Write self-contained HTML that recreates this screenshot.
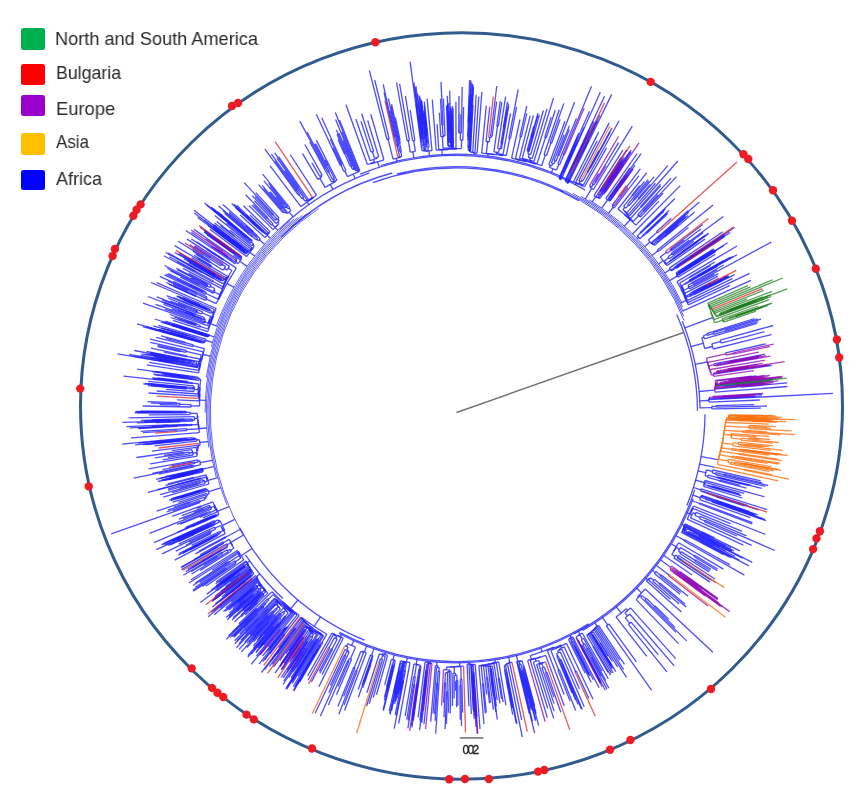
<!DOCTYPE html>
<html><head><meta charset="utf-8"><style>
html,body{margin:0;padding:0;background:#fff;width:862px;height:803px;overflow:hidden}
.lg{position:absolute;font-family:"Liberation Sans",sans-serif;font-size:19px;line-height:1;color:#2a2a2a;white-space:nowrap;transform-origin:0 0;-webkit-font-smoothing:antialiased;will-change:transform}
.sq{position:absolute;left:20.6px;width:24.6px;border-radius:2.5px}
svg{position:absolute;left:0;top:0}
</style></head><body>
<svg width="862" height="803" viewBox="0 0 862 803">
<ellipse cx="461.5" cy="406.0" rx="381" ry="373.3" fill="none" stroke="#315b8e" stroke-width="3"/>
<g stroke="#2222ff" stroke-opacity="0.8" stroke-width="1.3" fill="none"><path d="M372.9 182.7A244.5 244.5 0 0 1 578.8 200.8"/><path d="M397.0 174.0A245.8 245.8 0 0 1 564.3 191.6"/><path d="M360.2 174.2A257 257 0 0 1 585.0 189.9"/><path d="M381.0 165.5A258.3 258.3 0 0 1 573.8 182.4"/><path d="M281.1 237.1A248 248 0 0 1 392.3 173.0"/><path d="M279.4 229.1A255 255 0 0 1 369.3 172.9"/><path d="M364.5 640.1A245.5 245.5 0 0 1 239.7 527.8"/><path d="M282.9 598.6A254.5 254.5 0 0 1 245.5 554.8"/><path d="M588.4 623.7A249 249 0 0 1 339.6 632.4"/><path d="M589.1 624.8A250.3 250.3 0 0 1 339.0 633.5"/><path d="M694.7 489.9A250.5 250.5 0 0 1 574.1 633.7"/><path d="M693.1 498.6A251.8 251.8 0 0 1 582.4 630.6"/><path d="M705.0 414.2A248.5 248.5 0 0 1 686.9 505.6"/><path d="M676.7 314.5A241 241 0 0 1 697.5 410.8"/><path d="M682.3 321.3A243.5 243.5 0 0 1 700.0 408.3"/></g>
<g stroke="#2222ff" stroke-opacity="0.8" stroke-width="0.9" fill="none"><path d="M243.3 535.6A246.2 246.2 0 0 1 318.8 208.4"/><path d="M227.0 505.2A247.5 247.5 0 0 1 311.0 212.3"/><path d="M216.2 476.9A248.8 248.8 0 0 1 306.8 213.8"/><path d="M208.8 447.3A250.1 250.1 0 0 1 302.5 215.4"/><path d="M205.1 412.5A251.4 251.4 0 0 1 298.3 217.1"/><path d="M206.3 377.3A252.7 252.7 0 0 1 294.1 218.9"/><path d="M211.2 346.8A254 254 0 0 1 289.9 220.8"/><path d="M216.6 325.2A255.3 255.3 0 0 1 279.2 228.9"/></g>
<g stroke="#2222ff" stroke-opacity="0.8" stroke-width="1.0" fill="none"><path d="M560.3 190.0A245.5 245.5 0 0 1 684.1 320.5"/><path d="M564.7 190.7A246.8 246.8 0 0 1 683.7 316.1"/><path d="M573.0 193.4A248.1 248.1 0 0 1 683.2 311.6"/><path d="M581.2 196.5A249.4 249.4 0 0 1 682.5 307.1"/><path d="M589.4 199.9A250.7 250.7 0 0 1 681.8 302.6"/></g>
<g stroke="#2222ff" stroke-opacity="0.8" stroke-width="1.3" fill="none"><path d="M701.1 456.6L717.9 459.6"/><path d="M699.6 464.1L714.4 467.2"/><path d="M712.9 470.0L760.8 480.8"/><path d="M723.9 474.1L762.0 482.8"/><path d="M723.7 475.1L768.1 485.5"/><path d="M723.9 474.1A274.4 274.4 0 0 1 723.7 475.1"/><path d="M715.8 472.7L723.8 474.6"/><path d="M715.4 474.5L765.1 486.4"/><path d="M715.8 472.7A266.2 266.2 0 0 1 715.4 474.5"/><path d="M712.2 472.8L715.6 473.6"/><path d="M712.9 470.0A262.7 262.7 0 0 1 712.2 472.8"/><path d="M706.4 470.0L712.5 471.4"/><path d="M718.3 477.2L751.2 485.3"/><path d="M718.2 477.6L761.7 488.4"/><path d="M718.3 477.2A269.6 269.6 0 0 1 718.2 477.6"/><path d="M716.7 477.0L718.2 477.4"/><path d="M716.5 477.6L747.9 485.4"/><path d="M716.7 477.0A268.0 268.0 0 0 1 716.5 477.6"/><path d="M708.1 475.2L716.6 477.3"/><path d="M719.7 480.0L740.3 485.3"/><path d="M719.5 481.1L746.5 488.1"/><path d="M719.7 480.0A271.8 271.8 0 0 1 719.5 481.1"/><path d="M707.5 477.4L719.6 480.6"/><path d="M708.1 475.2A259.3 259.3 0 0 1 707.5 477.4"/><path d="M705.1 475.6L707.8 476.3"/><path d="M706.4 470.0A256.5 256.5 0 0 1 705.1 475.6"/><path d="M705.4 472.7L705.8 472.8"/><path d="M698.0 470.9L705.4 472.7"/><path d="M704.9 480.5L764.5 496.8"/><path d="M705.2 482.4L744.2 493.3"/><path d="M713.1 486.3L739.3 493.8"/><path d="M713.0 486.6L740.3 494.5"/><path d="M713.1 486.3A267.0 267.0 0 0 1 713.0 486.6"/><path d="M711.5 486.0L713.0 486.4"/><path d="M711.4 486.6L731.6 492.4"/><path d="M711.5 486.0A265.4 265.4 0 0 1 711.4 486.6"/><path d="M707.5 485.2L711.4 486.3"/><path d="M707.3 485.8L741.3 495.7"/><path d="M707.5 485.2A261.3 261.3 0 0 1 707.3 485.8"/><path d="M704.6 484.6L707.4 485.5"/><path d="M705.2 482.4A258.3 258.3 0 0 1 704.6 484.6"/><path d="M704.5 483.4L704.9 483.5"/><path d="M703.6 486.4L742.3 498.0"/><path d="M704.5 483.4A257.9 257.9 0 0 1 703.6 486.4"/><path d="M703.7 484.8L704.1 484.9"/><path d="M704.9 480.5A257.5 257.5 0 0 1 703.7 484.8"/><path d="M703.9 482.5L704.3 482.7"/><path d="M695.6 480.2L703.9 482.5"/><path d="M701.0 488.9L767.1 509.6"/><path d="M702.4 491.0L747.5 505.4"/><path d="M716.5 496.4L758.6 509.9"/><path d="M716.4 496.8L744.4 505.8"/><path d="M716.5 496.4A273.2 273.2 0 0 1 716.4 496.8"/><path d="M706.9 493.5L716.4 496.6"/><path d="M707.1 492.9A263.2 263.2 0 0 1 706.9 493.5"/><path d="M702.2 491.6L707.0 493.2"/><path d="M702.4 491.0A258.1 258.1 0 0 1 702.2 491.6"/><path d="M700.4 490.7L702.3 491.3"/><path d="M701.0 488.9A256.2 256.2 0 0 1 700.4 490.7"/><path d="M700.3 489.7L700.7 489.8"/><path d="M693.4 487.5L700.3 489.7"/><path d="M701.6 495.4L749.6 511.6"/><path d="M715.3 500.4L757.9 514.9"/><path d="M719.4 502.2L754.0 514.0"/><path d="M719.3 502.6L755.7 515.1"/><path d="M719.4 502.2A277.8 277.8 0 0 1 719.3 502.6"/><path d="M715.1 501.0L719.4 502.4"/><path d="M715.3 500.4A273.4 273.4 0 0 1 715.1 501.0"/><path d="M701.8 496.1L715.2 500.7"/><path d="M705.9 498.5L753.4 514.8"/><path d="M716.6 502.6L765.0 519.4"/><path d="M716.5 503.0L761.3 518.6"/><path d="M716.6 502.6A275.3 275.3 0 0 1 716.5 503.0"/><path d="M712.1 501.2L716.5 502.8"/><path d="M711.9 501.8L766.0 520.7"/><path d="M712.1 501.2A270.5 270.5 0 0 1 711.9 501.8"/><path d="M705.6 499.3L712.0 501.5"/><path d="M705.9 498.5A263.8 263.8 0 0 1 705.6 499.3"/><path d="M701.4 497.4L705.8 498.9"/><path d="M701.8 496.1A259.2 259.2 0 0 1 701.4 497.4"/><path d="M701.2 496.6L701.6 496.7"/><path d="M701.6 495.4A258.8 258.8 0 0 1 701.2 496.6"/><path d="M701.0 495.9L701.4 496.0"/><path d="M699.7 499.6L750.4 517.7"/><path d="M701.0 495.9A258.4 258.4 0 0 1 699.7 499.6"/><path d="M700.0 497.6L700.4 497.7"/><path d="M693.0 495.1L700.0 497.6"/><path d="M699.8 503.0L752.4 522.6"/><path d="M699.5 504.0L752.2 523.9"/><path d="M699.8 503.0A259.6 259.6 0 0 1 699.5 504.0"/><path d="M695.5 502.0L699.6 503.5"/><path d="M692.3 500.8L695.5 502.0"/><path d="M693.3 506.0L765.3 534.4"/><path d="M692.8 508.4L730.6 523.7"/><path d="M696.1 512.3L742.2 531.4"/><path d="M700.4 516.3L746.5 535.9"/><path d="M705.1 520.3L774.9 550.5"/><path d="M704.5 521.7L736.9 536.0"/><path d="M705.1 520.3A271.0 271.0 0 0 1 704.5 521.7"/><path d="M699.4 518.6L704.8 521.0"/><path d="M700.4 516.3A265.0 265.0 0 0 1 699.4 518.6"/><path d="M694.9 515.3L699.9 517.4"/><path d="M696.1 512.3A259.6 259.6 0 0 1 694.9 515.3"/><path d="M692.9 512.7L695.5 513.8"/><path d="M690.6 517.9L751.6 545.4"/><path d="M692.9 512.7A256.7 256.7 0 0 1 690.6 517.9"/><path d="M690.2 514.6L691.7 515.3"/><path d="M692.8 508.4A255.0 255.0 0 0 1 690.2 514.6"/><path d="M691.1 511.4L691.5 511.5"/><path d="M693.3 506.0A254.6 254.6 0 0 1 691.1 511.4"/><path d="M691.9 508.5L692.2 508.7"/><path d="M687.2 519.2L743.4 545.2"/><path d="M691.9 508.5A254.2 254.2 0 0 1 687.2 519.2"/><path d="M689.2 513.7L689.6 513.9"/><path d="M687.4 512.9L689.2 513.7"/><path d="M702.0 531.8L714.5 537.8"/><path d="M701.8 532.3L739.9 550.9"/><path d="M702.0 531.8A272.9 272.9 0 0 1 701.8 532.3"/><path d="M685.1 523.8L701.9 532.0"/><path d="M685.1 524.7L710.0 536.9"/><path d="M704.8 535.0L731.2 548.0"/><path d="M704.5 535.5L725.6 546.0"/><path d="M704.8 535.0A276.9 276.9 0 0 1 704.5 535.5"/><path d="M685.5 525.8L704.6 535.3"/><path d="M685.9 526.9L734.2 551.0"/><path d="M686.0 527.5L732.0 550.6"/><path d="M687.1 528.7L731.6 551.1"/><path d="M699.1 535.4L752.3 562.3"/><path d="M699.2 536.0L742.7 558.1"/><path d="M699.0 536.5L719.7 547.1"/><path d="M699.2 536.0A272.4 272.4 0 0 1 699.0 536.5"/><path d="M698.8 536.1L699.1 536.3"/><path d="M699.1 535.4A272.0 272.0 0 0 1 698.8 536.1"/><path d="M693.3 532.9L699.0 535.7"/><path d="M692.7 534.0L725.6 550.8"/><path d="M693.3 532.9A265.6 265.6 0 0 1 692.7 534.0"/><path d="M689.2 531.5L693.0 533.4"/><path d="M688.7 532.5L735.2 556.5"/><path d="M689.2 531.5A261.4 261.4 0 0 1 688.7 532.5"/><path d="M688.6 531.8L688.9 532.0"/><path d="M688.1 532.8L714.2 546.4"/><path d="M688.6 531.8A261.0 261.0 0 0 1 688.1 532.8"/><path d="M687.0 531.6L688.3 532.3"/><path d="M686.5 532.5L739.0 560.0"/><path d="M687.0 531.6A259.4 259.4 0 0 1 686.5 532.5"/><path d="M685.6 531.5L686.7 532.1"/><path d="M687.1 528.7A258.2 258.2 0 0 1 685.6 531.5"/><path d="M685.4 529.6L686.4 530.1"/><path d="M684.2 531.9L748.9 565.9"/><path d="M685.4 529.6A257.1 257.1 0 0 1 684.2 531.9"/><path d="M684.4 530.6L684.8 530.8"/><path d="M686.0 527.5A256.7 256.7 0 0 1 684.4 530.6"/><path d="M684.9 528.9L685.2 529.0"/><path d="M685.9 526.9A256.3 256.3 0 0 1 684.9 528.9"/><path d="M685.0 527.7L685.4 527.9"/><path d="M701.1 541.5L731.7 557.6"/><path d="M700.8 542.0L729.8 557.3"/><path d="M701.1 541.5A276.5 276.5 0 0 1 700.8 542.0"/><path d="M682.7 532.1L700.9 541.7"/><path d="M685.0 527.7A255.9 255.9 0 0 1 682.7 532.1"/><path d="M683.5 529.7L683.9 529.9"/><path d="M685.5 525.8A255.5 255.5 0 0 1 683.5 529.7"/><path d="M684.2 527.6L684.5 527.8"/><path d="M681.6 532.4L723.7 554.8"/><path d="M684.2 527.6A255.1 255.1 0 0 1 681.6 532.4"/><path d="M682.6 529.8L682.9 530.0"/><path d="M685.1 524.7A254.7 254.7 0 0 1 682.6 529.8"/><path d="M683.5 527.1L683.9 527.3"/><path d="M685.1 523.8A254.3 254.3 0 0 1 683.5 527.1"/><path d="M684.0 525.3L684.3 525.5"/><path d="M682.1 524.4L684.0 525.3"/><path d="M684.9 539.8L730.0 564.9"/><path d="M684.1 541.0L744.4 575.1"/><path d="M684.9 539.8A261.4 261.4 0 0 1 684.1 541.0"/><path d="M679.5 537.6L684.5 540.4"/><path d="M676.1 535.7L679.5 537.6"/><path d="M678.6 542.8L723.4 569.1"/><path d="M694.6 555.2L717.6 569.0"/><path d="M693.9 556.4L717.5 570.7"/><path d="M694.6 555.2A277.6 277.6 0 0 1 693.9 556.4"/><path d="M680.6 547.6L694.3 555.8"/><path d="M695.6 559.8L711.0 569.3"/><path d="M694.9 561.0L710.2 570.5"/><path d="M695.6 559.8A280.8 280.8 0 0 1 694.9 561.0"/><path d="M681.1 551.6L695.2 560.4"/><path d="M679.9 553.5L709.1 571.9"/><path d="M681.1 551.6A264.2 264.2 0 0 1 679.9 553.5"/><path d="M678.4 551.2L680.5 552.6"/><path d="M680.6 547.6A261.7 261.7 0 0 1 678.4 551.2"/><path d="M676.3 547.4L679.5 549.4"/><path d="M678.6 555.5L715.0 579.0"/><path d="M682.2 560.6L716.0 582.7"/><path d="M682.5 560.2A269.9 269.9 0 0 1 682.2 560.6"/><path d="M677.8 557.4L682.3 560.4"/><path d="M677.4 558.0L710.6 579.9"/><path d="M677.8 557.4A264.5 264.5 0 0 1 677.4 558.0"/><path d="M677.3 557.5L677.6 557.7"/><path d="M678.6 555.5A264.1 264.1 0 0 1 677.3 557.5"/><path d="M675.7 555.1L677.9 556.5"/><path d="M673.9 557.9L710.0 582.1"/><path d="M675.7 555.1A261.5 261.5 0 0 1 673.9 557.9"/><path d="M671.8 554.5L674.8 556.5"/><path d="M676.3 547.4A257.9 257.9 0 0 1 671.8 554.5"/><path d="M673.7 550.8L674.1 551.0"/><path d="M678.6 542.8A257.5 257.5 0 0 1 673.7 550.8"/><path d="M675.9 546.6L676.2 546.8"/><path d="M671.3 543.8L675.9 546.6"/><path d="M667.8 558.2L692.1 575.0"/><path d="M663.8 555.5L667.8 558.2"/><path d="M686.8 577.0L717.5 599.0"/><path d="M686.8 577.0A283.0 283.0 0 0 1 686.5 577.4"/><path d="M680.0 572.5L686.6 577.2"/><path d="M660.6 560.0L670.6 567.2"/><path d="M669.3 574.5A267.4 267.4 0 0 1 668.5 575.5"/><path d="M665.7 572.6L668.9 575.0"/><path d="M656.5 565.5L665.7 572.6"/><path d="M661.1 574.8L688.1 596.2"/><path d="M660.2 575.9L680.8 592.4"/><path d="M661.1 574.8A261.2 261.2 0 0 1 660.2 575.9"/><path d="M655.9 571.6L660.7 575.4"/><path d="M654.4 573.5L680.0 594.3"/><path d="M655.9 571.6A255.1 255.1 0 0 1 654.4 573.5"/><path d="M654.3 571.8L655.2 572.5"/><path d="M652.6 570.5L654.3 571.8"/><path d="M660.2 583.2L685.2 604.2"/><path d="M659.2 584.3L686.1 607.1"/><path d="M660.2 583.2A265.8 265.8 0 0 1 659.2 584.3"/><path d="M654.5 579.4L659.7 583.8"/><path d="M652.9 581.2L679.2 603.9"/><path d="M654.5 579.4A258.9 258.9 0 0 1 652.9 581.2"/><path d="M650.7 577.8L653.7 580.3"/><path d="M648.6 580.1L670.5 599.2"/><path d="M650.7 577.8A255.0 255.0 0 0 1 648.6 580.1"/><path d="M648.9 578.3L649.7 578.9"/><path d="M646.5 581.1L681.5 612.1"/><path d="M648.9 578.3A254.0 254.0 0 0 1 646.5 581.1"/><path d="M647.4 579.4L647.7 579.7"/><path d="M646.1 578.2L647.4 579.4"/><path d="M645.2 589.0L712.9 652.2"/><path d="M655.1 606.0L668.9 619.4"/><path d="M654.2 606.9L675.0 627.4"/><path d="M655.1 606.0A277.3 277.3 0 0 1 654.2 606.9"/><path d="M646.3 598.3L654.6 606.4"/><path d="M645.0 599.6L686.6 640.9"/><path d="M646.3 598.3A265.6 265.6 0 0 1 645.0 599.6"/><path d="M642.3 595.6L645.7 598.9"/><path d="M640.7 597.1L676.0 632.4"/><path d="M642.3 595.6A260.8 260.8 0 0 1 640.7 597.1"/><path d="M640.5 595.4L641.5 596.4"/><path d="M636.2 599.6L678.5 643.6"/><path d="M640.5 595.4A259.4 259.4 0 0 1 636.2 599.6"/><path d="M637.7 596.8L638.4 597.5"/><path d="M645.2 589.0A258.4 258.4 0 0 1 637.7 596.8"/><path d="M641.2 592.6L641.5 592.9"/><path d="M636.8 588.3L641.2 592.6"/><path d="M630.5 607.9L675.7 658.6"/><path d="M629.7 614.0L674.2 665.8"/><path d="M631.1 622.2L658.2 654.7"/><path d="M628.4 624.4L666.9 671.8"/><path d="M631.1 622.2A272.9 272.9 0 0 1 628.4 624.4"/><path d="M625.3 617.8L629.8 623.3"/><path d="M629.7 614.0A265.8 265.8 0 0 1 625.3 617.8"/><path d="M624.9 612.8L627.5 615.9"/><path d="M630.5 607.9A261.7 261.7 0 0 1 624.9 612.8"/><path d="M626.3 608.7L627.7 610.4"/><path d="M616.1 617.1L646.8 656.4"/><path d="M626.3 608.7A259.5 259.5 0 0 1 616.1 617.1"/><path d="M621.0 612.6L621.3 613.0"/><path d="M616.4 607.0L621.0 612.6"/><path d="M609.0 623.9L636.4 661.9"/><path d="M606.3 625.9L651.6 690.4"/><path d="M609.0 623.9A260.7 260.7 0 0 1 606.3 625.9"/><path d="M604.8 620.9L607.7 624.9"/><path d="M602.5 617.6L604.8 620.9"/><path d="M598.5 625.3L624.5 664.3"/><path d="M597.4 626.5L619.6 660.1"/><path d="M596.4 627.7L623.6 669.6"/><path d="M595.3 628.8L626.5 677.3"/><path d="M594.3 630.0L617.6 666.8"/><path d="M600.6 642.7L612.3 661.5"/><path d="M599.9 643.1L607.9 656.0"/><path d="M600.6 642.7A271.6 271.6 0 0 1 599.9 643.1"/><path d="M593.4 631.9L600.2 642.9"/><path d="M592.9 634.4L615.8 671.7"/><path d="M599.3 645.3L611.7 665.6"/><path d="M599.1 645.5L611.7 666.1"/><path d="M599.3 645.3A273.1 273.1 0 0 1 599.1 645.5"/><path d="M595.7 639.6L599.2 645.4"/><path d="M595.3 639.8L612.5 668.0"/><path d="M595.7 639.6A266.4 266.4 0 0 1 595.3 639.8"/><path d="M593.2 636.0L595.5 639.7"/><path d="M592.8 636.2L611.1 666.2"/><path d="M593.2 636.0A262.0 262.0 0 0 1 592.8 636.2"/><path d="M592.2 634.9L593.0 636.1"/><path d="M592.9 634.4A260.5 260.5 0 0 1 592.2 634.9"/><path d="M592.4 634.3L592.6 634.6"/><path d="M591.6 634.8L612.2 668.6"/><path d="M592.4 634.3A260.1 260.1 0 0 1 591.6 634.8"/><path d="M591.4 633.6L592.0 634.5"/><path d="M590.0 634.5L613.1 672.9"/><path d="M591.4 633.6A259.0 259.0 0 0 1 590.0 634.5"/><path d="M590.5 633.7L590.7 634.1"/><path d="M593.4 631.9A258.6 258.6 0 0 1 590.5 633.7"/><path d="M591.7 632.5L592.0 632.8"/><path d="M588.4 634.5L611.4 673.1"/><path d="M591.7 632.5A258.2 258.2 0 0 1 588.4 634.5"/><path d="M589.9 633.2L590.1 633.5"/><path d="M593.6 646.2L610.6 675.2"/><path d="M593.0 646.6L608.1 672.5"/><path d="M593.6 646.2A270.9 270.9 0 0 1 593.0 646.6"/><path d="M586.7 635.1L593.3 646.4"/><path d="M589.9 633.2A257.8 257.8 0 0 1 586.7 635.1"/><path d="M588.1 633.8L588.3 634.1"/><path d="M594.3 630.0A257.4 257.4 0 0 1 588.1 633.8"/><path d="M591.0 631.6L591.2 631.9"/><path d="M595.3 628.8A257.0 257.0 0 0 1 591.0 631.6"/><path d="M593.0 629.9L593.2 630.2"/><path d="M596.4 627.7A256.6 256.6 0 0 1 593.0 629.9"/><path d="M594.5 628.4L594.7 628.8"/><path d="M597.4 626.5A256.2 256.2 0 0 1 594.5 628.4"/><path d="M595.7 627.1L596.0 627.5"/><path d="M598.5 625.3A255.8 255.8 0 0 1 595.7 627.1"/><path d="M596.9 625.9L597.1 626.2"/><path d="M594.9 622.8L596.9 625.9"/><path d="M582.2 633.0L608.3 678.8"/><path d="M583.5 638.3L602.0 671.1"/><path d="M587.9 648.3L605.8 680.5"/><path d="M591.8 657.4L608.9 688.2"/><path d="M591.2 657.7L601.3 676.2"/><path d="M591.8 657.4A279.8 279.8 0 0 1 591.2 657.7"/><path d="M586.7 648.9L591.5 657.5"/><path d="M587.9 648.3A269.9 269.9 0 0 1 586.7 648.9"/><path d="M584.5 643.6L587.3 648.6"/><path d="M582.8 644.6L607.0 689.1"/><path d="M584.5 643.6A264.2 264.2 0 0 1 582.8 644.6"/><path d="M581.2 639.6L583.7 644.1"/><path d="M583.5 638.3A259.1 259.1 0 0 1 581.2 639.6"/><path d="M580.0 634.7L582.4 638.9"/><path d="M581.5 645.3L601.0 681.5"/><path d="M585.5 653.3L605.3 690.2"/><path d="M585.3 653.5L601.0 683.0"/><path d="M585.5 653.3A273.2 273.2 0 0 1 585.3 653.5"/><path d="M581.2 645.5L585.4 653.4"/><path d="M581.5 645.3A264.3 264.3 0 0 1 581.2 645.5"/><path d="M581.2 645.0L581.4 645.4"/><path d="M580.6 645.3L599.5 680.8"/><path d="M581.2 645.0A263.9 263.9 0 0 1 580.6 645.3"/><path d="M578.2 640.2L580.9 645.2"/><path d="M577.7 640.4L600.1 682.5"/><path d="M578.2 640.2A258.2 258.2 0 0 1 577.7 640.4"/><path d="M576.8 638.2L578.0 640.3"/><path d="M576.8 638.2A255.7 255.7 0 0 1 576.4 638.4"/><path d="M575.9 637.0L576.6 638.3"/><path d="M580.0 634.7A254.3 254.3 0 0 1 575.9 637.0"/><path d="M577.8 635.5L578.0 635.9"/><path d="M582.2 633.0A253.9 253.9 0 0 1 577.8 635.5"/><path d="M579.8 633.9L580.0 634.3"/><path d="M578.4 631.4L579.8 633.9"/><path d="M572.7 636.8L599.1 687.7"/><path d="M572.3 638.6L593.3 679.7"/><path d="M574.5 645.3L589.4 674.8"/><path d="M576.2 649.3L589.7 676.1"/><path d="M576.0 649.4L588.2 673.7"/><path d="M576.2 649.3A265.3 265.3 0 0 1 576.0 649.4"/><path d="M574.1 645.5L576.1 649.4"/><path d="M574.5 645.3A261.0 261.0 0 0 1 574.1 645.5"/><path d="M572.1 641.0L574.3 645.4"/><path d="M570.9 641.6L591.2 682.2"/><path d="M572.1 641.0A256.1 256.1 0 0 1 570.9 641.6"/><path d="M570.6 639.5L571.5 641.3"/><path d="M572.3 638.6A254.0 254.0 0 0 1 570.6 639.5"/><path d="M571.0 638.2L571.4 639.1"/><path d="M568.5 639.4L585.2 673.2"/><path d="M571.0 638.2A253.0 253.0 0 0 1 568.5 639.4"/><path d="M569.6 638.4L569.8 638.8"/><path d="M572.7 636.8A252.6 252.6 0 0 1 569.6 638.4"/><path d="M571.0 637.3L571.1 637.6"/><path d="M570.1 635.5L571.0 637.3"/><path d="M566.4 643.3L593.0 699.2"/><path d="M576.3 671.2L588.9 698.4"/><path d="M576.3 671.2A285.0 285.0 0 0 1 574.9 671.8"/><path d="M564.2 646.8L575.6 671.5"/><path d="M561.8 649.1L579.5 689.0"/><path d="M560.4 652.0L584.2 706.8"/><path d="M561.0 659.4L582.3 709.6"/><path d="M562.4 663.9L581.4 709.0"/><path d="M566.0 674.0L574.6 694.5"/><path d="M565.5 674.3L578.1 704.5"/><path d="M566.0 674.0A283.6 283.6 0 0 1 565.5 674.3"/><path d="M561.7 664.2L565.8 674.2"/><path d="M562.4 663.9A272.8 272.8 0 0 1 561.7 664.2"/><path d="M560.2 659.8L562.0 664.1"/><path d="M561.0 659.4A268.1 268.1 0 0 1 560.2 659.8"/><path d="M560.4 659.1L560.6 659.6"/><path d="M558.9 659.7L575.6 700.0"/><path d="M560.4 659.1A267.6 267.6 0 0 1 558.9 659.7"/><path d="M558.1 655.7L559.7 659.4"/><path d="M556.9 656.2L572.0 692.8"/><path d="M558.1 655.7A263.5 263.5 0 0 1 556.9 656.2"/><path d="M556.6 653.6L557.5 655.9"/><path d="M560.4 652.0A261.1 261.1 0 0 1 556.6 653.6"/><path d="M557.7 650.9L558.5 652.8"/><path d="M561.8 649.1A259.0 259.0 0 0 1 557.7 650.9"/><path d="M559.3 649.0L559.7 650.0"/><path d="M564.2 646.8A257.9 257.9 0 0 1 559.3 649.0"/><path d="M561.0 646.2L561.8 647.9"/><path d="M559.4 669.7L575.7 710.6"/><path d="M558.0 670.2L570.1 700.9"/><path d="M559.4 669.7A277.0 277.0 0 0 1 558.0 670.2"/><path d="M550.9 650.4L558.7 670.0"/><path d="M561.0 646.2A256.0 256.0 0 0 1 550.9 650.4"/><path d="M555.8 648.0L556.0 648.4"/><path d="M566.4 643.3A255.6 255.6 0 0 1 555.8 648.0"/><path d="M560.8 645.0L561.1 645.7"/><path d="M547.3 650.6L564.1 694.6"/><path d="M560.8 645.0A254.8 254.8 0 0 1 547.3 650.6"/><path d="M553.8 647.1L554.1 647.9"/><path d="M545.7 655.4L564.3 706.0"/><path d="M547.0 672.5L560.8 712.2"/><path d="M545.6 673.0L553.9 697.1"/><path d="M547.0 672.5A275.3 275.3 0 0 1 545.6 673.0"/><path d="M544.3 667.0L546.3 672.8"/><path d="M542.0 667.8L554.0 703.6"/><path d="M544.3 667.0A269.2 269.2 0 0 1 542.0 667.8"/><path d="M541.9 663.6L543.2 667.4"/><path d="M538.9 664.5L554.1 711.1"/><path d="M541.9 663.6A265.2 265.2 0 0 1 538.9 664.5"/><path d="M540.3 663.7L540.4 664.1"/><path d="M545.5 661.9A264.8 264.8 0 0 1 540.3 663.7"/><path d="M542.8 662.4L542.9 662.8"/><path d="M536.6 664.5L553.7 718.4"/><path d="M542.8 662.4A264.4 264.4 0 0 1 536.6 664.5"/><path d="M538.7 660.5L539.7 663.5"/><path d="M533.4 662.2L547.7 708.5"/><path d="M538.7 660.5A261.3 261.3 0 0 1 533.4 662.2"/><path d="M535.3 659.0L536.1 661.4"/><path d="M545.7 655.4A258.7 258.7 0 0 1 535.3 659.0"/><path d="M540.4 656.8L540.5 657.2"/><path d="M530.2 660.1L547.3 717.6"/><path d="M540.4 656.8A258.3 258.3 0 0 1 530.2 660.1"/><path d="M535.2 658.1L535.3 658.5"/><path d="M535.2 658.1A257.9 257.9 0 0 1 527.6 660.4"/><path d="M530.3 655.6L531.4 659.3"/><path d="M553.8 647.1A254.0 254.0 0 0 1 530.3 655.6"/><path d="M542.0 651.3L542.1 651.6"/><path d="M540.9 648.1L542.0 651.3"/><path d="M523.9 665.6L534.7 705.9"/><path d="M524.3 668.9L536.1 713.5"/><path d="M526.1 678.0L538.7 725.7"/><path d="M525.6 678.1L534.6 712.6"/><path d="M526.1 678.0A274.5 274.5 0 0 1 525.6 678.1"/><path d="M523.8 670.1L525.9 678.1"/><path d="M523.1 670.3L535.8 719.6"/><path d="M523.8 670.1A266.2 266.2 0 0 1 523.1 670.3"/><path d="M523.2 669.2L523.4 670.2"/><path d="M524.3 668.9A265.2 265.2 0 0 1 523.2 669.2"/><path d="M522.9 665.9L523.7 669.1"/><path d="M523.9 665.6A261.9 261.9 0 0 1 522.9 665.9"/><path d="M522.2 661.0L523.4 665.7"/><path d="M523.1 672.6L535.5 720.9"/><path d="M522.6 672.8L532.2 710.3"/><path d="M523.1 672.6A268.5 268.5 0 0 1 522.6 672.8"/><path d="M520.7 664.0L522.9 672.7"/><path d="M523.5 678.2L531.1 708.5"/><path d="M522.9 678.3L527.8 697.6"/><path d="M523.5 678.2A274.0 274.0 0 0 1 522.9 678.3"/><path d="M521.3 670.7L523.2 678.2"/><path d="M520.6 670.9L530.2 709.9"/><path d="M521.3 670.7A266.3 266.3 0 0 1 520.6 670.9"/><path d="M520.3 668.2L520.9 670.8"/><path d="M519.4 668.4L532.4 721.4"/><path d="M520.3 668.2A263.5 263.5 0 0 1 519.4 668.4"/><path d="M518.9 664.5L519.9 668.3"/><path d="M520.7 664.0A259.6 259.6 0 0 1 518.9 664.5"/><path d="M519.2 661.7L519.8 664.3"/><path d="M522.2 661.0A257.0 257.0 0 0 1 519.2 661.7"/><path d="M520.6 661.0L520.7 661.3"/><path d="M517.3 661.8L534.6 733.0"/><path d="M520.6 661.0A256.6 256.6 0 0 1 517.3 661.8"/><path d="M518.8 661.0L518.9 661.4"/><path d="M516.7 661.5L529.3 713.6"/><path d="M518.8 661.0A256.2 256.2 0 0 1 516.7 661.5"/><path d="M517.7 660.9L517.8 661.2"/><path d="M516.4 655.5L517.7 660.9"/><path d="M509.7 663.1L521.7 719.9"/><path d="M507.6 664.5L522.3 737.0"/><path d="M505.7 665.9L516.9 723.6"/><path d="M506.5 672.7L516.3 723.6"/><path d="M507.8 682.2L512.7 708.2"/><path d="M507.3 682.3L512.1 708.1"/><path d="M507.8 682.2A274.5 274.5 0 0 1 507.3 682.3"/><path d="M505.7 672.8L507.5 682.2"/><path d="M506.5 672.7A264.9 264.9 0 0 1 505.7 672.8"/><path d="M505.6 669.9L506.1 672.8"/><path d="M504.5 670.1L512.7 714.6"/><path d="M505.6 669.9A262.0 262.0 0 0 1 504.5 670.1"/><path d="M504.3 666.1L505.0 670.0"/><path d="M505.7 665.9A258.1 258.1 0 0 1 504.3 666.1"/><path d="M504.8 665.1L505.0 666.0"/><path d="M507.6 664.5A257.2 257.2 0 0 1 504.8 665.1"/><path d="M506.0 663.8L506.2 664.8"/><path d="M509.7 663.1A256.2 256.2 0 0 1 506.0 663.8"/><path d="M507.8 663.1L507.8 663.5"/><path d="M511.9 662.2A255.8 255.8 0 0 1 507.8 663.1"/><path d="M509.7 662.3L509.8 662.7"/><path d="M508.7 657.3L509.7 662.3"/><path d="M498.7 662.0L506.0 705.3"/><path d="M499.3 678.3L503.1 702.2"/><path d="M498.3 678.5L501.6 699.0"/><path d="M499.3 678.3A269.2 269.2 0 0 1 498.3 678.5"/><path d="M496.3 662.8L498.8 678.4"/><path d="M494.0 663.5L499.9 703.3"/><path d="M492.4 666.2L497.2 700.0"/><path d="M491.2 668.4L496.4 706.5"/><path d="M491.1 670.2L495.2 700.3"/><path d="M491.8 678.3L497.3 719.7"/><path d="M491.5 678.3L495.9 711.8"/><path d="M491.8 678.3A268.1 268.1 0 0 1 491.5 678.3"/><path d="M490.6 670.3L491.7 678.3"/><path d="M491.1 670.2A260.0 260.0 0 0 1 490.6 670.3"/><path d="M490.6 668.4L490.9 670.3"/><path d="M491.2 668.4A258.2 258.2 0 0 1 490.6 668.4"/><path d="M490.9 668.0L490.9 668.4"/><path d="M489.8 668.1L493.4 695.7"/><path d="M490.9 668.0A257.8 257.8 0 0 1 489.8 668.1"/><path d="M490.1 666.5L490.3 668.1"/><path d="M492.4 666.2A256.2 256.2 0 0 1 490.1 666.5"/><path d="M491.2 665.9L491.3 666.3"/><path d="M488.0 666.4L493.4 709.7"/><path d="M491.2 665.9A255.8 255.8 0 0 1 488.0 666.4"/><path d="M489.5 665.8L489.6 666.2"/><path d="M487.6 677.5L490.5 702.7"/><path d="M486.6 677.6L489.5 703.3"/><path d="M487.6 677.5A266.8 266.8 0 0 1 486.6 677.6"/><path d="M485.8 666.2L487.1 677.5"/><path d="M489.5 665.8A255.4 255.4 0 0 1 485.8 666.2"/><path d="M487.6 665.6L487.7 666.0"/><path d="M483.6 666.1L486.6 694.4"/><path d="M487.6 665.6A255.0 255.0 0 0 1 483.6 666.1"/><path d="M485.5 665.4L485.6 665.8"/><path d="M483.5 683.7L486.3 712.6"/><path d="M482.5 683.8L485.3 713.5"/><path d="M483.5 683.7A272.6 272.6 0 0 1 482.5 683.8"/><path d="M481.2 665.9L483.0 683.8"/><path d="M485.5 665.4A254.6 254.6 0 0 1 481.2 665.9"/><path d="M483.3 665.3L483.4 665.7"/><path d="M478.9 665.7L484.0 724.0"/><path d="M483.3 665.3A254.2 254.2 0 0 1 478.9 665.7"/><path d="M481.1 665.1L481.1 665.5"/><path d="M494.0 663.5A253.8 253.8 0 0 1 481.1 665.1"/><path d="M487.5 664.0L487.5 664.4"/><path d="M496.3 662.8A253.4 253.4 0 0 1 487.5 664.0"/><path d="M491.8 663.0L491.9 663.4"/><path d="M498.7 662.0A253.0 253.0 0 0 1 491.8 663.0"/><path d="M495.2 662.1L495.3 662.5"/><path d="M494.9 659.8L495.2 662.1"/><path d="M475.2 664.5L480.0 729.0"/><path d="M473.9 671.7L477.0 716.8"/><path d="M473.7 673.5L477.7 733.5"/><path d="M473.7 684.8L475.9 718.6"/><path d="M474.1 684.8A272.9 272.9 0 0 1 473.7 684.8"/><path d="M473.2 673.5L473.9 684.8"/><path d="M473.7 673.5A261.5 261.5 0 0 1 473.2 673.5"/><path d="M473.3 671.7L473.4 673.5"/><path d="M473.9 671.7A259.7 259.7 0 0 1 473.3 671.7"/><path d="M473.2 665.8L473.6 671.7"/><path d="M472.7 675.0L476.0 727.0"/><path d="M472.5 676.1L474.9 716.4"/><path d="M472.1 676.1L474.2 712.0"/><path d="M472.5 676.1A264.1 264.1 0 0 1 472.1 676.1"/><path d="M472.2 675.0L472.3 676.1"/><path d="M472.7 675.0A263.0 263.0 0 0 1 472.2 675.0"/><path d="M471.9 665.9L472.5 675.0"/><path d="M473.2 665.8A253.9 253.9 0 0 1 471.9 665.9"/><path d="M472.6 665.5L472.6 665.9"/><path d="M471.2 665.6L474.2 718.7"/><path d="M472.6 665.5A253.5 253.5 0 0 1 471.2 665.6"/><path d="M471.8 665.1L471.9 665.5"/><path d="M470.8 665.2L473.3 710.2"/><path d="M471.8 665.1A253.1 253.1 0 0 1 470.8 665.2"/><path d="M471.3 664.8L471.3 665.2"/><path d="M475.2 664.5A252.7 252.7 0 0 1 471.3 664.8"/><path d="M473.2 664.2L473.2 664.6"/><path d="M469.0 664.5L471.4 714.0"/><path d="M473.2 664.2A252.3 252.3 0 0 1 469.0 664.5"/><path d="M471.1 664.0L471.1 664.4"/><path d="M467.1 664.2L468.9 706.4"/><path d="M471.1 664.0A251.9 251.9 0 0 1 467.1 664.2"/><path d="M469.1 663.7L469.1 664.1"/><path d="M469.0 662.5L469.1 663.7"/><path d="M461.9 679.2L462.6 712.6"/><path d="M460.9 685.5L461.5 726.0"/><path d="M459.9 685.5L460.3 719.8"/><path d="M460.9 685.5A273.0 273.0 0 0 1 459.9 685.5"/><path d="M460.3 679.2L460.4 685.5"/><path d="M461.9 679.2A266.7 266.7 0 0 1 460.3 679.2"/><path d="M460.9 666.7L461.1 679.2"/><path d="M457.8 680.4L457.9 705.7"/><path d="M456.6 681.7L456.6 707.1"/><path d="M455.6 681.7L455.6 690.8"/><path d="M456.6 681.7A269.2 269.2 0 0 1 455.6 681.7"/><path d="M456.1 680.4L456.1 681.7"/><path d="M457.8 680.4A267.9 267.9 0 0 1 456.1 680.4"/><path d="M456.9 675.3L456.9 680.4"/><path d="M454.3 675.3L454.1 698.6"/><path d="M456.9 675.3A262.8 262.8 0 0 1 454.3 675.3"/><path d="M455.6 673.3L455.6 675.3"/><path d="M452.9 673.3L452.4 705.9"/><path d="M455.6 673.3A260.8 260.8 0 0 1 452.9 673.3"/><path d="M454.3 667.1L454.3 673.3"/><path d="M451.1 671.4L450.2 713.6"/><path d="M449.5 672.3L448.4 712.8"/><path d="M447.5 691.6L446.4 724.0"/><path d="M446.5 691.6L445.1 729.0"/><path d="M447.5 691.6A279.2 279.2 0 0 1 446.5 691.6"/><path d="M447.6 673.0L447.0 691.6"/><path d="M445.4 682.7L444.0 717.2"/><path d="M444.5 682.7L443.6 702.6"/><path d="M445.4 682.7A270.5 270.5 0 0 1 444.5 682.7"/><path d="M445.4 672.9L444.9 682.7"/><path d="M447.6 673.0A260.6 260.6 0 0 1 445.4 672.9"/><path d="M446.5 672.2L446.5 672.9"/><path d="M449.5 672.3A259.9 259.9 0 0 1 446.5 672.2"/><path d="M448.1 671.4L448.0 672.3"/><path d="M451.1 671.4A259.0 259.0 0 0 1 448.1 671.4"/><path d="M449.6 669.9L449.6 671.4"/><path d="M449.6 669.9A257.5 257.5 0 0 1 443.5 669.6"/><path d="M446.6 667.0L446.5 669.8"/><path d="M454.3 667.1A254.7 254.7 0 0 1 446.6 667.0"/><path d="M450.5 666.7L450.5 667.1"/><path d="M460.9 666.7A254.3 254.3 0 0 1 450.5 666.7"/><path d="M455.7 666.3L455.7 666.7"/><path d="M463.6 666.2A253.9 253.9 0 0 1 455.7 666.3"/><path d="M459.7 665.9L459.7 666.3"/><path d="M459.6 662.8L459.7 665.9"/><path d="M439.7 671.4L435.7 733.8"/><path d="M437.7 683.1L435.1 720.8"/><path d="M436.8 683.1L434.5 714.0"/><path d="M437.7 683.1A271.3 271.3 0 0 1 436.8 683.1"/><path d="M438.1 671.3L437.3 683.1"/><path d="M439.7 671.4A259.5 259.5 0 0 1 438.1 671.3"/><path d="M439.2 667.6L438.9 671.4"/><path d="M436.6 667.4L433.0 713.4"/><path d="M439.2 667.6A255.6 255.6 0 0 1 436.6 667.4"/><path d="M438.0 665.8L437.9 667.5"/><path d="M435.4 665.6L430.7 721.6"/><path d="M438.0 665.8A254.0 254.0 0 0 1 435.4 665.6"/><path d="M436.7 665.3L436.7 665.7"/><path d="M437.0 662.0L436.7 665.3"/><path d="M430.3 663.7L424.0 723.9"/><path d="M426.6 679.1L421.7 723.0"/><path d="M426.2 679.1L423.5 703.3"/><path d="M426.6 679.1A268.3 268.3 0 0 1 426.2 679.1"/><path d="M428.1 664.3L426.4 679.1"/><path d="M425.6 681.3L421.0 721.6"/><path d="M425.3 681.2L419.6 730.1"/><path d="M425.6 681.3A270.5 270.5 0 0 1 425.3 681.2"/><path d="M426.6 671.4L425.4 681.2"/><path d="M426.1 671.4L422.7 700.4"/><path d="M426.6 671.4A260.7 260.7 0 0 1 426.1 671.4"/><path d="M426.5 669.8L426.3 671.4"/><path d="M425.9 669.7L419.9 720.6"/><path d="M426.5 669.8A259.0 259.0 0 0 1 425.9 669.7"/><path d="M426.9 664.1L426.2 669.7"/><path d="M428.1 664.3A253.4 253.4 0 0 1 426.9 664.1"/><path d="M427.5 663.8L427.5 664.2"/><path d="M428.6 663.9A253.0 253.0 0 0 1 427.5 663.8"/><path d="M428.1 663.4L428.1 663.9"/><path d="M430.3 663.7A252.5 252.5 0 0 1 428.1 663.4"/><path d="M429.3 663.1L429.2 663.5"/><path d="M432.0 663.4A252.1 252.1 0 0 1 429.3 663.1"/><path d="M430.7 662.9L430.6 663.3"/><path d="M425.1 662.2L418.1 717.4"/><path d="M430.7 662.9A251.7 251.7 0 0 1 425.1 662.2"/><path d="M427.9 662.2L427.9 662.6"/><path d="M428.0 661.2L427.9 662.2"/><path d="M420.9 666.4L413.3 720.6"/><path d="M418.6 680.2L411.9 727.5"/><path d="M417.9 682.8L412.5 720.5"/><path d="M417.5 682.8L411.3 726.0"/><path d="M417.9 682.8A273.1 273.1 0 0 1 417.5 682.8"/><path d="M418.1 680.2L417.7 682.8"/><path d="M418.6 680.2A270.4 270.4 0 0 1 418.1 680.2"/><path d="M419.9 669.3L418.3 680.2"/><path d="M416.9 684.5L412.4 715.5"/><path d="M416.9 684.5A274.8 274.8 0 0 1 416.5 684.4"/><path d="M418.9 669.2L416.7 684.4"/><path d="M419.9 669.3A259.4 259.4 0 0 1 418.9 669.2"/><path d="M419.8 666.2L419.4 669.2"/><path d="M420.9 666.4A256.4 256.4 0 0 1 419.8 666.2"/><path d="M420.5 665.3L420.4 666.3"/><path d="M414.7 684.4L407.9 728.4"/><path d="M413.7 684.3L408.0 720.6"/><path d="M414.7 684.4A275.1 275.1 0 0 1 413.7 684.3"/><path d="M415.3 676.9L414.2 684.4"/><path d="M413.7 676.7L406.8 719.5"/><path d="M415.3 676.9A267.6 267.6 0 0 1 413.7 676.7"/><path d="M416.4 664.6L414.5 676.8"/><path d="M420.5 665.3A255.3 255.3 0 0 1 416.4 664.6"/><path d="M418.5 664.6L418.5 665.0"/><path d="M414.0 663.8L405.2 715.8"/><path d="M418.5 664.6A254.9 254.9 0 0 1 414.0 663.8"/><path d="M416.3 663.8L416.3 664.2"/><path d="M417.0 659.7L416.3 663.8"/><path d="M410.0 662.6L398.7 723.3"/><path d="M403.6 680.9L394.2 728.7"/><path d="M403.1 680.8L396.2 715.8"/><path d="M403.6 680.9A273.6 273.6 0 0 1 403.1 680.8"/><path d="M405.4 670.5L403.4 680.9"/><path d="M402.7 680.3L400.4 692.1"/><path d="M402.2 680.2L395.2 714.7"/><path d="M402.7 680.3A273.2 273.2 0 0 1 402.2 680.2"/><path d="M404.5 670.3L402.5 680.3"/><path d="M405.4 670.5A263.0 263.0 0 0 1 404.5 670.3"/><path d="M406.5 662.7L404.9 670.4"/><path d="M402.8 674.9L399.6 690.4"/><path d="M402.3 674.8L397.5 698.2"/><path d="M402.8 674.9A267.9 267.9 0 0 1 402.3 674.8"/><path d="M405.0 662.8L402.6 674.9"/><path d="M404.3 663.1L397.8 694.2"/><path d="M403.7 663.4L395.8 701.1"/><path d="M402.9 665.2L394.6 704.1"/><path d="M402.1 666.7L394.6 701.8"/><path d="M400.7 671.1L395.4 695.3"/><path d="M398.1 680.7L391.6 710.3"/><path d="M397.6 680.6L390.1 714.6"/><path d="M398.1 680.7A274.5 274.5 0 0 1 397.6 680.6"/><path d="M399.9 671.3L397.8 680.6"/><path d="M399.2 671.1L389.8 713.6"/><path d="M399.9 671.3A264.9 264.9 0 0 1 399.2 671.1"/><path d="M399.6 670.8L399.5 671.2"/><path d="M400.7 671.1A264.5 264.5 0 0 1 399.6 670.8"/><path d="M401.1 666.4L400.1 670.9"/><path d="M402.1 666.7A259.9 259.9 0 0 1 401.1 666.4"/><path d="M401.9 665.0L401.6 666.5"/><path d="M402.9 665.2A258.3 258.3 0 0 1 401.9 665.0"/><path d="M402.6 664.0L402.4 665.1"/><path d="M400.4 663.5L393.8 692.7"/><path d="M402.6 664.0A257.2 257.2 0 0 1 400.4 663.5"/><path d="M401.7 662.9L401.5 663.8"/><path d="M403.7 663.4A256.4 256.4 0 0 1 401.7 662.9"/><path d="M402.8 662.8L402.7 663.1"/><path d="M404.3 663.1A256.0 256.0 0 0 1 402.8 662.8"/><path d="M403.6 662.5L403.5 662.9"/><path d="M405.0 662.8A255.6 255.6 0 0 1 403.6 662.5"/><path d="M404.4 662.3L404.3 662.7"/><path d="M406.5 662.7A255.2 255.2 0 0 1 404.4 662.3"/><path d="M405.5 662.1L405.5 662.5"/><path d="M400.5 661.0L389.2 711.1"/><path d="M405.5 662.1A254.8 254.8 0 0 1 400.5 661.0"/><path d="M403.1 661.2L403.0 661.6"/><path d="M410.0 662.6A254.4 254.4 0 0 1 403.1 661.2"/><path d="M406.6 661.5L406.5 661.9"/><path d="M407.3 657.9L406.6 661.5"/><path d="M394.6 665.1L383.4 710.9"/><path d="M393.0 669.7L383.2 709.3"/><path d="M392.5 669.6L387.2 691.0"/><path d="M393.0 669.7A264.9 264.9 0 0 1 392.5 669.6"/><path d="M393.9 664.9L392.7 669.6"/><path d="M394.6 665.1A260.0 260.0 0 0 1 393.9 664.9"/><path d="M395.3 660.7L394.3 665.0"/><path d="M392.8 666.4L384.3 700.3"/><path d="M392.3 666.3L384.5 697.2"/><path d="M392.8 666.4A261.8 261.8 0 0 1 392.3 666.3"/><path d="M393.2 663.7L392.6 666.4"/><path d="M392.5 663.6L386.6 687.0"/><path d="M393.2 663.7A259.1 259.1 0 0 1 392.5 663.6"/><path d="M393.7 660.3L392.9 663.7"/><path d="M395.3 660.7A255.7 255.7 0 0 1 393.7 660.3"/><path d="M394.6 660.2L394.5 660.5"/><path d="M391.4 659.3L384.7 684.9"/><path d="M394.6 660.2A255.3 255.3 0 0 1 391.4 659.3"/><path d="M393.1 659.4L393.0 659.7"/><path d="M394.2 654.9L393.1 659.4"/><path d="M387.6 655.4L376.5 694.7"/><path d="M385.3 656.4L373.2 697.5"/><path d="M382.5 659.5L369.2 703.9"/><path d="M380.1 662.0L366.6 706.0"/><path d="M380.1 662.0A260.9 260.9 0 0 1 378.9 661.6"/><path d="M380.4 658.8L379.5 661.8"/><path d="M382.5 659.5A257.8 257.8 0 0 1 380.4 658.8"/><path d="M382.6 655.6L381.5 659.2"/><path d="M385.3 656.4A254.0 254.0 0 0 1 382.6 655.6"/><path d="M384.1 655.3L383.9 656.0"/><path d="M379.4 653.8L366.9 692.8"/><path d="M384.1 655.3A253.4 253.4 0 0 1 379.4 653.8"/><path d="M382.0 653.7L381.7 654.6"/><path d="M387.6 655.4A252.5 252.5 0 0 1 382.0 653.7"/><path d="M384.9 654.2L384.8 654.6"/><path d="M385.4 652.5L384.9 654.2"/><path d="M370.7 664.8L362.8 687.9"/><path d="M370.2 664.6L364.2 682.2"/><path d="M370.7 664.8A266.5 266.5 0 0 1 370.2 664.6"/><path d="M372.1 659.9L370.4 664.7"/><path d="M371.4 659.6L358.4 697.3"/><path d="M372.1 659.9A261.4 261.4 0 0 1 371.4 659.6"/><path d="M372.9 656.4L371.8 659.7"/><path d="M372.1 656.1L362.0 685.3"/><path d="M372.9 656.4A257.8 257.8 0 0 1 372.1 656.1"/><path d="M372.8 655.5L372.5 656.3"/><path d="M370.6 654.8L358.2 689.6"/><path d="M372.8 655.5A257.1 257.1 0 0 1 370.6 654.8"/><path d="M371.8 654.8L371.7 655.2"/><path d="M373.9 648.8L371.8 654.8"/><path d="M366.3 652.7L344.6 710.4"/><path d="M357.2 671.0L344.1 705.1"/><path d="M355.9 670.5L338.8 714.3"/><path d="M357.2 671.0A276.9 276.9 0 0 1 355.9 670.5"/><path d="M363.6 652.6L356.6 670.7"/><path d="M355.0 667.8L343.6 696.4"/><path d="M353.7 667.3L337.9 706.6"/><path d="M355.0 667.8A274.8 274.8 0 0 1 353.7 667.3"/><path d="M360.8 651.5L354.3 667.6"/><path d="M363.6 652.6A257.5 257.5 0 0 1 360.8 651.5"/><path d="M362.5 651.2L362.2 652.1"/><path d="M366.3 652.7A256.6 256.6 0 0 1 362.5 651.2"/><path d="M364.6 651.4L364.4 651.9"/><path d="M366.6 646.1L364.6 651.4"/><path d="M351.6 659.3L336.5 694.7"/><path d="M348.9 661.3L338.0 686.6"/><path d="M347.7 660.8L328.4 705.0"/><path d="M348.9 661.3A271.1 271.1 0 0 1 347.7 660.8"/><path d="M349.5 658.4L348.3 661.1"/><path d="M351.6 659.3A268.2 268.2 0 0 1 349.5 658.4"/><path d="M355.5 647.2L350.5 658.8"/><path d="M349.1 652.1L320.3 716.2"/><path d="M345.7 655.5L328.8 692.7"/><path d="M344.5 655.0L330.4 685.5"/><path d="M345.7 655.5A267.1 267.1 0 0 1 344.5 655.0"/><path d="M347.0 651.1L345.1 655.3"/><path d="M349.1 652.1A262.6 262.6 0 0 1 347.0 651.1"/><path d="M348.4 650.8L348.0 651.6"/><path d="M345.2 649.3L315.2 713.2"/><path d="M348.4 650.8A261.7 261.7 0 0 1 345.2 649.3"/><path d="M348.1 647.3L346.8 650.1"/><path d="M348.1 647.3A258.6 258.6 0 0 1 344.8 645.7"/><path d="M347.7 643.7L346.4 646.5"/><path d="M355.5 647.2A255.5 255.5 0 0 1 347.7 643.7"/><path d="M351.8 645.1L351.6 645.5"/><path d="M353.8 640.7L351.8 645.1"/><path d="M343.2 638.2L318.8 686.8"/><path d="M341.0 637.6L322.1 674.6"/><path d="M332.5 649.4L319.9 673.3"/><path d="M331.3 648.7L319.3 671.4"/><path d="M332.5 649.4A267.4 267.4 0 0 1 331.3 648.7"/><path d="M337.2 639.1L331.9 649.1"/><path d="M329.6 648.2L311.4 681.9"/><path d="M329.6 648.2A267.7 267.7 0 0 1 328.4 647.5"/><path d="M334.5 637.6L329.0 647.9"/><path d="M337.2 639.1A256.1 256.1 0 0 1 334.5 637.6"/><path d="M336.8 636.6L335.8 638.4"/><path d="M333.3 634.7L308.1 680.0"/><path d="M336.8 636.6A254.1 254.1 0 0 1 333.3 634.7"/><path d="M335.3 635.0L335.0 635.6"/><path d="M331.9 633.1L307.7 675.8"/><path d="M335.3 635.0A253.4 253.4 0 0 1 331.9 633.1"/><path d="M333.8 633.7L333.6 634.1"/><path d="M341.0 637.6A253.0 253.0 0 0 1 333.8 633.7"/><path d="M337.6 635.3L337.4 635.7"/><path d="M343.2 638.2A252.6 252.6 0 0 1 337.6 635.3"/><path d="M340.5 636.4L340.4 636.8"/><path d="M341.4 634.8L340.5 636.4"/><path d="M322.7 642.6L299.7 682.1"/><path d="M320.4 645.1L293.7 690.8"/><path d="M317.9 649.0L293.6 690.6"/><path d="M317.6 649.3L297.4 683.8"/><path d="M314.6 654.1L297.6 683.2"/><path d="M308.3 664.6L301.8 675.7"/><path d="M308.1 664.5L295.9 685.3"/><path d="M308.3 664.6A292.5 292.5 0 0 1 308.1 664.5"/><path d="M314.2 654.3L308.2 664.6"/><path d="M314.0 654.2L294.5 687.3"/><path d="M314.2 654.3A280.6 280.6 0 0 1 314.0 654.2"/><path d="M314.3 653.9L314.1 654.3"/><path d="M314.6 654.1A280.2 280.2 0 0 1 314.3 653.9"/><path d="M317.3 649.1L314.5 654.0"/><path d="M317.6 649.3A274.5 274.5 0 0 1 317.3 649.1"/><path d="M317.7 648.9L317.5 649.2"/><path d="M317.9 649.0A274.1 274.1 0 0 1 317.7 648.9"/><path d="M320.1 645.0L317.8 648.9"/><path d="M320.4 645.1A269.5 269.5 0 0 1 320.1 645.0"/><path d="M320.5 644.7L320.3 645.0"/><path d="M319.7 644.3L301.4 675.4"/><path d="M320.5 644.7A269.1 269.1 0 0 1 319.7 644.3"/><path d="M321.6 642.0L320.1 644.5"/><path d="M322.7 642.6A266.2 266.2 0 0 1 321.6 642.0"/><path d="M326.8 634.2L322.1 642.3"/><path d="M323.6 635.6L293.2 686.5"/><path d="M322.5 635.4L298.1 676.1"/><path d="M318.7 639.8L292.2 683.5"/><path d="M317.9 639.8L292.1 682.0"/><path d="M316.0 641.6L286.6 689.5"/><path d="M310.2 650.7L293.2 678.4"/><path d="M309.8 651.0L292.3 679.6"/><path d="M309.7 650.9L287.8 686.6"/><path d="M309.8 651.0A280.0 280.0 0 0 1 309.7 650.9"/><path d="M310.0 650.6L309.8 651.0"/><path d="M310.2 650.7A279.6 279.6 0 0 1 310.0 650.6"/><path d="M315.5 641.8L310.1 650.7"/><path d="M302.2 662.8L292.2 679.0"/><path d="M302.1 662.8L286.5 688.0"/><path d="M302.2 662.8A294.1 294.1 0 0 1 302.1 662.8"/><path d="M315.2 641.6L302.1 662.8"/><path d="M315.5 641.8A269.2 269.2 0 0 1 315.2 641.6"/><path d="M315.6 641.4L315.4 641.7"/><path d="M316.0 641.6A268.8 268.8 0 0 1 315.6 641.4"/><path d="M316.9 639.6L315.8 641.5"/><path d="M316.4 639.3L285.7 689.0"/><path d="M316.9 639.6A266.6 266.6 0 0 1 316.4 639.3"/><path d="M316.9 639.1L316.6 639.5"/><path d="M317.9 639.8A266.2 266.2 0 0 1 316.9 639.1"/><path d="M317.6 639.1L317.4 639.4"/><path d="M318.7 639.8A265.8 265.8 0 0 1 317.6 639.1"/><path d="M320.9 634.9L318.1 639.4"/><path d="M318.3 634.2L291.2 677.8"/><path d="M312.8 641.1L296.4 667.3"/><path d="M307.6 648.6L293.0 671.7"/><path d="M307.3 648.4L288.7 677.7"/><path d="M307.6 648.6A279.1 279.1 0 0 1 307.3 648.4"/><path d="M312.3 640.8L307.4 648.5"/><path d="M312.8 641.1A270.0 270.0 0 0 1 312.3 640.8"/><path d="M316.6 634.6L312.6 641.0"/><path d="M311.5 639.9L283.1 684.5"/><path d="M305.4 648.5L290.5 671.8"/><path d="M302.3 652.4L283.8 681.2"/><path d="M302.3 652.4A285.1 285.1 0 0 1 302.0 652.2"/><path d="M304.8 648.1L302.2 652.3"/><path d="M305.4 648.5A280.2 280.2 0 0 1 304.8 648.1"/><path d="M310.8 639.5L305.1 648.3"/><path d="M311.5 639.9A269.7 269.7 0 0 1 310.8 639.5"/><path d="M312.7 637.2L311.2 639.7"/><path d="M307.8 641.9L295.3 661.2"/><path d="M307.1 641.9L287.1 672.5"/><path d="M300.5 651.7L289.2 669.0"/><path d="M300.3 651.7L283.2 677.9"/><path d="M300.5 651.7A285.6 285.6 0 0 1 300.3 651.7"/><path d="M306.4 642.5L300.4 651.7"/><path d="M306.2 642.4L293.8 661.5"/><path d="M306.4 642.5A274.7 274.7 0 0 1 306.2 642.4"/><path d="M306.8 641.7L306.3 642.5"/><path d="M307.1 641.9A273.8 273.8 0 0 1 306.8 641.7"/><path d="M307.1 641.5L306.9 641.8"/><path d="M307.8 641.9A273.4 273.4 0 0 1 307.1 641.5"/><path d="M311.1 636.1L307.5 641.7"/><path d="M312.7 637.2A266.8 266.8 0 0 1 311.1 636.1"/><path d="M313.4 634.4L311.9 636.7"/><path d="M311.4 633.2L287.1 670.2"/><path d="M313.4 634.4A264.1 264.1 0 0 1 311.4 633.2"/><path d="M312.6 633.5L312.4 633.8"/><path d="M311.0 632.4L281.2 677.5"/><path d="M312.6 633.5A263.7 263.7 0 0 1 311.0 632.4"/><path d="M312.0 632.6L311.8 632.9"/><path d="M299.6 647.3L289.5 662.4"/><path d="M299.3 647.1L291.0 659.3"/><path d="M299.6 647.3A282.4 282.4 0 0 1 299.3 647.1"/><path d="M303.1 641.7L299.4 647.2"/><path d="M303.6 642.1A275.9 275.9 0 0 1 303.1 641.7"/><path d="M306.4 637.3L303.3 641.9"/><path d="M306.4 637.3A270.3 270.3 0 0 1 305.6 636.7"/><path d="M309.9 631.2L306.0 637.0"/><path d="M312.0 632.6A263.3 263.3 0 0 1 309.9 631.2"/><path d="M311.2 631.6L311.0 631.9"/><path d="M304.0 637.4L282.2 669.5"/><path d="M303.3 637.4L281.2 669.9"/><path d="M300.9 640.7L281.5 669.0"/><path d="M300.7 640.6L288.2 658.9"/><path d="M300.9 640.7A276.2 276.2 0 0 1 300.7 640.6"/><path d="M302.9 637.6L300.8 640.6"/><path d="M297.9 644.6L284.2 664.5"/><path d="M297.7 644.5L290.4 655.2"/><path d="M297.9 644.6A281.1 281.1 0 0 1 297.7 644.5"/><path d="M302.6 637.5L297.8 644.5"/><path d="M302.9 637.6A272.5 272.5 0 0 1 302.6 637.5"/><path d="M303.0 637.2L302.7 637.5"/><path d="M303.3 637.4A272.1 272.1 0 0 1 303.0 637.2"/><path d="M303.3 637.0L303.1 637.3"/><path d="M304.0 637.4A271.7 271.7 0 0 1 303.3 637.0"/><path d="M308.7 629.9L303.7 637.2"/><path d="M311.2 631.6A262.9 262.9 0 0 1 308.7 629.9"/><path d="M310.1 630.4L309.9 630.7"/><path d="M316.6 634.6A262.5 262.5 0 0 1 310.1 630.4"/><path d="M313.6 632.2L313.3 632.5"/><path d="M306.3 630.3L283.8 662.8"/><path d="M301.3 636.0L284.6 660.1"/><path d="M294.8 645.1L280.8 665.2"/><path d="M294.4 645.3L275.0 673.2"/><path d="M294.3 645.2L279.8 666.1"/><path d="M294.4 645.3A283.7 283.7 0 0 1 294.3 645.2"/><path d="M294.6 645.0L294.4 645.3"/><path d="M294.8 645.1A283.3 283.3 0 0 1 294.6 645.0"/><path d="M300.8 636.2L294.7 645.0"/><path d="M300.6 636.0L283.4 660.6"/><path d="M300.8 636.2A272.5 272.5 0 0 1 300.6 636.0"/><path d="M300.9 635.8L300.7 636.1"/><path d="M301.3 636.0A272.1 272.1 0 0 1 300.9 635.8"/><path d="M303.2 632.9L301.1 635.9"/><path d="M302.8 632.6L281.1 663.6"/><path d="M303.2 632.9A268.5 268.5 0 0 1 302.8 632.6"/><path d="M304.0 631.3L303.0 632.7"/><path d="M303.7 631.0L290.6 649.8"/><path d="M304.0 631.3A266.7 266.7 0 0 1 303.7 631.0"/><path d="M304.1 630.8L303.9 631.2"/><path d="M304.7 631.3A266.3 266.3 0 0 1 304.1 630.8"/><path d="M305.1 630.0L304.4 631.1"/><path d="M304.1 629.3L289.0 650.8"/><path d="M305.1 630.0A265.0 265.0 0 0 1 304.1 629.3"/><path d="M304.8 629.3L304.6 629.6"/><path d="M306.3 630.3A264.6 264.6 0 0 1 304.8 629.3"/><path d="M306.8 628.1L305.6 629.8"/><path d="M304.9 626.8L285.9 653.7"/><path d="M306.8 628.1A262.5 262.5 0 0 1 304.9 626.8"/><path d="M306.1 627.1L305.8 627.4"/><path d="M313.6 632.2A262.1 262.1 0 0 1 306.1 627.1"/><path d="M310.0 629.3L309.8 629.7"/><path d="M304.6 625.6L279.7 660.5"/><path d="M310.0 629.3A261.7 261.7 0 0 1 304.6 625.6"/><path d="M307.5 627.2L307.3 627.5"/><path d="M318.3 634.2A261.3 261.3 0 0 1 307.5 627.2"/><path d="M313.1 630.4L312.9 630.8"/><path d="M304.3 624.4L273.6 667.1"/><path d="M313.1 630.4A260.9 260.9 0 0 1 304.3 624.4"/><path d="M308.9 627.1L308.7 627.4"/><path d="M320.9 634.9A260.5 260.5 0 0 1 308.9 627.1"/><path d="M315.1 630.8L314.8 631.1"/><path d="M322.5 635.4A260.1 260.1 0 0 1 315.1 630.8"/><path d="M319.0 632.8L318.8 633.1"/><path d="M323.6 635.6A259.7 259.7 0 0 1 319.0 632.8"/><path d="M321.5 633.9L321.3 634.2"/><path d="M321.5 633.9A259.3 259.3 0 0 1 304.4 622.5"/><path d="M313.0 628.0L312.8 628.3"/><path d="M303.8 621.5L272.4 664.5"/><path d="M313.0 628.0A258.9 258.9 0 0 1 303.8 621.5"/><path d="M308.6 624.5L308.4 624.8"/><path d="M303.2 620.6L269.5 666.3"/><path d="M308.6 624.5A258.5 258.5 0 0 1 303.2 620.6"/><path d="M306.1 622.2L305.9 622.6"/><path d="M295.9 628.7L277.1 654.0"/><path d="M289.4 636.3L264.5 669.7"/><path d="M285.8 640.9L270.8 661.0"/><path d="M285.7 640.8L274.1 656.3"/><path d="M285.8 640.9A285.2 285.2 0 0 1 285.7 640.8"/><path d="M286.0 640.6L285.7 640.9"/><path d="M285.8 640.4L272.3 658.4"/><path d="M286.0 640.6A284.8 284.8 0 0 1 285.8 640.4"/><path d="M289.2 636.1L285.9 640.5"/><path d="M289.4 636.3A279.3 279.3 0 0 1 289.2 636.1"/><path d="M295.0 628.6L289.3 636.2"/><path d="M294.7 628.3L261.5 672.5"/><path d="M295.0 628.6A269.7 269.7 0 0 1 294.7 628.3"/><path d="M295.1 628.1L294.9 628.4"/><path d="M295.9 628.7A269.3 269.3 0 0 1 295.1 628.1"/><path d="M302.2 619.4L295.5 628.4"/><path d="M306.1 622.2A258.1 258.1 0 0 1 302.2 619.4"/><path d="M304.4 620.5L304.2 620.8"/><path d="M301.1 618.0L278.7 647.7"/><path d="M304.4 620.5A257.7 257.7 0 0 1 301.1 618.0"/><path d="M303.0 619.0L302.7 619.3"/><path d="M303.0 619.0A257.3 257.3 0 0 1 300.5 617.1"/><path d="M302.0 617.7L301.7 618.0"/><path d="M326.8 634.2A256.9 256.9 0 0 1 302.0 617.7"/><path d="M314.4 626.0L314.2 626.3"/><path d="M320.5 616.9L314.4 626.0"/><path d="M285.1 634.3L269.9 653.9"/><path d="M284.4 634.3L264.6 659.9"/><path d="M284.1 634.1L262.8 661.6"/><path d="M284.4 634.3A280.7 280.7 0 0 1 284.1 634.1"/><path d="M284.5 633.9L284.3 634.2"/><path d="M285.1 634.3A280.3 280.3 0 0 1 284.5 633.9"/><path d="M299.2 615.5L284.8 634.1"/><path d="M288.3 626.9L259.0 664.2"/><path d="M286.6 628.1L268.9 650.6"/><path d="M286.0 628.0L269.8 648.5"/><path d="M285.3 628.1L266.7 651.5"/><path d="M285.0 627.8L262.6 656.0"/><path d="M285.3 628.1A275.2 275.2 0 0 1 285.0 627.8"/><path d="M285.4 627.6L285.2 627.9"/><path d="M286.0 628.0A274.8 274.8 0 0 1 285.4 627.6"/><path d="M286.0 627.5L285.7 627.8"/><path d="M286.6 628.1A274.4 274.4 0 0 1 286.0 627.5"/><path d="M287.5 626.3L286.3 627.8"/><path d="M288.3 626.9A272.6 272.6 0 0 1 287.5 626.3"/><path d="M297.1 614.9L287.9 626.6"/><path d="M294.9 613.7L268.4 646.8"/><path d="M280.9 629.4L260.4 654.7"/><path d="M279.2 630.1L251.2 664.4"/><path d="M279.5 630.3A280.7 280.7 0 0 1 279.2 630.1"/><path d="M280.4 629.0L279.3 630.2"/><path d="M280.9 629.4A279.1 279.1 0 0 1 280.4 629.0"/><path d="M293.4 613.5L280.6 629.2"/><path d="M292.0 612.8L256.5 656.0"/><path d="M291.0 612.5L264.0 645.1"/><path d="M279.2 625.0L261.9 645.8"/><path d="M279.1 624.9L255.8 652.9"/><path d="M279.2 625.0A276.7 276.7 0 0 1 279.1 624.9"/><path d="M280.7 623.1L279.2 625.0"/><path d="M280.6 623.0L260.1 647.5"/><path d="M280.7 623.1A274.3 274.3 0 0 1 280.6 623.0"/><path d="M285.2 617.6L280.6 623.1"/><path d="M280.3 623.1L256.4 651.7"/><path d="M280.2 623.0L259.7 647.4"/><path d="M280.3 623.1A274.6 274.6 0 0 1 280.2 623.0"/><path d="M285.0 617.4L280.2 623.1"/><path d="M285.2 617.6A267.2 267.2 0 0 1 285.0 617.4"/><path d="M285.8 616.7L285.1 617.5"/><path d="M277.9 624.7L260.8 644.9"/><path d="M277.6 624.4L257.6 648.2"/><path d="M277.9 624.7A277.3 277.3 0 0 1 277.6 624.4"/><path d="M285.0 616.0L277.8 624.5"/><path d="M285.8 616.7A266.1 266.1 0 0 1 285.0 616.0"/><path d="M288.3 612.9L285.4 616.3"/><path d="M278.1 622.5L251.3 654.1"/><path d="M273.3 627.4L247.8 657.2"/><path d="M273.0 627.1L254.0 649.2"/><path d="M273.3 627.4A282.4 282.4 0 0 1 273.0 627.1"/><path d="M273.4 626.9L273.1 627.2"/><path d="M272.8 626.5L247.9 655.5"/><path d="M273.4 626.9A282.0 282.0 0 0 1 272.8 626.5"/><path d="M277.3 621.8L273.1 626.7"/><path d="M278.1 622.5A275.5 275.5 0 0 1 277.3 621.8"/><path d="M280.7 618.6L277.7 622.1"/><path d="M279.6 617.7L253.6 647.8"/><path d="M280.7 618.6A270.9 270.9 0 0 1 279.6 617.7"/><path d="M284.7 612.8L280.1 618.2"/><path d="M281.4 614.5L264.3 634.2"/><path d="M272.5 623.9L253.5 645.7"/><path d="M272.2 623.6L257.2 640.8"/><path d="M272.5 623.9A280.2 280.2 0 0 1 272.2 623.6"/><path d="M277.2 618.2L272.4 623.7"/><path d="M276.7 617.8L258.2 638.9"/><path d="M277.2 618.2A272.9 272.9 0 0 1 276.7 617.8"/><path d="M280.3 614.1L276.9 618.0"/><path d="M279.7 613.5L259.8 636.1"/><path d="M280.3 614.1A267.7 267.7 0 0 1 279.7 613.5"/><path d="M280.3 613.5L280.0 613.8"/><path d="M281.4 614.5A267.3 267.3 0 0 1 280.3 613.5"/><path d="M283.1 611.4L280.9 614.0"/><path d="M284.7 612.8A263.9 263.9 0 0 1 283.1 611.4"/><path d="M285.4 610.4L283.9 612.1"/><path d="M288.3 612.9A261.6 261.6 0 0 1 285.4 610.4"/><path d="M287.1 611.3L286.8 611.7"/><path d="M283.4 608.1L253.5 641.9"/><path d="M287.1 611.3A261.2 261.2 0 0 1 283.4 608.1"/><path d="M285.5 609.4L285.2 609.7"/><path d="M275.3 615.7L247.0 647.5"/><path d="M268.8 622.0L252.8 639.8"/><path d="M268.5 621.8L241.4 651.9"/><path d="M268.8 622.0A281.3 281.3 0 0 1 268.5 621.8"/><path d="M274.4 615.5L268.6 621.9"/><path d="M261.5 628.6L254.7 636.1"/><path d="M261.2 628.4L249.0 641.8"/><path d="M261.5 628.6A291.1 291.1 0 0 1 261.2 628.4"/><path d="M272.5 616.1L261.3 628.5"/><path d="M272.0 615.7L247.1 643.1"/><path d="M272.5 616.1A274.4 274.4 0 0 1 272.0 615.7"/><path d="M273.4 614.6L272.3 615.9"/><path d="M274.4 615.5A272.7 272.7 0 0 1 273.4 614.6"/><path d="M274.2 614.7L273.9 615.0"/><path d="M275.3 615.7A272.3 272.3 0 0 1 274.2 614.7"/><path d="M280.4 608.9L274.7 615.2"/><path d="M277.3 608.7L252.3 636.1"/><path d="M273.5 611.9L239.1 649.4"/><path d="M271.1 613.6L244.8 642.2"/><path d="M267.9 616.1L250.2 635.3"/><path d="M262.5 621.3L256.3 628.0"/><path d="M262.2 621.0L249.9 634.2"/><path d="M262.5 621.3A285.0 285.0 0 0 1 262.2 621.0"/><path d="M267.4 615.7L262.3 621.2"/><path d="M267.9 616.1A277.5 277.5 0 0 1 267.4 615.7"/><path d="M268.3 615.2L267.7 615.9"/><path d="M267.6 614.5L236.4 647.8"/><path d="M268.3 615.2A276.6 276.6 0 0 1 267.6 614.5"/><path d="M270.0 612.6L267.9 614.8"/><path d="M271.1 613.6A273.5 273.5 0 0 1 270.0 612.6"/><path d="M272.5 611.0L270.6 613.1"/><path d="M273.5 611.9A270.6 270.6 0 0 1 272.5 611.0"/><path d="M276.3 607.9L273.0 611.4"/><path d="M277.3 608.7A265.8 265.8 0 0 1 276.3 607.9"/><path d="M278.2 606.8L276.8 608.3"/><path d="M280.4 608.9A263.7 263.7 0 0 1 278.2 606.8"/><path d="M279.6 607.6L279.3 607.8"/><path d="M276.0 604.3L239.1 643.5"/><path d="M279.6 607.6A263.3 263.3 0 0 1 276.0 604.3"/><path d="M278.1 605.6L277.8 605.9"/><path d="M275.7 603.5L241.0 640.2"/><path d="M278.1 605.6A262.9 262.9 0 0 1 275.7 603.5"/><path d="M277.8 603.6L276.9 604.5"/><path d="M276.1 601.9L245.4 634.1"/><path d="M277.8 603.6A261.6 261.6 0 0 1 276.1 601.9"/><path d="M277.2 602.5L276.9 602.8"/><path d="M268.1 609.0L234.8 643.8"/><path d="M258.9 617.9L236.9 640.8"/><path d="M258.6 617.7L245.9 630.8"/><path d="M258.9 617.9A285.1 285.1 0 0 1 258.6 617.7"/><path d="M267.7 608.5L258.7 617.8"/><path d="M268.1 609.0A272.2 272.2 0 0 1 267.7 608.5"/><path d="M275.5 600.9L267.9 608.8"/><path d="M277.2 602.5A261.2 261.2 0 0 1 275.5 600.9"/><path d="M276.6 601.4L276.3 601.7"/><path d="M285.5 609.4A260.8 260.8 0 0 1 276.6 601.4"/><path d="M281.3 605.2L281.0 605.5"/><path d="M275.0 599.3L234.6 640.8"/><path d="M281.3 605.2A260.4 260.4 0 0 1 275.0 599.3"/><path d="M278.4 601.9L278.1 602.2"/><path d="M274.6 598.3L239.8 633.8"/><path d="M278.4 601.9A260.0 260.0 0 0 1 274.6 598.3"/><path d="M276.7 599.8L276.5 600.1"/><path d="M291.0 612.5A259.6 259.6 0 0 1 276.7 599.8"/><path d="M284.0 606.0L283.7 606.3"/><path d="M292.0 612.8A259.2 259.2 0 0 1 284.0 606.0"/><path d="M288.2 609.2L287.9 609.5"/><path d="M293.4 613.5A258.8 258.8 0 0 1 288.2 609.2"/><path d="M291.0 611.0L290.8 611.3"/><path d="M257.8 613.7L244.1 627.6"/><path d="M257.6 613.5L233.9 637.4"/><path d="M257.8 613.7A282.8 282.8 0 0 1 257.6 613.5"/><path d="M263.8 607.5L257.7 613.6"/><path d="M251.6 618.7L233.8 636.6"/><path d="M251.3 618.4L234.1 635.7"/><path d="M251.6 618.7A290.7 290.7 0 0 1 251.3 618.4"/><path d="M263.1 606.8L251.4 618.5"/><path d="M263.8 607.5A274.1 274.1 0 0 1 263.1 606.8"/><path d="M263.7 606.9L263.4 607.1"/><path d="M262.8 606.0L232.2 636.6"/><path d="M263.7 606.9A273.7 273.7 0 0 1 262.8 606.0"/><path d="M265.7 604.0L263.3 606.4"/><path d="M264.9 603.1L230.3 637.4"/><path d="M265.7 604.0A270.3 270.3 0 0 1 264.9 603.1"/><path d="M268.9 599.9L265.3 603.5"/><path d="M257.5 609.3L240.2 626.5"/><path d="M256.9 609.2L226.4 639.2"/><path d="M256.2 609.2L232.9 632.0"/><path d="M255.9 608.9L228.6 635.7"/><path d="M256.2 609.2A280.7 280.7 0 0 1 255.9 608.9"/><path d="M256.4 608.7L256.1 609.0"/><path d="M256.9 609.2A280.3 280.3 0 0 1 256.4 608.7"/><path d="M256.9 608.7L256.6 609.0"/><path d="M257.5 609.3A279.9 279.9 0 0 1 256.9 608.7"/><path d="M267.7 598.7L257.2 609.0"/><path d="M268.9 599.9A265.2 265.2 0 0 1 267.7 598.7"/><path d="M273.1 594.6L268.3 599.3"/><path d="M291.0 611.0A258.4 258.4 0 0 1 273.1 594.6"/><path d="M282.1 602.7L281.9 603.0"/><path d="M294.9 613.7A258.0 258.0 0 0 1 282.1 602.7"/><path d="M288.7 608.0L288.4 608.3"/><path d="M297.1 614.9A257.6 257.6 0 0 1 288.7 608.0"/><path d="M293.1 611.2L292.9 611.5"/><path d="M272.0 591.7L238.9 623.8"/><path d="M293.1 611.2A257.2 257.2 0 0 1 272.0 591.7"/><path d="M282.5 601.4L282.3 601.7"/><path d="M299.2 615.5A256.8 256.8 0 0 1 282.5 601.4"/><path d="M291.0 608.4L290.7 608.7"/><path d="M298.0 600.0L291.0 608.4"/><path d="M257.7 603.1L245.2 615.0"/><path d="M257.5 602.8L249.1 610.7"/><path d="M257.7 603.1A275.4 275.4 0 0 1 257.5 602.8"/><path d="M267.9 593.1L257.6 602.9"/><path d="M258.4 600.5L241.1 616.9"/><path d="M257.8 600.4L246.3 611.3"/><path d="M257.6 600.1L234.4 622.0"/><path d="M257.8 600.4A273.5 273.5 0 0 1 257.6 600.1"/><path d="M258.0 600.0L257.7 600.3"/><path d="M258.4 600.5A273.1 273.1 0 0 1 258.0 600.0"/><path d="M263.8 595.0L258.2 600.2"/><path d="M263.1 594.2L241.4 614.6"/><path d="M263.8 595.0A265.4 265.4 0 0 1 263.1 594.2"/><path d="M263.7 594.3L263.4 594.6"/><path d="M263.0 593.5L244.1 611.2"/><path d="M263.7 594.3A265.0 265.0 0 0 1 263.0 593.5"/><path d="M265.6 591.8L263.4 593.9"/><path d="M262.4 593.1L249.4 605.2"/><path d="M259.6 594.8L242.2 610.9"/><path d="M256.8 597.1L232.0 620.1"/><path d="M256.7 597.0L244.0 608.8"/><path d="M256.8 597.1A272.0 272.0 0 0 1 256.7 597.0"/><path d="M259.2 594.9L256.8 597.1"/><path d="M259.0 594.7L243.5 609.0"/><path d="M259.2 594.9A268.7 268.7 0 0 1 259.0 594.7"/><path d="M259.4 594.5L259.1 594.8"/><path d="M259.6 594.8A268.3 268.3 0 0 1 259.4 594.5"/><path d="M261.3 593.0L259.5 594.6"/><path d="M260.7 592.4L233.1 617.8"/><path d="M261.3 593.0A265.9 265.9 0 0 1 260.7 592.4"/><path d="M261.3 592.4L261.0 592.7"/><path d="M260.6 591.7L242.5 608.2"/><path d="M261.3 592.4A265.5 265.5 0 0 1 260.6 591.7"/><path d="M261.2 591.8L260.9 592.1"/><path d="M262.4 593.1A265.1 265.1 0 0 1 261.2 591.8"/><path d="M264.1 590.3L261.8 592.4"/><path d="M265.6 591.8A261.9 261.9 0 0 1 264.1 590.3"/><path d="M265.1 590.8L264.9 591.1"/><path d="M260.8 590.2L237.3 611.6"/><path d="M258.4 591.5L227.2 619.7"/><path d="M253.0 595.6L228.7 617.4"/><path d="M252.4 595.5L236.7 609.6"/><path d="M252.1 595.2L228.9 616.0"/><path d="M252.4 595.5A274.1 274.1 0 0 1 252.1 595.2"/><path d="M252.6 595.1L252.3 595.3"/><path d="M253.0 595.6A273.7 273.7 0 0 1 252.6 595.1"/><path d="M253.6 594.6L252.8 595.3"/><path d="M252.9 593.8L226.1 617.6"/><path d="M253.6 594.6A272.7 272.7 0 0 1 252.9 593.8"/><path d="M257.5 590.4L253.2 594.2"/><path d="M258.4 591.5A267.0 267.0 0 0 1 257.5 590.4"/><path d="M259.3 589.7L258.0 591.0"/><path d="M245.3 599.7L238.7 605.5"/><path d="M245.1 599.4L229.5 613.1"/><path d="M245.3 599.7A282.2 282.2 0 0 1 245.1 599.4"/><path d="M257.9 588.2L245.2 599.5"/><path d="M259.3 589.7A265.1 265.1 0 0 1 257.9 588.2"/><path d="M259.2 588.4L258.6 589.0"/><path d="M260.8 590.2A264.3 264.3 0 0 1 259.2 588.4"/><path d="M261.5 588.0L260.0 589.3"/><path d="M258.1 586.8L233.0 608.8"/><path d="M256.1 587.6L238.5 603.0"/><path d="M253.6 589.1L233.5 606.6"/><path d="M252.0 589.9L228.6 610.2"/><path d="M251.7 589.6L237.9 601.5"/><path d="M252.0 589.9A270.7 270.7 0 0 1 251.7 589.6"/><path d="M253.1 588.6L251.9 589.7"/><path d="M253.6 589.1A269.0 269.0 0 0 1 253.1 588.6"/><path d="M255.5 587.0L253.4 588.9"/><path d="M256.1 587.6A266.2 266.2 0 0 1 255.5 587.0"/><path d="M257.1 586.2L255.8 587.3"/><path d="M254.6 586.3L230.7 606.8"/><path d="M250.0 590.0L225.3 611.3"/><path d="M249.9 589.9L227.7 609.0"/><path d="M250.0 590.0A272.3 272.3 0 0 1 249.9 589.9"/><path d="M254.5 586.1L250.0 590.0"/><path d="M254.6 586.3A266.4 266.4 0 0 1 254.5 586.1"/><path d="M256.0 585.0L254.5 586.2"/><path d="M257.1 586.2A264.5 264.5 0 0 1 256.0 585.0"/><path d="M256.8 585.3L256.5 585.6"/><path d="M258.1 586.8A264.1 264.1 0 0 1 256.8 585.3"/><path d="M258.8 584.9L257.4 586.1"/><path d="M261.5 588.0A262.3 262.3 0 0 1 258.8 584.9"/><path d="M260.4 586.2L260.1 586.4"/><path d="M257.3 582.5L223.4 611.4"/><path d="M260.4 586.2A261.9 261.9 0 0 1 257.3 582.5"/><path d="M259.1 584.1L258.8 584.4"/><path d="M265.1 590.8A261.5 261.5 0 0 1 259.1 584.1"/><path d="M262.4 587.2L262.1 587.5"/><path d="M267.9 593.1A261.1 261.1 0 0 1 262.4 587.2"/><path d="M265.4 589.9L265.1 590.2"/><path d="M257.6 581.0L225.7 608.1"/><path d="M265.4 589.9A260.7 260.7 0 0 1 257.6 581.0"/><path d="M261.7 585.2L261.4 585.5"/><path d="M257.3 580.1L231.4 601.8"/><path d="M261.7 585.2A260.3 260.3 0 0 1 257.3 580.1"/><path d="M259.8 582.4L259.5 582.7"/><path d="M257.0 579.1L214.2 614.8"/><path d="M259.8 582.4A259.9 259.9 0 0 1 257.0 579.1"/><path d="M258.7 580.5L258.4 580.8"/><path d="M256.7 578.1L220.2 608.3"/><path d="M258.7 580.5A259.5 259.5 0 0 1 256.7 578.1"/><path d="M258.0 579.0L257.7 579.3"/><path d="M256.4 577.1L208.1 616.8"/><path d="M258.0 579.0A259.1 259.1 0 0 1 256.4 577.1"/><path d="M257.5 577.8L257.2 578.1"/><path d="M248.0 582.6L213.5 610.8"/><path d="M235.5 592.7L219.9 605.3"/><path d="M235.4 592.6L211.2 612.3"/><path d="M235.5 592.7A285.2 285.2 0 0 1 235.4 592.6"/><path d="M247.9 582.4L235.4 592.6"/><path d="M248.0 582.6A269.0 269.0 0 0 1 247.9 582.4"/><path d="M251.8 579.4L248.0 582.5"/><path d="M234.8 592.9L223.0 602.4"/><path d="M234.7 592.7L216.5 607.5"/><path d="M234.8 592.9A285.8 285.8 0 0 1 234.7 592.7"/><path d="M247.6 582.3L234.7 592.8"/><path d="M247.5 582.2L222.4 602.5"/><path d="M247.6 582.3A269.2 269.2 0 0 1 247.5 582.2"/><path d="M247.9 582.0L247.5 582.2"/><path d="M247.7 581.8L228.2 597.6"/><path d="M247.9 582.0A268.8 268.8 0 0 1 247.7 581.8"/><path d="M251.4 578.9L247.8 581.9"/><path d="M251.8 579.4A264.1 264.1 0 0 1 251.4 578.9"/><path d="M252.3 578.6L251.6 579.2"/><path d="M252.3 578.6A263.2 263.2 0 0 1 252.0 578.1"/><path d="M255.6 575.6L252.2 578.4"/><path d="M257.5 577.8A258.7 258.7 0 0 1 255.6 575.6"/><path d="M256.8 576.4L256.5 576.7"/><path d="M259.8 574.0L256.8 576.4"/><path d="M245.7 581.0L232.0 591.9"/><path d="M245.6 580.9L219.8 601.5"/><path d="M245.7 581.0A269.9 269.9 0 0 1 245.6 580.9"/><path d="M252.1 575.8L245.6 581.0"/><path d="M243.1 582.7L231.0 592.3"/><path d="M243.0 582.6L212.4 607.0"/><path d="M243.1 582.7A273.0 273.0 0 0 1 243.0 582.6"/><path d="M247.3 579.3L243.0 582.7"/><path d="M239.7 585.0L231.1 591.9"/><path d="M239.7 584.9L225.2 596.4"/><path d="M239.7 585.0A277.0 277.0 0 0 1 239.7 584.9"/><path d="M247.1 579.1L239.7 585.0"/><path d="M247.3 579.3A267.6 267.6 0 0 1 247.1 579.1"/><path d="M251.2 576.0L247.2 579.2"/><path d="M239.2 585.1L232.7 590.2"/><path d="M239.1 585.0L215.4 603.8"/><path d="M239.2 585.1A277.5 277.5 0 0 1 239.1 585.0"/><path d="M244.9 580.4L239.2 585.0"/><path d="M244.8 580.3L225.5 595.6"/><path d="M244.9 580.4A270.1 270.1 0 0 1 244.8 580.3"/><path d="M250.9 575.6L244.8 580.4"/><path d="M251.2 576.0A262.4 262.4 0 0 1 250.9 575.6"/><path d="M251.3 575.5L251.0 575.8"/><path d="M251.0 575.1L237.3 586.0"/><path d="M251.3 575.5A262.0 262.0 0 0 1 251.0 575.1"/><path d="M251.5 575.1L251.2 575.3"/><path d="M252.1 575.8A261.6 261.6 0 0 1 251.5 575.1"/><path d="M253.9 573.7L251.8 575.4"/><path d="M252.3 573.0L222.0 596.8"/><path d="M251.2 572.8L224.8 593.3"/><path d="M249.7 572.9L230.8 587.6"/><path d="M249.3 573.0L227.3 590.1"/><path d="M240.6 579.6L215.3 599.1"/><path d="M237.7 581.6L214.4 599.6"/><path d="M237.6 581.5L212.4 601.0"/><path d="M237.7 581.6A276.5 276.5 0 0 1 237.6 581.5"/><path d="M238.0 581.3L237.7 581.6"/><path d="M237.8 581.2L211.9 601.2"/><path d="M238.0 581.3A276.1 276.1 0 0 1 237.8 581.2"/><path d="M240.4 579.3L237.9 581.2"/><path d="M240.6 579.6A273.0 273.0 0 0 1 240.4 579.3"/><path d="M242.7 577.7L240.5 579.5"/><path d="M242.5 577.4L217.4 596.7"/><path d="M242.7 577.7A270.2 270.2 0 0 1 242.5 577.4"/><path d="M246.5 574.6L242.6 577.6"/><path d="M246.3 574.3L212.6 600.2"/><path d="M246.5 574.6A265.3 265.3 0 0 1 246.3 574.3"/><path d="M246.7 574.2L246.4 574.4"/><path d="M246.5 573.9L217.5 596.2"/><path d="M246.7 574.2A264.9 264.9 0 0 1 246.5 573.9"/><path d="M246.9 573.8L246.6 574.1"/><path d="M246.8 573.6L225.7 589.8"/><path d="M246.9 573.8A264.5 264.5 0 0 1 246.8 573.6"/><path d="M247.6 573.1L246.8 573.7"/><path d="M247.6 573.1A263.5 263.5 0 0 1 247.4 572.9"/><path d="M248.0 572.6L247.5 573.0"/><path d="M247.8 572.4L226.1 589.0"/><path d="M248.0 572.6A262.9 262.9 0 0 1 247.8 572.4"/><path d="M248.2 572.3L247.9 572.5"/><path d="M248.1 572.1L213.9 598.2"/><path d="M248.2 572.3A262.5 262.5 0 0 1 248.1 572.1"/><path d="M248.5 571.9L248.1 572.2"/><path d="M249.3 573.0A262.1 262.1 0 0 1 248.5 571.9"/><path d="M249.2 572.2L248.9 572.5"/><path d="M249.7 572.9A261.7 261.7 0 0 1 249.2 572.2"/><path d="M249.8 572.3L249.4 572.5"/><path d="M238.5 578.4L215.1 596.1"/><path d="M238.0 578.5L223.7 589.4"/><path d="M238.0 578.4L220.5 591.6"/><path d="M238.0 578.5A274.4 274.4 0 0 1 238.0 578.4"/><path d="M238.3 578.2L238.0 578.4"/><path d="M238.5 578.4A274.0 274.0 0 0 1 238.3 578.2"/><path d="M248.5 570.6L238.4 578.3"/><path d="M249.8 572.3A261.3 261.3 0 0 1 248.5 570.6"/><path d="M249.4 571.2L249.1 571.5"/><path d="M248.2 569.6L225.6 586.6"/><path d="M249.4 571.2A260.9 260.9 0 0 1 248.2 569.6"/><path d="M249.1 570.2L248.8 570.4"/><path d="M251.2 572.8A260.5 260.5 0 0 1 249.1 570.2"/><path d="M250.5 571.2L250.1 571.5"/><path d="M248.3 568.4L230.6 581.8"/><path d="M250.5 571.2A260.1 260.1 0 0 1 248.3 568.4"/><path d="M249.7 569.6L249.4 569.8"/><path d="M252.3 573.0A259.7 259.7 0 0 1 249.7 569.6"/><path d="M251.3 571.0L251.0 571.3"/><path d="M240.2 573.4L216.9 590.8"/><path d="M240.0 573.1L200.3 602.5"/><path d="M240.2 573.4A269.6 269.6 0 0 1 240.0 573.1"/><path d="M248.4 567.1L240.1 573.3"/><path d="M251.3 571.0A259.3 259.3 0 0 1 248.4 567.1"/><path d="M250.1 568.8L249.8 569.1"/><path d="M253.9 573.7A258.9 258.9 0 0 1 250.1 568.8"/><path d="M252.3 571.1L252.0 571.3"/><path d="M233.9 576.3L215.2 590.0"/><path d="M233.7 576.0L223.5 583.4"/><path d="M233.9 576.3A276.3 276.3 0 0 1 233.7 576.0"/><path d="M247.7 565.9L233.8 576.1"/><path d="M245.2 566.5L216.2 587.7"/><path d="M244.5 566.9L220.9 584.1"/><path d="M232.8 575.3L206.8 594.1"/><path d="M232.7 575.2L217.5 586.2"/><path d="M232.8 575.3A276.7 276.7 0 0 1 232.7 575.2"/><path d="M242.6 568.0L232.7 575.2"/><path d="M238.9 570.4L222.3 582.5"/><path d="M234.3 573.6L221.4 582.9"/><path d="M234.2 573.5L211.5 589.9"/><path d="M234.3 573.6A274.5 274.5 0 0 1 234.2 573.5"/><path d="M238.8 570.2L234.2 573.6"/><path d="M238.9 570.4A268.8 268.8 0 0 1 238.8 570.2"/><path d="M242.4 567.8L238.9 570.3"/><path d="M242.6 568.0A264.4 264.4 0 0 1 242.4 567.8"/><path d="M242.8 567.6L242.5 567.9"/><path d="M242.6 567.3L223.4 581.1"/><path d="M242.8 567.6A264.0 264.0 0 0 1 242.6 567.3"/><path d="M244.1 566.4L242.7 567.5"/><path d="M244.5 566.9A262.3 262.3 0 0 1 244.1 566.4"/><path d="M244.6 566.4L244.3 566.7"/><path d="M237.0 571.1L220.8 582.8"/><path d="M232.6 574.2L222.9 581.1"/><path d="M232.5 574.0L216.1 585.9"/><path d="M232.6 574.2A276.2 276.2 0 0 1 232.5 574.0"/><path d="M236.9 571.0L232.5 574.1"/><path d="M237.0 571.1A270.8 270.8 0 0 1 236.9 571.0"/><path d="M244.2 565.8L236.9 571.0"/><path d="M244.6 566.4A261.9 261.9 0 0 1 244.2 565.8"/><path d="M244.7 565.9L244.4 566.1"/><path d="M245.2 566.5A261.5 261.5 0 0 1 244.7 565.9"/><path d="M245.3 566.0L245.0 566.2"/><path d="M244.3 564.6L219.0 582.7"/><path d="M245.3 566.0A261.0 261.0 0 0 1 244.3 564.6"/><path d="M246.4 564.2L244.8 565.3"/><path d="M247.7 565.9A259.1 259.1 0 0 1 246.4 564.2"/><path d="M247.5 564.7L247.0 565.0"/><path d="M252.3 571.1A258.5 258.5 0 0 1 247.5 564.7"/><path d="M250.2 567.6L249.9 567.9"/><path d="M246.1 562.0L215.7 583.7"/><path d="M250.2 567.6A258.1 258.1 0 0 1 246.1 562.0"/><path d="M248.5 564.6L248.2 564.9"/><path d="M245.9 561.0L216.3 581.9"/><path d="M248.5 564.6A257.7 257.7 0 0 1 245.9 561.0"/><path d="M247.5 562.6L247.2 562.8"/><path d="M249.8 560.9L247.5 562.6"/><path d="M243.9 559.8L205.8 586.2"/><path d="M235.7 563.6L202.3 586.4"/><path d="M226.0 569.1L193.4 591.2"/><path d="M225.5 568.4L192.9 590.4"/><path d="M226.0 569.1A278.7 278.7 0 0 1 225.5 568.4"/><path d="M235.0 562.5L225.7 568.7"/><path d="M235.7 563.6A267.5 267.5 0 0 1 235.0 562.5"/><path d="M236.0 562.6L235.4 563.0"/><path d="M234.8 560.8L195.3 587.2"/><path d="M236.0 562.6A266.8 266.8 0 0 1 234.8 560.8"/><path d="M240.8 558.1L235.4 561.7"/><path d="M229.7 562.6L199.8 582.4"/><path d="M227.3 563.0L193.1 585.5"/><path d="M226.9 562.3L195.2 583.0"/><path d="M227.3 563.0A274.2 274.2 0 0 1 226.9 562.3"/><path d="M229.0 561.4L227.1 562.6"/><path d="M229.7 562.6A272.0 272.0 0 0 1 229.0 561.4"/><path d="M239.1 555.6L229.3 562.0"/><path d="M240.8 558.1A260.3 260.3 0 0 1 239.1 555.6"/><path d="M240.3 556.6L239.9 556.8"/><path d="M238.1 553.4L212.1 570.2"/><path d="M240.3 556.6A259.9 259.9 0 0 1 238.1 553.4"/><path d="M239.5 554.8L239.2 555.0"/><path d="M237.7 552.0L189.0 583.0"/><path d="M239.5 554.8A259.5 259.5 0 0 1 237.7 552.0"/><path d="M239.0 553.2L238.6 553.4"/><path d="M237.3 550.5L191.0 579.7"/><path d="M239.0 553.2A259.1 259.1 0 0 1 237.3 550.5"/><path d="M238.5 551.6L238.1 551.9"/><path d="M243.9 559.8A258.7 258.7 0 0 1 238.5 551.6"/><path d="M241.5 555.5L241.1 555.7"/><path d="M252.1 548.5L241.5 555.5"/><path d="M231.2 551.3L200.2 570.4"/><path d="M228.2 551.7L191.6 574.0"/><path d="M217.2 557.1L203.6 565.3"/><path d="M216.7 556.4L191.1 571.8"/><path d="M217.2 557.1A279.7 279.7 0 0 1 216.7 556.4"/><path d="M222.6 553.4L216.9 556.8"/><path d="M221.9 552.2L183.3 575.2"/><path d="M222.6 553.4A273.1 273.1 0 0 1 221.9 552.2"/><path d="M227.1 549.9L222.2 552.8"/><path d="M228.2 551.7A267.4 267.4 0 0 1 227.1 549.9"/><path d="M230.0 549.4L227.7 550.8"/><path d="M231.2 551.3A264.6 264.6 0 0 1 230.0 549.4"/><path d="M233.9 548.3L230.6 550.3"/><path d="M227.2 547.3L185.9 571.6"/><path d="M212.9 555.3L191.9 567.6"/><path d="M212.7 555.1L202.2 561.2"/><path d="M212.9 555.3A282.4 282.4 0 0 1 212.7 555.1"/><path d="M221.1 550.3L212.8 555.2"/><path d="M220.9 549.9L187.8 569.3"/><path d="M221.1 550.3A272.8 272.8 0 0 1 220.9 549.9"/><path d="M226.8 546.7L221.0 550.1"/><path d="M227.2 547.3A266.0 266.0 0 0 1 226.8 546.7"/><path d="M227.3 546.8L227.0 547.0"/><path d="M227.3 546.8A265.6 265.6 0 0 1 226.5 545.3"/><path d="M227.8 545.6L226.9 546.1"/><path d="M226.7 543.8L181.4 569.6"/><path d="M227.8 545.6A264.6 264.6 0 0 1 226.7 543.8"/><path d="M230.6 542.7L227.2 544.7"/><path d="M233.9 548.3A260.7 260.7 0 0 1 230.6 542.7"/><path d="M232.6 545.3L232.2 545.5"/><path d="M217.7 546.9L181.4 567.4"/><path d="M217.6 546.7L180.9 567.2"/><path d="M217.7 546.9A274.0 274.0 0 0 1 217.6 546.7"/><path d="M223.1 543.7L217.6 546.8"/><path d="M222.9 543.3L194.8 559.1"/><path d="M223.1 543.7A267.7 267.7 0 0 1 222.9 543.3"/><path d="M223.8 543.1L223.0 543.5"/><path d="M223.2 541.9L200.1 554.8"/><path d="M223.8 543.1A266.8 266.8 0 0 1 223.2 541.9"/><path d="M229.2 539.4L223.5 542.5"/><path d="M232.6 545.3A260.3 260.3 0 0 1 229.2 539.4"/><path d="M231.2 542.1L230.9 542.3"/><path d="M243.1 535.3L231.2 542.1"/><path d="M225.7 537.6L195.5 553.9"/><path d="M225.3 536.9L198.7 551.2"/><path d="M225.7 537.6A262.5 262.5 0 0 1 225.3 536.9"/><path d="M227.5 536.2L225.5 537.2"/><path d="M239.9 529.5L227.5 536.2"/><path d="M225.2 533.6L174.7 560.1"/><path d="M217.6 535.7L190.1 549.9"/><path d="M205.5 541.5L182.7 553.3"/><path d="M205.4 541.2L178.3 555.1"/><path d="M205.5 541.5A282.2 282.2 0 0 1 205.4 541.2"/><path d="M213.4 537.3L205.4 541.4"/><path d="M213.2 536.9L182.7 552.5"/><path d="M213.4 537.3A273.3 273.3 0 0 1 213.2 536.9"/><path d="M214.8 536.3L213.3 537.1"/><path d="M214.5 535.9L192.9 546.9"/><path d="M214.8 536.3A271.6 271.6 0 0 1 214.5 535.9"/><path d="M217.1 534.8L214.6 536.1"/><path d="M217.6 535.7A268.8 268.8 0 0 1 217.1 534.8"/><path d="M219.4 534.2L217.4 535.3"/><path d="M219.0 533.2L179.0 553.5"/><path d="M219.4 534.2A266.5 266.5 0 0 1 219.0 533.2"/><path d="M220.2 533.2L219.2 533.7"/><path d="M219.4 531.5L191.6 545.4"/><path d="M220.2 533.2A265.3 265.3 0 0 1 219.4 531.5"/><path d="M223.1 530.6L219.8 532.3"/><path d="M210.4 534.0L175.8 551.1"/><path d="M210.1 533.3L186.1 545.0"/><path d="M210.4 534.0A274.5 274.5 0 0 1 210.1 533.3"/><path d="M210.6 533.5L210.2 533.7"/><path d="M210.0 532.2L189.2 542.2"/><path d="M210.6 533.5A274.1 274.1 0 0 1 210.0 532.2"/><path d="M211.4 532.3L210.3 532.8"/><path d="M210.6 530.6L162.1 553.8"/><path d="M211.4 532.3A272.8 272.8 0 0 1 210.6 530.6"/><path d="M215.5 529.2L211.0 531.4"/><path d="M214.5 527.2L178.8 544.2"/><path d="M215.5 529.2A267.8 267.8 0 0 1 214.5 527.2"/><path d="M220.6 525.5L215.0 528.2"/><path d="M223.1 530.6A261.5 261.5 0 0 1 220.6 525.5"/><path d="M222.3 527.9L221.9 528.1"/><path d="M225.2 533.6A261.0 261.0 0 0 1 222.3 527.9"/><path d="M224.7 530.3L223.8 530.7"/><path d="M194.3 534.4L178.7 541.7"/><path d="M194.2 534.1L189.6 536.2"/><path d="M194.3 534.4A289.1 289.1 0 0 1 194.2 534.1"/><path d="M214.7 524.7L194.3 534.2"/><path d="M212.4 525.3L170.2 544.8"/><path d="M207.8 527.1L168.1 545.4"/><path d="M204.7 528.2L189.8 535.0"/><path d="M204.5 527.9L176.5 540.7"/><path d="M204.7 528.2A277.1 277.1 0 0 1 204.5 527.9"/><path d="M207.6 526.6L204.6 528.0"/><path d="M207.8 527.1A273.8 273.8 0 0 1 207.6 526.6"/><path d="M212.1 524.8L207.7 526.9"/><path d="M212.4 525.3A269.0 269.0 0 0 1 212.1 524.8"/><path d="M214.4 524.1L212.2 525.1"/><path d="M214.7 524.7A266.6 266.6 0 0 1 214.4 524.1"/><path d="M219.3 522.2L214.6 524.4"/><path d="M214.9 522.8L156.3 549.6"/><path d="M202.4 528.1L177.4 539.5"/><path d="M202.3 527.8L165.0 544.8"/><path d="M202.4 528.1A279.1 279.1 0 0 1 202.3 527.8"/><path d="M211.9 523.7L202.4 528.0"/><path d="M198.8 529.1L174.4 540.1"/><path d="M198.7 528.8L172.0 540.8"/><path d="M198.8 529.1A282.8 282.8 0 0 1 198.7 528.8"/><path d="M207.3 525.1L198.8 528.9"/><path d="M193.1 530.9L162.9 544.5"/><path d="M193.0 530.6L161.6 544.7"/><path d="M193.1 530.9A288.8 288.8 0 0 1 193.0 530.6"/><path d="M207.1 524.5L193.0 530.8"/><path d="M207.3 525.1A273.4 273.4 0 0 1 207.1 524.5"/><path d="M211.5 522.8L207.2 524.8"/><path d="M211.9 523.7A268.7 268.7 0 0 1 211.5 522.8"/><path d="M214.6 521.9L211.7 523.2"/><path d="M214.9 522.8A265.6 265.6 0 0 1 214.6 521.9"/><path d="M215.1 522.2L214.7 522.4"/><path d="M214.4 520.7L164.3 543.1"/><path d="M215.1 522.2A265.2 265.2 0 0 1 214.4 520.7"/><path d="M218.2 519.9L214.8 521.4"/><path d="M219.3 522.2A261.4 261.4 0 0 1 218.2 519.9"/><path d="M219.9 520.5L218.7 521.1"/><path d="M224.7 530.3A260.0 260.0 0 0 1 219.9 520.5"/><path d="M222.6 525.3L222.3 525.4"/><path d="M234.7 519.4L222.6 525.3"/><path d="M217.7 515.6L192.3 526.6"/><path d="M215.8 516.1L153.9 542.7"/><path d="M214.8 516.2L177.1 532.4"/><path d="M208.3 518.7L201.5 521.6"/><path d="M208.2 518.4L184.8 528.4"/><path d="M208.3 518.7A270.0 270.0 0 0 1 208.2 518.4"/><path d="M213.9 516.1L208.2 518.5"/><path d="M213.7 515.7L197.3 522.6"/><path d="M213.9 516.1A263.8 263.8 0 0 1 213.7 515.7"/><path d="M214.6 515.6L213.8 515.9"/><path d="M214.8 516.2A263.0 263.0 0 0 1 214.6 515.6"/><path d="M215.5 515.5L214.7 515.9"/><path d="M215.8 516.1A262.1 262.1 0 0 1 215.5 515.5"/><path d="M216.1 515.6L215.6 515.8"/><path d="M215.6 514.5L186.1 527.1"/><path d="M216.1 515.6A261.6 261.6 0 0 1 215.6 514.5"/><path d="M217.3 514.5L215.9 515.1"/><path d="M217.7 515.6A260.1 260.1 0 0 1 217.3 514.5"/><path d="M218.9 514.5L217.5 515.0"/><path d="M217.3 511.9L203.1 517.8"/><path d="M210.5 513.0L199.7 517.4"/><path d="M206.9 513.3L180.2 524.1"/><path d="M206.6 512.5L177.2 524.3"/><path d="M206.9 513.3A269.1 269.1 0 0 1 206.6 512.5"/><path d="M210.0 511.6L206.8 512.9"/><path d="M210.5 513.0A265.7 265.7 0 0 1 210.0 511.6"/><path d="M215.7 510.1L210.3 512.3"/><path d="M211.4 509.1L149.5 533.4"/><path d="M209.0 508.7L183.1 518.7"/><path d="M203.5 509.7L178.9 519.1"/><path d="M203.2 508.9L193.9 512.4"/><path d="M203.5 509.7A271.1 271.1 0 0 1 203.2 508.9"/><path d="M208.5 507.3L203.3 509.3"/><path d="M209.0 508.7A265.5 265.5 0 0 1 208.5 507.3"/><path d="M210.2 507.4L208.7 508.0"/><path d="M209.4 505.3L181.8 515.7"/><path d="M210.2 507.4A264.0 264.0 0 0 1 209.4 505.3"/><path d="M210.3 506.2L209.8 506.4"/><path d="M211.4 509.1A263.5 263.5 0 0 1 210.3 506.2"/><path d="M214.2 506.3L210.8 507.6"/><path d="M215.7 510.1A259.8 259.8 0 0 1 214.2 506.3"/><path d="M215.3 508.0L215.0 508.2"/><path d="M201.5 506.6L196.7 508.3"/><path d="M201.2 505.8L172.3 516.3"/><path d="M201.5 506.6A271.8 271.8 0 0 1 201.2 505.8"/><path d="M213.0 501.9L201.3 506.2"/><path d="M215.3 508.0A259.4 259.4 0 0 1 213.0 501.9"/><path d="M214.5 504.8L214.2 505.0"/><path d="M217.3 511.9A259.0 259.0 0 0 1 214.5 504.8"/><path d="M216.3 508.2L215.9 508.4"/><path d="M218.9 514.5A258.6 258.6 0 0 1 216.3 508.2"/><path d="M217.9 511.2L217.5 511.3"/><path d="M229.0 506.6L217.9 511.2"/><path d="M199.8 502.6L111.2 533.8"/><path d="M199.5 501.8L173.1 511.0"/><path d="M199.8 502.6A272.1 272.1 0 0 1 199.5 501.8"/><path d="M200.0 502.1L199.7 502.2"/><path d="M199.6 500.7L166.6 512.0"/><path d="M200.0 502.1A271.7 271.7 0 0 1 199.6 500.7"/><path d="M205.1 499.6L199.8 501.4"/><path d="M190.0 502.6L167.8 510.1"/><path d="M189.7 501.8L174.2 507.0"/><path d="M190.0 502.6A281.3 281.3 0 0 1 189.7 501.8"/><path d="M204.3 497.3L189.8 502.2"/><path d="M205.1 499.6A266.1 266.1 0 0 1 204.3 497.3"/><path d="M206.3 497.9L204.7 498.5"/><path d="M205.3 495.2L156.6 511.2"/><path d="M206.3 497.9A264.4 264.4 0 0 1 205.3 495.2"/><path d="M207.3 496.0L205.8 496.5"/><path d="M206.4 493.3L178.3 502.4"/><path d="M207.3 496.0A262.8 262.8 0 0 1 206.4 493.3"/><path d="M209.2 493.9L206.9 494.7"/><path d="M207.3 491.2L172.7 502.2"/><path d="M205.2 490.4L180.8 497.9"/><path d="M204.7 490.2L170.7 500.7"/><path d="M200.7 491.1L176.4 498.6"/><path d="M198.1 491.6L174.2 498.9"/><path d="M198.0 491.3L169.1 500.1"/><path d="M198.1 491.6A270.2 270.2 0 0 1 198.0 491.3"/><path d="M199.8 490.9L198.0 491.5"/><path d="M199.7 490.5L172.1 498.8"/><path d="M199.8 490.9A268.4 268.4 0 0 1 199.7 490.5"/><path d="M200.5 490.5L199.8 490.7"/><path d="M200.7 491.1A267.6 267.6 0 0 1 200.5 490.5"/><path d="M204.6 489.6L200.6 490.8"/><path d="M204.7 490.2A263.5 263.5 0 0 1 204.6 489.6"/><path d="M205.0 489.8L204.7 489.9"/><path d="M205.2 490.4A263.1 263.1 0 0 1 205.0 489.8"/><path d="M205.9 489.8L205.1 490.1"/><path d="M205.5 488.4L171.1 498.8"/><path d="M205.9 489.8A262.2 262.2 0 0 1 205.5 488.4"/><path d="M206.6 488.9L205.7 489.1"/><path d="M207.3 491.2A261.3 261.3 0 0 1 206.6 488.9"/><path d="M207.9 489.7L206.9 490.0"/><path d="M209.2 493.9A260.3 260.3 0 0 1 207.9 489.7"/><path d="M208.9 491.7L208.5 491.8"/><path d="M220.8 487.9L208.9 491.7"/><path d="M208.9 484.0L163.2 497.2"/><path d="M205.2 483.4L172.2 492.7"/><path d="M197.9 484.1L160.1 494.6"/><path d="M197.7 483.3L179.5 488.3"/><path d="M197.9 484.1A268.3 268.3 0 0 1 197.7 483.3"/><path d="M200.4 483.0L197.8 483.7"/><path d="M200.0 481.6L167.9 490.3"/><path d="M200.4 483.0A265.7 265.7 0 0 1 200.0 481.6"/><path d="M203.4 481.5L200.2 482.3"/><path d="M202.9 479.7L168.1 488.9"/><path d="M203.4 481.5A262.4 262.4 0 0 1 202.9 479.7"/><path d="M204.3 480.3L203.1 480.6"/><path d="M205.2 483.4A261.2 261.2 0 0 1 204.3 480.3"/><path d="M207.3 481.1L204.7 481.8"/><path d="M193.5 480.6L147.9 492.4"/><path d="M193.4 480.3L157.3 489.6"/><path d="M193.5 480.6A271.7 271.7 0 0 1 193.4 480.3"/><path d="M201.2 478.5L193.4 480.5"/><path d="M201.1 478.0L176.9 484.3"/><path d="M201.2 478.5A263.7 263.7 0 0 1 201.1 478.0"/><path d="M206.2 477.0L201.2 478.3"/><path d="M207.3 481.1A258.5 258.5 0 0 1 206.2 477.0"/><path d="M207.1 478.9L206.7 479.0"/><path d="M193.9 478.2L165.4 485.4"/><path d="M193.7 477.4L167.9 483.8"/><path d="M193.9 478.2A270.7 270.7 0 0 1 193.7 477.4"/><path d="M206.1 474.8L193.8 477.8"/><path d="M207.1 478.9A258.1 258.1 0 0 1 206.1 474.8"/><path d="M207.0 476.8L206.6 476.9"/><path d="M208.9 484.0A257.7 257.7 0 0 1 207.0 476.8"/><path d="M208.3 480.3L207.9 480.4"/><path d="M217.7 477.7L208.3 480.3"/><path d="M202.9 471.8L169.1 479.7"/><path d="M192.8 473.8L164.7 480.3"/><path d="M192.8 473.5L157.9 481.5"/><path d="M192.8 473.8A270.7 270.7 0 0 1 192.8 473.5"/><path d="M199.4 472.1L192.8 473.6"/><path d="M199.2 471.7L163.1 480.0"/><path d="M199.4 472.1A264.0 264.0 0 0 1 199.2 471.7"/><path d="M202.0 471.3L199.3 471.9"/><path d="M198.8 471.5L161.2 480.1"/><path d="M197.1 471.6L176.5 476.2"/><path d="M186.2 473.7L169.2 477.5"/><path d="M186.2 473.4L177.0 475.4"/><path d="M186.2 473.7A277.1 277.1 0 0 1 186.2 473.4"/><path d="M197.0 471.1L186.2 473.5"/><path d="M197.1 471.6A266.1 266.1 0 0 1 197.0 471.1"/><path d="M198.7 470.9L197.0 471.3"/><path d="M198.8 471.5A264.3 264.3 0 0 1 198.7 470.9"/><path d="M200.5 470.8L198.8 471.2"/><path d="M200.2 469.9L169.8 476.7"/><path d="M200.5 470.8A262.6 262.6 0 0 1 200.2 469.9"/><path d="M201.7 470.0L200.3 470.4"/><path d="M202.0 471.3A261.2 261.2 0 0 1 201.7 470.0"/><path d="M202.3 470.6L201.9 470.7"/><path d="M202.0 469.2L156.1 479.4"/><path d="M202.3 470.6A260.8 260.8 0 0 1 202.0 469.2"/><path d="M202.5 469.8L202.1 469.9"/><path d="M202.9 471.8A260.4 260.4 0 0 1 202.5 469.8"/><path d="M203.1 470.7L202.7 470.8"/><path d="M202.7 468.7L159.3 478.4"/><path d="M203.1 470.7A260.0 260.0 0 0 1 202.7 468.7"/><path d="M203.3 469.6L202.9 469.7"/><path d="M203.0 468.4L165.1 476.7"/><path d="M203.3 469.6A259.6 259.6 0 0 1 203.0 468.4"/><path d="M203.5 468.9L203.1 469.0"/><path d="M213.7 466.6L203.5 468.9"/><path d="M193.9 466.9L158.7 474.2"/><path d="M192.2 466.2L133.6 478.1"/><path d="M192.1 465.4L152.3 473.3"/><path d="M192.2 466.2A269.7 269.7 0 0 1 192.1 465.4"/><path d="M193.6 465.5L192.1 465.8"/><path d="M193.9 466.9A268.2 268.2 0 0 1 193.6 465.5"/><path d="M200.5 464.8L193.7 466.2"/><path d="M195.0 463.4L162.5 469.7"/><path d="M191.7 462.1L171.7 465.8"/><path d="M191.9 462.9A269.4 269.4 0 0 1 191.7 462.1"/><path d="M194.7 462.0L191.8 462.5"/><path d="M195.0 463.4A266.4 266.4 0 0 1 194.7 462.0"/><path d="M198.3 462.0L194.8 462.7"/><path d="M197.9 459.8L148.5 468.8"/><path d="M198.3 462.0A262.9 262.9 0 0 1 197.9 459.8"/><path d="M199.7 460.6L198.1 460.9"/><path d="M200.5 464.8A261.3 261.3 0 0 1 199.7 460.6"/><path d="M200.5 462.6L200.1 462.7"/><path d="M212.3 460.3L200.5 462.6"/><path d="M197.2 456.1L150.3 463.9"/><path d="M193.1 455.0L162.7 459.9"/><path d="M189.7 453.9L167.9 457.3"/><path d="M183.1 453.6L154.8 457.8"/><path d="M182.9 452.5L164.1 455.3"/><path d="M183.1 453.6A276.5 276.5 0 0 1 182.9 452.5"/><path d="M189.4 452.1L183.0 453.0"/><path d="M189.7 453.9A270.0 270.0 0 0 1 189.4 452.1"/><path d="M192.3 452.6L189.5 453.0"/><path d="M191.9 449.7L136.5 457.5"/><path d="M192.3 452.6A267.2 267.2 0 0 1 191.9 449.7"/><path d="M192.5 451.1L192.1 451.2"/><path d="M193.1 455.0A266.8 266.8 0 0 1 192.5 451.1"/><path d="M196.6 452.5L192.8 453.1"/><path d="M197.2 456.1A262.9 262.9 0 0 1 196.6 452.5"/><path d="M197.3 454.2L196.9 454.3"/><path d="M196.3 447.3L171.8 450.6"/><path d="M197.3 454.2A262.5 262.5 0 0 1 196.3 447.3"/><path d="M197.9 450.6L196.8 450.8"/><path d="M197.1 445.3L152.0 451.1"/><path d="M197.9 450.6A261.4 261.4 0 0 1 197.1 445.3"/><path d="M198.5 447.8L197.5 448.0"/><path d="M198.5 447.8A260.4 260.4 0 0 1 198.0 443.3"/><path d="M200.1 445.3L198.2 445.6"/><path d="M196.9 441.2L154.6 445.8"/><path d="M195.5 439.5L147.0 444.5"/><path d="M195.1 439.1L142.8 444.5"/><path d="M179.8 440.3L135.2 444.8"/><path d="M179.7 439.9L153.5 442.5"/><path d="M179.8 440.3A278.1 278.1 0 0 1 179.7 439.9"/><path d="M192.7 438.8L179.8 440.1"/><path d="M182.8 439.2L151.0 442.3"/><path d="M182.8 438.8L138.2 443.0"/><path d="M182.8 439.2A275.0 275.0 0 0 1 182.8 438.8"/><path d="M187.2 438.5L182.8 439.0"/><path d="M187.2 437.9L122.0 444.1"/><path d="M187.2 438.5A270.5 270.5 0 0 1 187.2 437.9"/><path d="M192.6 437.7L187.2 438.2"/><path d="M192.7 438.8A265.1 265.1 0 0 1 192.6 437.7"/><path d="M195.0 438.0L192.6 438.3"/><path d="M195.1 439.1A262.8 262.8 0 0 1 195.0 438.0"/><path d="M195.4 438.5L195.0 438.6"/><path d="M195.5 439.5A262.4 262.4 0 0 1 195.4 438.5"/><path d="M196.6 438.9L195.5 439.0"/><path d="M196.9 441.2A261.2 261.2 0 0 1 196.6 438.9"/><path d="M199.4 439.7L196.8 440.0"/><path d="M200.1 445.3A258.5 258.5 0 0 1 199.4 439.7"/><path d="M200.2 442.5L199.8 442.5"/><path d="M208.1 441.6L200.2 442.5"/><path d="M199.3 432.6L131.0 437.9"/><path d="M176.6 430.6L142.9 432.7"/><path d="M176.6 431.7A280.5 280.5 0 0 1 176.6 430.6"/><path d="M186.7 430.5L176.6 431.1"/><path d="M186.6 428.6L140.7 431.3"/><path d="M186.7 430.5A270.4 270.4 0 0 1 186.6 428.6"/><path d="M198.6 428.8L186.6 429.5"/><path d="M163.5 427.2L138.4 428.5"/><path d="M163.5 426.8L138.4 428.0"/><path d="M163.5 427.2A293.4 293.4 0 0 1 163.5 426.8"/><path d="M177.1 426.3L163.5 427.0"/><path d="M177.1 425.7L129.8 427.9"/><path d="M177.1 426.3A279.7 279.7 0 0 1 177.1 425.7"/><path d="M192.1 425.3L177.1 426.0"/><path d="M186.8 424.9L151.8 426.5"/><path d="M168.5 425.3L162.9 425.5"/><path d="M168.5 424.8L126.5 426.6"/><path d="M168.5 425.3A288.2 288.2 0 0 1 168.5 424.8"/><path d="M186.8 424.3L168.5 425.1"/><path d="M186.8 424.9A270.0 270.0 0 0 1 186.8 424.3"/><path d="M192.1 424.3L186.8 424.6"/><path d="M192.1 425.3A264.7 264.7 0 0 1 192.1 424.3"/><path d="M198.0 424.5L192.1 424.8"/><path d="M180.1 421.8L155.6 422.6"/><path d="M179.7 421.4L136.9 422.8"/><path d="M179.7 421.0L144.0 422.1"/><path d="M179.7 421.4A276.9 276.9 0 0 1 179.7 421.0"/><path d="M180.1 421.2L179.7 421.2"/><path d="M180.1 421.8A276.5 276.5 0 0 1 180.1 421.2"/><path d="M192.7 421.1L180.1 421.5"/><path d="M171.1 420.9L122.3 422.3"/><path d="M171.1 420.4L150.8 421.0"/><path d="M171.1 420.9A285.6 285.6 0 0 1 171.1 420.4"/><path d="M191.8 420.1L171.1 420.7"/><path d="M169.8 420.1L144.5 420.7"/><path d="M169.8 419.6L140.9 420.4"/><path d="M169.8 420.1A286.8 286.8 0 0 1 169.8 419.6"/><path d="M184.6 419.5L169.8 419.8"/><path d="M184.6 418.9L152.3 419.6"/><path d="M184.6 419.5A272.0 272.0 0 0 1 184.6 418.9"/><path d="M191.8 419.0L184.6 419.2"/><path d="M191.8 420.1A264.8 264.8 0 0 1 191.8 419.0"/><path d="M192.6 419.5L191.8 419.5"/><path d="M192.7 421.1A264.0 264.0 0 0 1 192.6 419.5"/><path d="M194.4 420.3L192.7 420.3"/><path d="M194.4 416.7L128.6 417.8"/><path d="M194.4 420.3A262.2 262.2 0 0 1 194.4 416.7"/><path d="M197.3 418.4L194.4 418.5"/><path d="M190.2 414.6L148.8 414.9"/><path d="M186.3 412.9L134.7 412.9"/><path d="M182.6 412.5L137.0 412.5"/><path d="M171.5 412.1L135.1 412.0"/><path d="M171.5 411.6L136.3 411.5"/><path d="M171.5 412.1A285.0 285.0 0 0 1 171.5 411.6"/><path d="M182.6 411.9L171.5 411.8"/><path d="M182.6 412.5A273.9 273.9 0 0 1 182.6 411.9"/><path d="M185.9 412.2L182.6 412.2"/><path d="M185.9 411.3L140.6 411.1"/><path d="M185.9 412.2A270.6 270.6 0 0 1 185.9 411.3"/><path d="M186.3 411.7L185.9 411.7"/><path d="M186.3 412.9A270.2 270.2 0 0 1 186.3 411.7"/><path d="M190.2 412.3L186.3 412.3"/><path d="M190.2 414.6A266.3 266.3 0 0 1 190.2 412.3"/><path d="M197.3 413.4L190.2 413.4"/><path d="M197.3 418.4A259.2 259.2 0 0 1 197.3 413.4"/><path d="M197.7 415.9L197.3 415.9"/><path d="M198.0 424.5A258.8 258.8 0 0 1 197.7 415.9"/><path d="M198.2 420.2L197.8 420.2"/><path d="M198.6 428.8A258.4 258.4 0 0 1 198.2 420.2"/><path d="M198.8 424.5L198.4 424.5"/><path d="M199.3 432.6A258.0 258.0 0 0 1 198.8 424.5"/><path d="M199.4 428.5L199.0 428.5"/><path d="M206.9 428.0L199.4 428.5"/><path d="M191.1 407.0L142.7 406.0"/><path d="M180.0 405.2L159.7 404.7"/><path d="M176.6 403.8L151.0 403.0"/><path d="M176.7 402.7L147.5 401.7"/><path d="M176.6 403.8A280.0 280.0 0 0 1 176.7 402.7"/><path d="M180.0 403.3L176.6 403.2"/><path d="M180.0 405.2A276.6 276.6 0 0 1 180.0 403.3"/><path d="M191.1 404.6L180.0 404.3"/><path d="M191.1 407.0A265.5 265.5 0 0 1 191.1 404.6"/><path d="M199.5 406.0L191.1 405.8"/><path d="M199.2 400.9L177.0 399.9"/><path d="M198.3 396.2L148.5 393.0"/><path d="M198.0 394.0L156.7 391.0"/><path d="M193.9 391.5L166.0 389.3"/><path d="M186.7 389.0L147.8 385.6"/><path d="M174.5 387.5L150.8 385.4"/><path d="M174.5 387.1L151.1 385.0"/><path d="M174.5 387.5A283.1 283.1 0 0 1 174.5 387.1"/><path d="M185.8 388.3L174.5 387.3"/><path d="M185.9 387.7L143.2 383.8"/><path d="M185.8 388.3A271.8 271.8 0 0 1 185.9 387.7"/><path d="M186.4 388.1L185.8 388.0"/><path d="M186.4 387.4L144.8 383.5"/><path d="M186.4 388.1A271.2 271.2 0 0 1 186.4 387.4"/><path d="M186.8 387.8L186.4 387.7"/><path d="M186.7 389.0A270.8 270.8 0 0 1 186.8 387.8"/><path d="M193.1 389.0L186.7 388.4"/><path d="M193.3 387.6L148.4 383.4"/><path d="M193.1 389.0A264.4 264.4 0 0 1 193.3 387.6"/><path d="M193.8 388.4L193.2 388.3"/><path d="M194.0 385.9L148.3 381.3"/><path d="M193.8 388.4A263.9 263.9 0 0 1 194.0 385.9"/><path d="M194.3 387.2L193.9 387.1"/><path d="M193.9 391.5A263.5 263.5 0 0 1 194.3 387.2"/><path d="M198.0 389.7L194.1 389.3"/><path d="M192.6 383.6L123.5 376.1"/><path d="M187.7 382.7L153.2 378.9"/><path d="M177.1 381.1L152.7 378.4"/><path d="M177.1 380.7L152.2 377.9"/><path d="M177.1 381.1A281.2 281.2 0 0 1 177.1 380.7"/><path d="M187.3 382.1L177.1 380.9"/><path d="M187.4 381.5L157.3 378.0"/><path d="M187.3 382.1A270.9 270.9 0 0 1 187.4 381.5"/><path d="M187.8 381.8L187.4 381.8"/><path d="M187.7 382.7A270.5 270.5 0 0 1 187.8 381.8"/><path d="M192.7 382.8L187.7 382.2"/><path d="M192.6 383.6A265.5 265.5 0 0 1 192.7 382.8"/><path d="M198.6 383.9L192.7 383.2"/><path d="M198.0 389.7A259.5 259.5 0 0 1 198.6 383.9"/><path d="M198.7 386.8L198.3 386.8"/><path d="M198.0 394.0A259.1 259.1 0 0 1 198.7 386.8"/><path d="M198.7 390.4L198.3 390.4"/><path d="M198.3 396.2A258.7 258.7 0 0 1 198.7 390.4"/><path d="M198.9 393.3L198.5 393.3"/><path d="M198.6 398.4A258.3 258.3 0 0 1 198.9 393.3"/><path d="M199.1 395.9L198.7 395.9"/><path d="M199.0 380.3L154.6 374.8"/><path d="M189.7 378.7L153.3 374.2"/><path d="M184.0 377.6L169.3 375.7"/><path d="M184.1 377.2L164.2 374.7"/><path d="M184.0 377.6A274.7 274.7 0 0 1 184.1 377.2"/><path d="M189.7 378.2L184.1 377.4"/><path d="M189.7 378.7A269.0 269.0 0 0 1 189.7 378.2"/><path d="M196.1 379.3L189.7 378.5"/><path d="M192.9 378.0L161.5 373.9"/><path d="M179.7 375.8L165.6 374.0"/><path d="M179.7 375.4L152.6 371.8"/><path d="M179.7 375.8A279.2 279.2 0 0 1 179.7 375.4"/><path d="M188.0 376.7L179.7 375.6"/><path d="M188.1 376.1L137.1 369.2"/><path d="M188.0 376.7A270.9 270.9 0 0 1 188.1 376.1"/><path d="M193.0 377.1L188.1 376.4"/><path d="M192.9 378.0A265.8 265.8 0 0 1 193.0 377.1"/><path d="M196.3 378.0L193.0 377.5"/><path d="M196.1 379.3A262.5 262.5 0 0 1 196.3 378.0"/><path d="M197.7 378.8L196.2 378.6"/><path d="M198.0 377.1L155.6 371.3"/><path d="M197.7 378.8A261.0 261.0 0 0 1 198.0 377.1"/><path d="M199.3 378.1L197.8 378.0"/><path d="M199.0 380.3A259.5 259.5 0 0 1 199.3 378.1"/><path d="M200.7 379.4L199.1 379.2"/><path d="M199.1 395.9A257.9 257.9 0 0 1 200.7 379.4"/><path d="M200.2 387.7L199.8 387.6"/><path d="M199.2 400.9A257.5 257.5 0 0 1 200.2 387.7"/><path d="M200.0 394.3L199.6 394.3"/><path d="M199.5 406.0A257.1 257.1 0 0 1 200.0 394.3"/><path d="M200.1 400.2L199.7 400.2"/><path d="M205.4 400.4L200.1 400.2"/><path d="M198.7 372.9L146.7 364.9"/><path d="M198.6 370.4L149.2 362.4"/><path d="M197.5 367.7L117.5 353.9"/><path d="M169.7 362.5L134.4 356.3"/><path d="M169.8 362.1L157.6 359.9"/><path d="M169.7 362.5A291.1 291.1 0 0 1 169.8 362.1"/><path d="M197.2 367.1L169.7 362.3"/><path d="M174.2 362.4L129.2 354.5"/><path d="M174.3 362.0L150.1 357.7"/><path d="M174.2 362.4A286.7 286.7 0 0 1 174.3 362.0"/><path d="M196.9 366.3L174.2 362.2"/><path d="M173.2 361.4L140.7 355.5"/><path d="M173.3 361.0L155.1 357.7"/><path d="M173.2 361.4A287.9 287.9 0 0 1 173.3 361.0"/><path d="M185.4 363.4L173.2 361.2"/><path d="M185.5 362.8L165.2 359.1"/><path d="M185.4 363.4A275.5 275.5 0 0 1 185.5 362.8"/><path d="M196.7 365.2L185.4 363.1"/><path d="M196.4 364.4L154.1 356.6"/><path d="M190.2 362.9L141.4 353.8"/><path d="M178.5 360.2L145.7 354.1"/><path d="M178.2 359.8L149.9 354.4"/><path d="M178.2 359.4L151.7 354.3"/><path d="M178.2 359.8A283.3 283.3 0 0 1 178.2 359.4"/><path d="M178.6 359.6L178.2 359.6"/><path d="M178.5 360.2A282.9 282.9 0 0 1 178.6 359.6"/><path d="M184.3 361.0L178.5 359.9"/><path d="M184.5 360.1L134.3 350.5"/><path d="M184.3 361.0A277.0 277.0 0 0 1 184.5 360.1"/><path d="M190.4 361.7L184.4 360.6"/><path d="M190.2 362.9A270.9 270.9 0 0 1 190.4 361.7"/><path d="M191.1 362.4L190.3 362.3"/><path d="M191.4 361.1L150.5 353.1"/><path d="M191.1 362.4A270.1 270.1 0 0 1 191.4 361.1"/><path d="M194.0 362.3L191.2 361.8"/><path d="M194.2 361.2L149.8 352.5"/><path d="M194.0 362.3A267.3 267.3 0 0 1 194.2 361.2"/><path d="M196.8 362.3L194.1 361.7"/><path d="M196.4 364.4A264.5 264.5 0 0 1 196.8 362.3"/><path d="M197.0 363.4L196.6 363.3"/><path d="M196.7 365.2A264.1 264.1 0 0 1 197.0 363.4"/><path d="M197.3 364.4L196.9 364.3"/><path d="M196.9 366.3A263.7 263.7 0 0 1 197.3 364.4"/><path d="M197.5 365.4L197.1 365.3"/><path d="M197.2 367.1A263.3 263.3 0 0 1 197.5 365.4"/><path d="M197.7 366.3L197.3 366.2"/><path d="M197.5 367.7A262.9 262.9 0 0 1 197.7 366.3"/><path d="M198.0 367.1L197.6 367.0"/><path d="M199.0 361.7L146.4 351.4"/><path d="M198.0 367.1A262.5 262.5 0 0 1 199.0 361.7"/><path d="M198.9 364.5L198.5 364.4"/><path d="M186.7 356.8L164.0 352.1"/><path d="M186.9 355.8L150.9 348.2"/><path d="M186.7 356.8A275.5 275.5 0 0 1 186.9 355.8"/><path d="M199.9 359.0L186.8 356.3"/><path d="M198.9 364.5A262.1 262.1 0 0 1 199.9 359.0"/><path d="M199.8 361.8L199.4 361.8"/><path d="M179.8 351.6L157.5 346.7"/><path d="M180.0 350.5L157.8 345.5"/><path d="M179.8 351.6A283.3 283.3 0 0 1 180.0 350.5"/><path d="M185.9 352.4L179.9 351.0"/><path d="M186.3 350.5L150.3 342.3"/><path d="M185.9 352.4A277.2 277.2 0 0 1 186.3 350.5"/><path d="M201.3 354.9L186.1 351.4"/><path d="M199.8 361.8A261.7 261.7 0 0 1 201.3 354.9"/><path d="M200.9 358.4L200.5 358.3"/><path d="M198.6 370.4A261.3 261.3 0 0 1 200.9 358.4"/><path d="M200.1 364.5L199.7 364.4"/><path d="M198.7 372.9A260.9 260.9 0 0 1 200.1 364.5"/><path d="M199.7 368.8L199.3 368.7"/><path d="M203.2 351.8L150.0 339.1"/><path d="M199.7 368.8A260.5 260.5 0 0 1 203.2 351.8"/><path d="M201.7 360.3L201.3 360.3"/><path d="M192.8 346.6L156.1 337.4"/><path d="M184.7 343.2L165.9 338.4"/><path d="M185.0 342.1L161.0 335.9"/><path d="M184.7 343.2A280.5 280.5 0 0 1 185.0 342.1"/><path d="M193.3 344.8L184.9 342.6"/><path d="M192.8 346.6A271.8 271.8 0 0 1 193.3 344.8"/><path d="M204.4 348.6L193.0 345.7"/><path d="M201.7 360.3A260.1 260.1 0 0 1 204.4 348.6"/><path d="M203.4 354.5L203.0 354.5"/><path d="M210.2 356.1L203.4 354.5"/><path d="M201.7 342.8L142.7 326.6"/><path d="M200.5 342.2L162.4 331.7"/><path d="M199.2 341.6L149.1 327.8"/><path d="M197.6 340.9L145.8 326.6"/><path d="M188.3 338.1L136.9 323.8"/><path d="M188.4 337.9L159.1 329.7"/><path d="M188.3 338.1A278.3 278.3 0 0 1 188.4 337.9"/><path d="M197.7 340.6L188.4 338.0"/><path d="M197.6 340.9A268.7 268.7 0 0 1 197.7 340.6"/><path d="M199.3 341.2L197.6 340.7"/><path d="M199.2 341.6A266.9 266.9 0 0 1 199.3 341.2"/><path d="M200.6 341.8L199.3 341.4"/><path d="M200.5 342.2A265.5 265.5 0 0 1 200.6 341.8"/><path d="M201.8 342.3L200.6 342.0"/><path d="M201.7 342.8A264.2 264.2 0 0 1 201.8 342.3"/><path d="M203.6 343.1L201.8 342.6"/><path d="M203.9 341.9L159.0 329.4"/><path d="M203.6 343.1A262.2 262.2 0 0 1 203.9 341.9"/><path d="M204.2 342.6L203.8 342.5"/><path d="M204.4 341.8L170.0 332.2"/><path d="M204.2 342.6A261.8 261.8 0 0 1 204.4 341.8"/><path d="M204.7 342.3L204.3 342.2"/><path d="M187.4 335.7L153.1 325.9"/><path d="M187.5 335.5L161.2 328.0"/><path d="M187.4 335.7A279.8 279.8 0 0 1 187.5 335.5"/><path d="M195.7 338.0L187.4 335.6"/><path d="M195.8 337.6L166.8 329.3"/><path d="M195.7 338.0A271.2 271.2 0 0 1 195.8 337.6"/><path d="M205.2 340.5L195.8 337.8"/><path d="M204.7 342.3A261.4 261.4 0 0 1 205.2 340.5"/><path d="M205.3 341.5L204.9 341.4"/><path d="M206.0 339.2L158.3 325.3"/><path d="M205.3 341.5A261.0 261.0 0 0 1 206.0 339.2"/><path d="M206.0 340.5L205.6 340.4"/><path d="M212.4 342.3L206.0 340.5"/><path d="M207.8 336.9L180.9 328.7"/><path d="M207.5 336.6L171.0 325.4"/><path d="M207.2 336.2L160.9 322.1"/><path d="M199.2 333.5L173.0 325.5"/><path d="M199.2 333.3L164.1 322.5"/><path d="M199.2 333.5A269.2 269.2 0 0 1 199.2 333.3"/><path d="M206.0 335.5L199.2 333.4"/><path d="M199.1 333.0L163.3 321.9"/><path d="M199.2 332.8L154.6 319.0"/><path d="M199.1 333.0A269.4 269.4 0 0 1 199.2 332.8"/><path d="M206.2 335.1L199.1 332.9"/><path d="M206.0 335.5A262.0 262.0 0 0 1 206.2 335.1"/><path d="M206.5 335.4L206.1 335.3"/><path d="M206.7 334.9L180.0 326.6"/><path d="M206.5 335.4A261.6 261.6 0 0 1 206.7 334.9"/><path d="M207.4 335.4L206.6 335.1"/><path d="M207.2 336.2A260.8 260.8 0 0 1 207.4 335.4"/><path d="M207.7 335.9L207.3 335.8"/><path d="M207.5 336.6A260.4 260.4 0 0 1 207.7 335.9"/><path d="M207.9 336.4L207.6 336.2"/><path d="M207.8 336.9A260.0 260.0 0 0 1 207.9 336.4"/><path d="M208.2 336.7L207.9 336.6"/><path d="M208.7 335.2L179.9 326.3"/><path d="M208.2 336.7A259.6 259.6 0 0 1 208.7 335.2"/><path d="M208.9 336.1L208.5 336.0"/><path d="M209.2 335.1L173.8 324.1"/><path d="M208.9 336.1A259.2 259.2 0 0 1 209.2 335.1"/><path d="M209.4 335.7L209.0 335.6"/><path d="M209.6 335.0L165.4 321.2"/><path d="M209.4 335.7A258.8 258.8 0 0 1 209.6 335.0"/><path d="M209.9 335.5L209.5 335.4"/><path d="M214.0 336.8L209.9 335.5"/><path d="M207.8 331.6L173.0 320.3"/><path d="M199.7 327.2L170.6 317.5"/><path d="M193.8 324.2L178.0 318.9"/><path d="M193.8 323.9L186.0 321.3"/><path d="M193.8 324.2A277.2 277.2 0 0 1 193.8 323.9"/><path d="M195.3 324.6L193.8 324.0"/><path d="M195.5 324.2L174.2 317.0"/><path d="M195.3 324.6A275.6 275.6 0 0 1 195.5 324.2"/><path d="M196.3 324.7L195.4 324.4"/><path d="M196.6 323.6L169.9 314.5"/><path d="M196.3 324.7A274.6 274.6 0 0 1 196.6 323.6"/><path d="M200.3 325.5L196.5 324.2"/><path d="M199.7 327.2A270.6 270.6 0 0 1 200.3 325.5"/><path d="M207.9 329.0L200.0 326.3"/><path d="M207.6 325.7L143.0 303.2"/><path d="M204.4 323.1L164.9 309.1"/><path d="M204.4 321.9L155.6 304.4"/><path d="M203.0 320.2L171.7 308.8"/><path d="M201.6 318.7L177.9 310.0"/><path d="M194.9 316.0L163.6 304.4"/><path d="M195.0 315.7L185.3 312.2"/><path d="M194.9 316.0A278.8 278.8 0 0 1 195.0 315.7"/><path d="M201.7 318.3L195.0 315.9"/><path d="M201.6 318.7A271.7 271.7 0 0 1 201.7 318.3"/><path d="M203.4 319.2L201.6 318.5"/><path d="M203.0 320.2A269.7 269.7 0 0 1 203.4 319.2"/><path d="M203.6 319.8L203.2 319.7"/><path d="M193.6 314.0L161.6 302.0"/><path d="M193.7 313.8L147.8 296.5"/><path d="M193.6 314.0A280.7 280.7 0 0 1 193.7 313.8"/><path d="M196.1 314.8L193.7 313.9"/><path d="M196.2 314.5L163.7 302.2"/><path d="M196.1 314.8A278.1 278.1 0 0 1 196.2 314.5"/><path d="M204.4 317.7L196.2 314.6"/><path d="M203.6 319.8A269.3 269.3 0 0 1 204.4 317.7"/><path d="M205.3 319.3L204.0 318.8"/><path d="M204.4 321.9A267.9 267.9 0 0 1 205.3 319.3"/><path d="M205.2 320.7L204.9 320.6"/><path d="M204.4 323.1A267.5 267.5 0 0 1 205.2 320.7"/><path d="M208.1 323.1L204.8 321.9"/><path d="M196.8 313.2L162.0 299.9"/><path d="M185.5 307.8L156.8 296.8"/><path d="M185.8 307.2L170.4 301.2"/><path d="M185.5 307.8A290.5 290.5 0 0 1 185.8 307.2"/><path d="M196.9 311.9L185.6 307.5"/><path d="M197.3 310.8L178.0 303.2"/><path d="M196.9 311.9A278.5 278.5 0 0 1 197.3 310.8"/><path d="M197.4 311.5L197.1 311.3"/><path d="M196.8 313.2A278.1 278.1 0 0 1 197.4 311.5"/><path d="M201.8 314.1L197.1 312.3"/><path d="M202.7 311.9L167.8 298.0"/><path d="M201.8 314.1A273.0 273.0 0 0 1 202.7 311.9"/><path d="M210.7 316.3L202.2 313.0"/><path d="M208.1 323.1A264.0 264.0 0 0 1 210.7 316.3"/><path d="M209.7 319.8L209.4 319.7"/><path d="M207.6 325.7A263.6 263.6 0 0 1 209.7 319.8"/><path d="M209.5 323.1L208.7 322.8"/><path d="M192.4 306.0L166.6 295.6"/><path d="M192.7 305.4L173.4 297.5"/><path d="M192.4 306.0A284.7 284.7 0 0 1 192.7 305.4"/><path d="M211.4 313.3L192.6 305.7"/><path d="M210.3 311.2L183.8 300.3"/><path d="M207.3 309.7L188.4 301.9"/><path d="M202.1 307.3L179.9 298.1"/><path d="M202.2 307.0L176.6 296.4"/><path d="M202.1 307.3A275.3 275.3 0 0 1 202.2 307.0"/><path d="M205.6 308.6L202.2 307.2"/><path d="M205.8 308.3L201.5 306.5"/><path d="M205.6 308.6A271.5 271.5 0 0 1 205.8 308.3"/><path d="M207.5 309.2L205.7 308.4"/><path d="M207.3 309.7A269.6 269.6 0 0 1 207.5 309.2"/><path d="M209.3 310.2L207.4 309.4"/><path d="M196.0 303.9L179.6 297.1"/><path d="M196.1 303.7L177.3 295.8"/><path d="M196.0 303.9A282.2 282.2 0 0 1 196.1 303.7"/><path d="M206.7 308.3L196.0 303.8"/><path d="M200.1 305.1L194.4 302.7"/><path d="M200.2 304.9L183.1 297.7"/><path d="M200.1 305.1A278.0 278.0 0 0 1 200.2 304.9"/><path d="M206.9 307.8L200.1 305.0"/><path d="M206.7 308.3A270.7 270.7 0 0 1 206.9 307.8"/><path d="M209.7 309.2L206.8 308.0"/><path d="M209.3 310.2A267.5 267.5 0 0 1 209.7 309.2"/><path d="M210.7 310.2L209.5 309.7"/><path d="M210.3 311.2A266.2 266.2 0 0 1 210.7 310.2"/><path d="M212.2 311.4L210.5 310.7"/><path d="M211.4 313.3A264.4 264.4 0 0 1 212.2 311.4"/><path d="M213.0 312.8L211.8 312.4"/><path d="M214.4 309.5L151.0 282.5"/><path d="M213.0 312.8A263.1 263.1 0 0 1 214.4 309.5"/><path d="M214.1 311.3L213.7 311.2"/><path d="M209.5 323.1A262.7 262.7 0 0 1 214.1 311.3"/><path d="M212.1 317.3L211.7 317.2"/><path d="M207.9 329.0A262.3 262.3 0 0 1 212.1 317.3"/><path d="M210.3 323.3L209.9 323.1"/><path d="M216.2 308.5L156.6 282.7"/><path d="M210.3 323.3A261.9 261.9 0 0 1 216.2 308.5"/><path d="M213.5 316.0L213.1 315.8"/><path d="M207.8 331.6A261.5 261.5 0 0 1 213.5 316.0"/><path d="M210.9 323.9L210.5 323.7"/><path d="M217.6 326.3L210.9 323.9"/><path d="M195.7 296.3L173.7 286.5"/><path d="M195.8 296.1L168.9 284.1"/><path d="M195.7 296.3A285.5 285.5 0 0 1 195.8 296.1"/><path d="M196.1 296.4L195.7 296.2"/><path d="M196.3 296.0L166.1 282.5"/><path d="M196.1 296.4A285.1 285.1 0 0 1 196.3 296.0"/><path d="M205.7 300.4L196.2 296.2"/><path d="M187.6 290.8L173.1 284.3"/><path d="M187.9 290.2L168.2 281.2"/><path d="M187.6 290.8A295.1 295.1 0 0 1 187.9 290.2"/><path d="M196.4 294.5L187.7 290.5"/><path d="M196.9 293.4L159.8 276.4"/><path d="M196.4 294.5A285.6 285.6 0 0 1 196.9 293.4"/><path d="M206.2 298.3L196.7 293.9"/><path d="M206.8 296.9L173.3 281.4"/><path d="M206.2 298.3A275.1 275.1 0 0 1 206.8 296.9"/><path d="M206.9 297.8L206.5 297.6"/><path d="M205.7 300.4A274.7 274.7 0 0 1 206.9 297.8"/><path d="M216.3 303.6L206.3 299.1"/><path d="M205.6 294.3L164.4 274.8"/><path d="M202.3 291.6L177.0 279.5"/><path d="M198.1 289.3L166.3 274.2"/><path d="M198.2 289.0L189.5 284.9"/><path d="M198.1 289.3A286.3 286.3 0 0 1 198.2 289.0"/><path d="M202.4 291.2L198.1 289.2"/><path d="M202.3 291.6A281.5 281.5 0 0 1 202.4 291.2"/><path d="M204.0 292.2L202.3 291.4"/><path d="M204.5 291.1L168.3 273.6"/><path d="M204.0 292.2A279.7 279.7 0 0 1 204.5 291.1"/><path d="M206.4 292.6L204.3 291.6"/><path d="M205.6 294.3A277.3 277.3 0 0 1 206.4 292.6"/><path d="M217.9 299.1L206.0 293.5"/><path d="M213.5 293.4L180.5 277.2"/><path d="M199.1 285.0L170.5 270.8"/><path d="M199.4 284.4L167.4 268.4"/><path d="M199.1 285.0A287.2 287.2 0 0 1 199.4 284.4"/><path d="M213.2 291.6L199.3 284.7"/><path d="M206.8 286.8L164.5 265.5"/><path d="M206.9 285.8L191.2 277.8"/><path d="M206.7 284.7L177.2 269.6"/><path d="M207.0 284.1L176.4 268.4"/><path d="M206.7 284.7A280.6 280.6 0 0 1 207.0 284.1"/><path d="M207.4 284.7L206.8 284.4"/><path d="M206.9 285.8A279.9 279.9 0 0 1 207.4 284.7"/><path d="M207.5 285.4L207.2 285.3"/><path d="M206.8 286.8A279.5 279.5 0 0 1 207.5 285.4"/><path d="M209.8 287.5L207.2 286.1"/><path d="M211.1 285.1L188.6 273.4"/><path d="M209.8 287.5A276.5 276.5 0 0 1 211.1 285.1"/><path d="M214.8 288.5L210.4 286.3"/><path d="M213.2 291.6A271.7 271.7 0 0 1 214.8 288.5"/><path d="M214.9 290.5L214.0 290.1"/><path d="M213.5 293.4A270.6 270.6 0 0 1 214.9 290.5"/><path d="M219.7 294.7L214.2 292.0"/><path d="M222.2 288.9L183.0 268.3"/><path d="M212.8 282.0L163.8 255.8"/><path d="M194.8 271.4L177.0 261.8"/><path d="M195.2 270.8L169.2 256.7"/><path d="M194.8 271.4A297.3 297.3 0 0 1 195.2 270.8"/><path d="M213.3 281.0L195.0 271.1"/><path d="M212.8 282.0A276.5 276.5 0 0 1 213.3 281.0"/><path d="M222.8 286.8L213.0 281.5"/><path d="M202.3 272.6L165.7 252.5"/><path d="M202.4 272.4L187.3 264.1"/><path d="M202.3 272.6A290.1 290.1 0 0 1 202.4 272.4"/><path d="M213.7 278.8L202.4 272.5"/><path d="M213.9 278.4L168.2 253.1"/><path d="M213.7 278.8A277.2 277.2 0 0 1 213.9 278.4"/><path d="M223.5 283.9L213.8 278.6"/><path d="M221.5 280.9L188.7 262.5"/><path d="M220.3 279.9L189.5 262.6"/><path d="M214.8 276.6L206.0 271.6"/><path d="M213.1 275.3L183.7 258.7"/><path d="M213.2 275.1L187.0 260.3"/><path d="M213.1 275.3A279.4 279.4 0 0 1 213.2 275.1"/><path d="M214.3 275.9L213.1 275.2"/><path d="M214.5 275.5L200.6 267.7"/><path d="M214.3 275.9A278.1 278.1 0 0 1 214.5 275.5"/><path d="M214.7 275.9L214.4 275.7"/><path d="M215.0 275.5L207.6 271.4"/><path d="M214.7 275.9A277.7 277.7 0 0 1 215.0 275.5"/><path d="M215.2 275.9L214.9 275.7"/><path d="M214.8 276.6A277.3 277.3 0 0 1 215.2 275.9"/><path d="M218.9 278.5L215.0 276.2"/><path d="M219.3 277.7L174.9 252.5"/><path d="M218.9 278.5A272.8 272.8 0 0 1 219.3 277.7"/><path d="M220.8 279.0L219.1 278.1"/><path d="M220.3 279.9A270.8 270.8 0 0 1 220.8 279.0"/><path d="M220.9 279.7L220.6 279.5"/><path d="M221.5 278.7L194.8 263.5"/><path d="M220.9 279.7A270.4 270.4 0 0 1 221.5 278.7"/><path d="M222.2 279.7L221.2 279.2"/><path d="M221.5 280.9A269.3 269.3 0 0 1 222.2 279.7"/><path d="M222.9 280.9L221.9 280.3"/><path d="M205.3 269.1L188.9 259.8"/><path d="M205.4 268.9L178.6 253.6"/><path d="M205.3 269.1A289.3 289.3 0 0 1 205.4 268.9"/><path d="M214.7 274.4L205.3 269.0"/><path d="M214.9 274.1L184.0 256.4"/><path d="M214.7 274.4A278.5 278.5 0 0 1 214.9 274.1"/><path d="M215.1 274.4L214.8 274.2"/><path d="M215.3 274.0L188.1 258.4"/><path d="M215.1 274.4A278.1 278.1 0 0 1 215.3 274.0"/><path d="M215.6 274.4L215.2 274.2"/><path d="M215.8 274.0L180.0 253.4"/><path d="M215.6 274.4A277.7 277.7 0 0 1 215.8 274.0"/><path d="M224.0 279.0L215.7 274.2"/><path d="M222.9 280.9A268.1 268.1 0 0 1 224.0 279.0"/><path d="M223.8 280.1L223.4 279.9"/><path d="M224.6 278.8L187.8 257.6"/><path d="M223.8 280.1A267.7 267.7 0 0 1 224.6 278.8"/><path d="M224.5 279.7L224.2 279.5"/><path d="M224.5 279.7A267.3 267.3 0 0 1 225.0 278.8"/><path d="M225.1 279.4L224.8 279.2"/><path d="M226.1 277.8L191.5 257.6"/><path d="M225.1 279.4A266.9 266.9 0 0 1 226.1 277.8"/><path d="M225.9 278.8L225.6 278.6"/><path d="M210.9 267.1L174.6 245.6"/><path d="M211.0 266.2L197.6 258.2"/><path d="M211.3 265.6L194.0 255.2"/><path d="M211.0 266.2A285.8 285.8 0 0 1 211.3 265.6"/><path d="M211.5 266.1L211.2 265.9"/><path d="M210.9 267.1A285.4 285.4 0 0 1 211.5 266.1"/><path d="M227.4 276.2L211.2 266.6"/><path d="M225.9 278.8A266.5 266.5 0 0 1 227.4 276.2"/><path d="M227.0 277.7L226.7 277.5"/><path d="M223.5 283.9A266.1 266.1 0 0 1 227.0 277.7"/><path d="M225.6 281.0L225.2 280.8"/><path d="M209.8 262.6L195.8 254.1"/><path d="M208.2 260.6L193.0 251.3"/><path d="M208.6 260.0L178.1 241.3"/><path d="M208.2 260.6A291.1 291.1 0 0 1 208.6 260.0"/><path d="M210.4 261.6L208.4 260.3"/><path d="M209.8 262.6A288.7 288.7 0 0 1 210.4 261.6"/><path d="M223.3 270.2L210.1 262.1"/><path d="M203.0 255.1L192.6 248.6"/><path d="M203.0 255.1A298.3 298.3 0 0 1 203.4 254.5"/><path d="M220.8 265.8L203.2 254.8"/><path d="M210.8 258.0L189.7 244.8"/><path d="M211.2 257.4L194.0 246.5"/><path d="M210.8 258.0A290.2 290.2 0 0 1 211.2 257.4"/><path d="M221.6 264.4L211.0 257.7"/><path d="M220.8 265.8A277.7 277.7 0 0 1 221.6 264.4"/><path d="M221.5 265.3L221.2 265.1"/><path d="M221.5 265.3A277.3 277.3 0 0 1 222.7 263.5"/><path d="M225.6 266.6L222.1 264.4"/><path d="M223.3 270.2A273.2 273.2 0 0 1 225.6 266.6"/><path d="M227.2 270.1L224.4 268.4"/><path d="M229.5 266.4L187.0 239.1"/><path d="M227.2 270.1A270.0 270.0 0 0 1 229.5 266.4"/><path d="M231.9 270.5L228.3 268.2"/><path d="M225.6 281.0A265.7 265.7 0 0 1 231.9 270.5"/><path d="M229.0 275.9L228.7 275.7"/><path d="M222.8 286.8A265.3 265.3 0 0 1 229.0 275.9"/><path d="M226.2 281.5L225.9 281.3"/><path d="M222.2 288.9A264.9 264.9 0 0 1 226.2 281.5"/><path d="M224.5 285.4L224.2 285.2"/><path d="M219.7 294.7A264.5 264.5 0 0 1 224.5 285.4"/><path d="M222.4 290.2L222.0 290.0"/><path d="M217.9 299.1A264.1 264.1 0 0 1 222.4 290.2"/><path d="M220.5 294.8L220.1 294.6"/><path d="M216.3 303.6A263.7 263.7 0 0 1 220.5 294.8"/><path d="M218.7 299.4L218.3 299.2"/><path d="M215.6 255.1L206.7 249.3"/><path d="M215.7 254.9L191.4 239.0"/><path d="M215.6 255.1A287.8 287.8 0 0 1 215.7 254.9"/><path d="M223.1 259.9L215.6 255.0"/><path d="M223.3 259.5L214.8 254.0"/><path d="M223.1 259.9A278.9 278.9 0 0 1 223.3 259.5"/><path d="M224.1 260.3L223.2 259.7"/><path d="M224.4 260.0L196.6 241.8"/><path d="M224.1 260.3A277.8 277.8 0 0 1 224.4 260.0"/><path d="M236.3 268.1L224.2 260.1"/><path d="M218.7 299.4A263.3 263.3 0 0 1 236.3 268.1"/><path d="M227.3 283.6L227.0 283.4"/><path d="M234.0 287.4L227.3 283.6"/><path d="M235.0 263.6L185.8 230.5"/><path d="M232.0 260.1L211.2 246.1"/><path d="M227.6 256.9L191.4 232.3"/><path d="M226.3 255.4L217.9 249.7"/><path d="M226.2 255.6A278.7 278.7 0 0 1 226.3 255.4"/><path d="M227.8 256.6L226.2 255.5"/><path d="M227.6 256.9A276.8 276.8 0 0 1 227.8 256.6"/><path d="M232.2 259.8L227.7 256.7"/><path d="M232.0 260.1A271.4 271.4 0 0 1 232.2 259.8"/><path d="M234.6 261.7L232.1 260.0"/><path d="M234.6 261.7A268.3 268.3 0 0 1 235.7 260.2"/><path d="M235.7 261.3L235.2 260.9"/><path d="M237.0 259.4L194.0 229.4"/><path d="M235.7 261.3A267.6 267.6 0 0 1 237.0 259.4"/><path d="M236.9 260.7L236.4 260.3"/><path d="M235.0 263.6A266.9 266.9 0 0 1 236.9 260.7"/><path d="M238.1 263.6L236.0 262.2"/><path d="M240.3 259.9L233.6 255.2"/><path d="M240.1 258.2L207.0 234.6"/><path d="M233.2 253.0L204.2 232.3"/><path d="M232.8 252.1L204.4 231.7"/><path d="M232.7 252.3A275.2 275.2 0 0 1 232.8 252.1"/><path d="M233.1 252.4L232.7 252.2"/><path d="M233.3 252.1L216.9 240.4"/><path d="M233.1 252.4A274.8 274.8 0 0 1 233.3 252.1"/><path d="M233.5 252.5L233.2 252.3"/><path d="M233.2 253.0A274.4 274.4 0 0 1 233.5 252.5"/><path d="M239.0 256.8L233.3 252.8"/><path d="M227.9 248.0L209.7 234.8"/><path d="M228.1 247.8L204.3 230.6"/><path d="M227.9 248.0A281.6 281.6 0 0 1 228.1 247.8"/><path d="M236.0 253.7L228.0 247.9"/><path d="M236.3 253.4L200.1 227.3"/><path d="M236.0 253.7A271.7 271.7 0 0 1 236.3 253.4"/><path d="M239.6 256.0L236.1 253.5"/><path d="M239.0 256.8A267.5 267.5 0 0 1 239.6 256.0"/><path d="M239.6 256.6L239.3 256.4"/><path d="M240.1 255.9L204.7 230.2"/><path d="M239.6 256.6A267.1 267.1 0 0 1 240.1 255.9"/><path d="M240.3 256.6L239.9 256.3"/><path d="M240.7 256.0L217.4 239.1"/><path d="M240.3 256.6A266.6 266.6 0 0 1 240.7 256.0"/><path d="M241.1 256.7L240.5 256.3"/><path d="M240.1 258.2A265.8 265.8 0 0 1 241.1 256.7"/><path d="M240.9 257.7L240.6 257.5"/><path d="M240.9 257.7A265.4 265.4 0 0 1 241.8 256.5"/><path d="M241.9 257.5L241.3 257.1"/><path d="M240.3 259.9A264.7 264.7 0 0 1 241.9 257.5"/><path d="M241.4 258.9L241.1 258.7"/><path d="M238.1 263.6A264.3 264.3 0 0 1 241.4 258.9"/><path d="M240.1 261.5L239.8 261.3"/><path d="M247.1 266.4L240.1 261.5"/><path d="M246.6 256.6L209.8 229.3"/><path d="M245.9 254.1L208.0 225.5"/><path d="M244.8 253.0L197.5 217.3"/><path d="M244.6 252.5L222.1 235.5"/><path d="M244.5 252.1L212.8 228.2"/><path d="M244.3 251.7L214.7 229.3"/><path d="M243.8 251.0L219.3 232.4"/><path d="M241.0 248.6L194.3 213.1"/><path d="M240.2 247.7L204.1 220.2"/><path d="M239.9 247.1L215.3 228.4"/><path d="M239.0 246.2L226.7 236.7"/><path d="M239.2 246.0L213.0 225.9"/><path d="M239.0 246.2A273.8 273.8 0 0 1 239.2 246.0"/><path d="M240.1 246.8L239.1 246.1"/><path d="M239.9 247.1A272.5 272.5 0 0 1 240.1 246.8"/><path d="M240.5 247.4L240.0 247.0"/><path d="M240.2 247.7A271.9 271.9 0 0 1 240.5 247.4"/><path d="M241.2 248.2L240.4 247.5"/><path d="M241.0 248.6A270.8 270.8 0 0 1 241.2 248.2"/><path d="M243.7 250.4L241.1 248.4"/><path d="M244.3 249.6L240.8 246.9"/><path d="M243.7 250.4A267.5 267.5 0 0 1 244.3 249.6"/><path d="M244.4 250.2L244.0 250.0"/><path d="M243.8 251.0A267.1 267.1 0 0 1 244.4 250.2"/><path d="M244.4 250.9L244.1 250.6"/><path d="M245.1 249.9L222.4 232.5"/><path d="M244.4 250.9A266.7 266.7 0 0 1 245.1 249.9"/><path d="M245.1 250.6L244.7 250.4"/><path d="M244.3 251.7A266.3 266.3 0 0 1 245.1 250.6"/><path d="M245.0 251.4L244.7 251.2"/><path d="M244.5 252.1A265.9 265.9 0 0 1 245.0 251.4"/><path d="M245.0 252.0L244.7 251.7"/><path d="M244.6 252.5A265.5 265.5 0 0 1 245.0 252.0"/><path d="M245.2 252.5L244.8 252.3"/><path d="M244.8 253.0A265.1 265.1 0 0 1 245.2 252.5"/><path d="M245.3 253.0L245.0 252.7"/><path d="M246.8 251.0L194.0 210.3"/><path d="M245.3 253.0A264.7 264.7 0 0 1 246.8 251.0"/><path d="M246.4 252.2L246.1 252.0"/><path d="M241.4 246.5L212.6 224.3"/><path d="M241.6 246.3L214.2 225.1"/><path d="M241.4 246.5A271.7 271.7 0 0 1 241.6 246.3"/><path d="M247.4 250.9L241.5 246.4"/><path d="M246.4 252.2A264.3 264.3 0 0 1 247.4 250.9"/><path d="M247.2 251.8L246.9 251.6"/><path d="M247.9 250.9L233.3 239.6"/><path d="M247.2 251.8A263.9 263.9 0 0 1 247.9 250.9"/><path d="M247.9 251.6L247.5 251.3"/><path d="M245.9 254.1A263.5 263.5 0 0 1 247.9 251.6"/><path d="M247.2 253.1L246.9 252.8"/><path d="M249.4 250.3L214.5 222.9"/><path d="M247.2 253.1A263.1 263.1 0 0 1 249.4 250.3"/><path d="M248.6 251.9L248.3 251.7"/><path d="M234.0 236.2L220.4 225.5"/><path d="M234.4 235.7L216.7 221.6"/><path d="M234.0 236.2A283.9 283.9 0 0 1 234.4 235.7"/><path d="M250.8 249.1L234.2 236.0"/><path d="M248.6 251.9A262.7 262.7 0 0 1 250.8 249.1"/><path d="M250.0 250.8L249.7 250.5"/><path d="M252.2 248.0L229.7 229.9"/><path d="M250.0 250.8A262.3 262.3 0 0 1 252.2 248.0"/><path d="M251.4 249.6L251.1 249.4"/><path d="M252.0 245.8L214.8 215.5"/><path d="M250.5 243.0L226.5 223.2"/><path d="M245.9 237.7L206.7 205.1"/><path d="M231.7 225.5L204.6 203.0"/><path d="M231.8 225.3L220.1 215.6"/><path d="M231.7 225.5A292.4 292.4 0 0 1 231.8 225.3"/><path d="M246.1 237.4L231.8 225.4"/><path d="M245.9 237.7A273.7 273.7 0 0 1 246.1 237.4"/><path d="M250.1 240.9L246.0 237.5"/><path d="M238.4 230.4L214.9 210.8"/><path d="M235.8 227.9L212.4 208.4"/><path d="M236.0 227.7L211.3 207.1"/><path d="M235.8 227.9A287.7 287.7 0 0 1 236.0 227.7"/><path d="M238.6 230.2L235.9 227.8"/><path d="M238.4 230.4A284.1 284.1 0 0 1 238.6 230.2"/><path d="M250.5 240.3L238.5 230.3"/><path d="M250.1 240.9A268.5 268.5 0 0 1 250.5 240.3"/><path d="M250.9 241.2L250.3 240.6"/><path d="M251.5 240.5L219.9 213.9"/><path d="M250.9 241.2A267.6 267.6 0 0 1 251.5 240.5"/><path d="M251.5 241.1L251.2 240.8"/><path d="M252.0 240.5L217.9 211.9"/><path d="M251.5 241.1A267.2 267.2 0 0 1 252.0 240.5"/><path d="M252.1 241.1L251.8 240.8"/><path d="M250.5 243.0A266.8 266.8 0 0 1 252.1 241.1"/><path d="M253.5 243.9L251.3 242.0"/><path d="M252.0 245.8A263.9 263.9 0 0 1 253.5 243.9"/><path d="M254.3 246.1L252.7 244.8"/><path d="M251.4 249.6A261.9 261.9 0 0 1 254.3 246.1"/><path d="M253.2 248.1L252.8 247.9"/><path d="M246.6 256.6A261.5 261.5 0 0 1 253.2 248.1"/><path d="M250.1 252.6L249.8 252.3"/><path d="M254.7 256.1L250.1 252.6"/><path d="M251.8 236.7L224.7 213.4"/><path d="M248.4 232.7L223.0 210.7"/><path d="M248.9 232.2L218.4 205.7"/><path d="M248.4 232.7A275.0 275.0 0 0 1 248.9 232.2"/><path d="M252.6 235.9L248.7 232.5"/><path d="M251.8 236.7A269.8 269.8 0 0 1 252.6 235.9"/><path d="M256.5 240.0L252.2 236.3"/><path d="M257.6 238.6L228.8 213.4"/><path d="M256.5 240.0A264.2 264.2 0 0 1 257.6 238.6"/><path d="M258.6 240.7L257.0 239.3"/><path d="M256.4 236.2L229.1 212.1"/><path d="M252.9 232.0L245.8 225.7"/><path d="M253.3 231.5L222.9 204.4"/><path d="M252.9 232.0A272.1 272.1 0 0 1 253.3 231.5"/><path d="M257.2 235.4L253.1 231.8"/><path d="M256.4 236.2A266.7 266.7 0 0 1 257.2 235.4"/><path d="M260.3 238.8L256.8 235.8"/><path d="M258.6 240.7A262.1 262.1 0 0 1 260.3 238.8"/><path d="M259.7 240.0L259.4 239.8"/><path d="M264.5 244.2L259.7 240.0"/><path d="M264.9 237.6L240.2 215.0"/><path d="M259.7 230.0L235.2 207.3"/><path d="M255.2 225.2L231.7 203.4"/><path d="M255.5 224.9L236.8 207.5"/><path d="M255.2 225.2A275.0 275.0 0 0 1 255.5 224.9"/><path d="M260.1 229.5L255.3 225.1"/><path d="M259.7 230.0A268.4 268.4 0 0 1 260.1 229.5"/><path d="M262.7 232.4L259.9 229.8"/><path d="M263.4 231.7L234.0 204.2"/><path d="M262.7 232.4A264.6 264.6 0 0 1 263.4 231.7"/><path d="M265.0 233.9L263.0 232.0"/><path d="M265.6 233.2L246.2 215.0"/><path d="M265.0 233.9A261.9 261.9 0 0 1 265.6 233.2"/><path d="M266.2 234.4L265.3 233.6"/><path d="M266.8 233.8L236.6 205.3"/><path d="M266.2 234.4A260.6 260.6 0 0 1 266.8 233.8"/><path d="M266.8 234.4L266.5 234.1"/><path d="M268.4 232.7L250.0 215.1"/><path d="M266.8 234.4A260.2 260.2 0 0 1 268.4 232.7"/><path d="M267.9 233.8L267.6 233.5"/><path d="M270.1 231.6L243.4 205.7"/><path d="M267.9 233.8A259.8 259.8 0 0 1 270.1 231.6"/><path d="M269.3 233.0L269.0 232.7"/><path d="M264.9 237.6A259.4 259.4 0 0 1 269.3 233.0"/><path d="M267.4 235.6L267.1 235.3"/><path d="M270.1 238.1L267.4 235.6"/><path d="M273.1 229.6L248.9 205.5"/><path d="M271.7 225.3L251.8 205.1"/><path d="M266.7 218.2L253.4 204.6"/><path d="M267.6 217.4L245.6 194.7"/><path d="M266.7 218.2A271.6 271.6 0 0 1 267.6 217.4"/><path d="M273.1 223.9L267.1 217.8"/><path d="M271.7 225.3A263.1 263.1 0 0 1 273.1 223.9"/><path d="M274.9 227.2L272.4 224.6"/><path d="M276.2 223.5L254.5 200.7"/><path d="M275.4 220.2L252.3 195.7"/><path d="M272.5 215.0L255.2 196.4"/><path d="M273.3 214.2L244.2 182.6"/><path d="M272.5 215.0A270.0 270.0 0 0 1 273.3 214.2"/><path d="M276.8 218.8L272.9 214.6"/><path d="M275.4 220.2A264.2 264.2 0 0 1 276.8 218.8"/><path d="M276.7 220.1L276.1 219.5"/><path d="M279.0 218.0L255.8 192.6"/><path d="M276.7 220.1A263.3 263.3 0 0 1 279.0 218.0"/><path d="M279.3 220.6L277.9 219.1"/><path d="M276.2 223.5A261.2 261.2 0 0 1 279.3 220.6"/><path d="M279.0 223.4L277.8 222.1"/><path d="M274.9 227.2A259.4 259.4 0 0 1 279.0 223.4"/><path d="M277.2 225.6L276.9 225.3"/><path d="M273.1 229.6A259.0 259.0 0 0 1 277.2 225.6"/><path d="M275.4 227.9L275.1 227.6"/><path d="M277.7 230.2L275.4 227.9"/><path d="M282.6 212.3L258.6 184.6"/><path d="M281.0 209.0L263.5 188.7"/><path d="M281.8 208.4L262.1 185.4"/><path d="M281.0 209.0A268.7 268.7 0 0 1 281.8 208.4"/><path d="M283.7 211.4L281.4 208.7"/><path d="M282.6 212.3A265.2 265.2 0 0 1 283.7 211.4"/><path d="M284.0 212.8L283.2 211.8"/><path d="M285.6 211.4L269.3 192.2"/><path d="M284.0 212.8A263.9 263.9 0 0 1 285.6 211.4"/><path d="M285.7 213.2L284.8 212.1"/><path d="M287.2 211.9L270.2 191.7"/><path d="M285.7 213.2A262.5 262.5 0 0 1 287.2 211.9"/><path d="M287.4 213.6L286.5 212.5"/><path d="M285.1 207.8L275.7 196.6"/><path d="M283.5 204.4L263.9 180.9"/><path d="M284.2 203.8L270.1 186.7"/><path d="M283.5 204.4A270.6 270.6 0 0 1 284.2 203.8"/><path d="M286.2 206.9L283.9 204.1"/><path d="M285.1 207.8A267.0 267.0 0 0 1 286.2 206.9"/><path d="M285.9 207.7L285.6 207.4"/><path d="M287.5 206.3L268.6 183.2"/><path d="M285.9 207.7A266.6 266.6 0 0 1 287.5 206.3"/><path d="M288.2 208.9L286.7 207.0"/><path d="M289.8 207.6L262.6 174.2"/><path d="M288.2 208.9A264.2 264.2 0 0 1 289.8 207.6"/><path d="M291.0 210.6L289.0 208.2"/><path d="M287.4 213.6A261.1 261.1 0 0 1 291.0 210.6"/><path d="M289.4 212.4L289.2 212.1"/><path d="M293.1 216.8L289.4 212.4"/><path d="M300.9 206.6L270.1 165.9"/><path d="M298.4 195.2L264.9 149.1"/><path d="M296.4 190.8L274.8 160.8"/><path d="M297.2 190.2L271.4 154.1"/><path d="M296.4 190.8A273.5 273.5 0 0 1 297.2 190.2"/><path d="M299.6 194.3L296.8 190.5"/><path d="M298.4 195.2A268.8 268.8 0 0 1 299.6 194.3"/><path d="M301.8 198.7L299.0 194.7"/><path d="M303.6 197.4L284.7 170.8"/><path d="M301.8 198.7A263.9 263.9 0 0 1 303.6 197.4"/><path d="M305.0 201.2L302.7 198.0"/><path d="M297.9 187.8L276.9 158.0"/><path d="M298.7 187.2L274.7 152.9"/><path d="M297.9 187.8A275.0 275.0 0 0 1 298.7 187.2"/><path d="M307.0 199.8L298.3 187.5"/><path d="M305.0 201.2A260.0 260.0 0 0 1 307.0 199.8"/><path d="M306.3 201.0L306.0 200.5"/><path d="M308.5 199.5L278.6 156.5"/><path d="M306.3 201.0A259.4 259.4 0 0 1 308.5 199.5"/><path d="M307.7 200.7L307.4 200.3"/><path d="M307.7 200.7A258.9 258.9 0 0 1 312.4 197.4"/><path d="M310.3 199.4L310.0 199.0"/><path d="M316.5 195.2L290.2 154.5"/><path d="M310.3 199.4A258.5 258.5 0 0 1 316.5 195.2"/><path d="M313.6 197.6L313.4 197.3"/><path d="M300.9 206.6A258.1 258.1 0 0 1 313.6 197.6"/><path d="M307.4 202.3L307.2 202.0"/><path d="M308.9 204.5L307.4 202.3"/><path d="M317.8 179.4L302.5 153.7"/><path d="M319.8 176.4L311.9 162.8"/><path d="M322.1 175.1L304.8 144.5"/><path d="M319.8 176.4A272.9 272.9 0 0 1 322.1 175.1"/><path d="M321.7 177.1L320.9 175.7"/><path d="M317.8 179.4A271.2 271.2 0 0 1 321.7 177.1"/><path d="M325.1 187.4L319.8 178.3"/><path d="M331.5 182.0L309.7 141.7"/><path d="M325.3 168.5L299.8 121.1"/><path d="M326.2 168.0L307.0 132.0"/><path d="M325.3 168.5A277.0 277.0 0 0 1 326.2 168.0"/><path d="M328.1 172.6L325.7 168.3"/><path d="M329.3 171.9L314.5 143.8"/><path d="M328.1 172.6A272.1 272.1 0 0 1 329.3 171.9"/><path d="M332.6 179.6L328.7 172.2"/><path d="M327.1 165.5L315.6 143.6"/><path d="M328.0 165.1L325.3 159.8"/><path d="M327.1 165.5A278.8 278.8 0 0 1 328.0 165.1"/><path d="M334.5 178.6L327.6 165.3"/><path d="M332.6 179.6A263.8 263.8 0 0 1 334.5 178.6"/><path d="M334.3 180.5L333.6 179.1"/><path d="M331.5 182.0A262.2 262.2 0 0 1 334.3 180.5"/><path d="M333.3 182.1L332.9 181.2"/><path d="M336.9 180.2L316.4 140.4"/><path d="M333.3 182.1A261.3 261.3 0 0 1 336.9 180.2"/><path d="M335.4 181.7L335.1 181.1"/><path d="M325.1 187.4A260.7 260.7 0 0 1 335.4 181.7"/><path d="M330.4 184.8L330.2 184.4"/><path d="M333.0 189.4L330.4 184.8"/><path d="M340.4 165.7L316.3 114.3"/><path d="M340.7 163.9L333.2 148.0"/><path d="M341.6 163.5L330.3 139.2"/><path d="M340.7 163.9A274.2 274.2 0 0 1 341.6 163.5"/><path d="M341.8 165.1L341.1 163.7"/><path d="M340.4 165.7A272.7 272.7 0 0 1 341.8 165.1"/><path d="M343.9 171.5L341.1 165.4"/><path d="M345.9 170.6L321.7 117.8"/><path d="M343.9 171.5A266.0 266.0 0 0 1 345.9 170.6"/><path d="M347.5 176.6L344.9 171.1"/><path d="M344.4 153.9L338.1 139.4"/><path d="M345.3 153.5L337.0 134.3"/><path d="M344.4 153.9A281.8 281.8 0 0 1 345.3 153.5"/><path d="M350.2 166.3L344.8 153.7"/><path d="M351.6 165.7L336.4 130.0"/><path d="M350.2 166.3A268.2 268.2 0 0 1 351.6 165.7"/><path d="M352.2 169.0L350.9 166.0"/><path d="M353.7 168.3L338.9 133.1"/><path d="M352.2 169.0A264.9 264.9 0 0 1 353.7 168.3"/><path d="M353.4 169.7L352.9 168.7"/><path d="M355.0 169.0L343.2 140.6"/><path d="M353.4 169.7A263.8 263.8 0 0 1 355.0 169.0"/><path d="M354.3 169.7L354.2 169.3"/><path d="M356.0 169.0L335.6 119.4"/><path d="M354.3 169.7A263.4 263.4 0 0 1 356.0 169.0"/><path d="M355.8 170.9L355.2 169.3"/><path d="M357.5 170.2L341.9 131.9"/><path d="M355.8 170.9A261.8 261.8 0 0 1 357.5 170.2"/><path d="M356.8 170.9L356.7 170.5"/><path d="M358.5 170.2L335.3 112.6"/><path d="M356.8 170.9A261.4 261.4 0 0 1 358.5 170.2"/><path d="M358.1 171.5L357.7 170.5"/><path d="M359.8 170.8L339.5 120.1"/><path d="M358.1 171.5A260.4 260.4 0 0 1 359.8 170.8"/><path d="M359.1 171.6L358.9 171.1"/><path d="M347.5 176.6A259.9 259.9 0 0 1 359.1 171.6"/><path d="M353.4 174.4L353.3 174.0"/><path d="M355.2 178.5L353.4 174.4"/><path d="M367.4 164.5L346.0 104.7"/><path d="M370.2 160.7L355.9 119.0"/><path d="M371.1 152.1L361.0 121.2"/><path d="M373.7 151.3L361.7 113.7"/><path d="M371.1 152.1A274.0 274.0 0 0 1 373.7 151.3"/><path d="M374.5 158.2L372.4 151.7"/><path d="M378.7 156.8L367.7 120.5"/><path d="M374.5 158.2A267.2 267.2 0 0 1 378.7 156.8"/><path d="M376.9 158.5L376.6 157.5"/><path d="M370.2 160.7A266.2 266.2 0 0 1 376.9 158.5"/><path d="M374.4 162.1L373.6 159.6"/><path d="M367.4 164.5A263.5 263.5 0 0 1 374.4 162.1"/><path d="M371.1 163.8L370.9 163.3"/><path d="M383.9 159.8L370.8 114.2"/><path d="M371.1 163.8A262.9 262.9 0 0 1 383.9 159.8"/><path d="M377.6 162.1L377.5 161.7"/><path d="M379.3 167.4L377.6 162.1"/><path d="M387.0 139.5L369.3 70.4"/><path d="M389.2 139.0L374.7 80.0"/><path d="M387.0 139.5A281.7 281.7 0 0 1 389.2 139.0"/><path d="M393.1 159.2L388.1 139.3"/><path d="M394.1 136.9L384.0 92.4"/><path d="M394.9 136.7L383.2 84.3"/><path d="M394.1 136.9A282.6 282.6 0 0 1 394.9 136.7"/><path d="M396.6 145.9L394.5 136.8"/><path d="M397.8 145.6L390.0 110.4"/><path d="M396.6 145.9A273.3 273.3 0 0 1 397.8 145.6"/><path d="M399.6 156.8L397.2 145.8"/><path d="M400.0 151.8L388.4 98.4"/><path d="M399.0 143.4L391.0 105.9"/><path d="M399.1 140.0L391.6 104.1"/><path d="M400.0 139.8L395.4 117.7"/><path d="M399.1 140.0A278.5 278.5 0 0 1 400.0 139.8"/><path d="M400.2 143.1L399.5 139.9"/><path d="M399.0 143.4A275.2 275.2 0 0 1 400.2 143.1"/><path d="M401.3 151.5L399.6 143.2"/><path d="M400.0 151.8A266.8 266.8 0 0 1 401.3 151.5"/><path d="M401.7 156.4L400.7 151.6"/><path d="M399.6 156.8A262.0 262.0 0 0 1 401.7 156.4"/><path d="M400.7 157.0L400.6 156.6"/><path d="M398.0 157.6A261.6 261.6 0 0 1 400.7 157.0"/><path d="M399.4 157.7L399.3 157.3"/><path d="M393.1 159.2A261.2 261.2 0 0 1 399.4 157.7"/><path d="M396.3 158.8L396.2 158.4"/><path d="M396.9 161.2L396.3 158.8"/><path d="M407.1 140.9L396.5 82.5"/><path d="M409.4 140.5L399.6 83.9"/><path d="M407.1 140.9A276.1 276.1 0 0 1 409.4 140.5"/><path d="M410.3 152.2L408.3 140.7"/><path d="M412.6 140.9L405.4 95.9"/><path d="M414.9 140.6L410.2 110.2"/><path d="M412.6 140.9A275.1 275.1 0 0 1 414.9 140.6"/><path d="M415.4 151.3L413.7 140.8"/><path d="M410.3 152.2A264.4 264.4 0 0 1 415.4 151.3"/><path d="M412.9 152.3L412.8 151.7"/><path d="M413.9 157.7L412.9 152.3"/><path d="M421.9 150.7L410.1 61.6"/><path d="M421.1 141.6L416.1 103.8"/><path d="M421.1 138.5L413.9 82.6"/><path d="M420.3 128.5L415.0 87.2"/><path d="M420.7 128.5L419.0 114.5"/><path d="M420.3 128.5A286.3 286.3 0 0 1 420.7 128.5"/><path d="M421.8 138.4L420.5 128.5"/><path d="M421.1 138.5A276.3 276.3 0 0 1 421.8 138.4"/><path d="M421.5 138.8L421.4 138.4"/><path d="M422.5 138.7L415.9 86.1"/><path d="M421.5 138.8A275.9 275.9 0 0 1 422.5 138.7"/><path d="M422.3 141.5L422.0 138.8"/><path d="M421.1 141.6A273.2 273.2 0 0 1 422.3 141.5"/><path d="M422.2 145.3L421.7 141.6"/><path d="M423.7 145.1L417.4 93.5"/><path d="M422.2 145.3A269.4 269.4 0 0 1 423.7 145.1"/><path d="M423.4 148.9L422.9 145.2"/><path d="M422.8 134.6L418.9 102.2"/><path d="M423.3 134.5L420.1 107.9"/><path d="M422.8 134.6A279.9 279.9 0 0 1 423.3 134.5"/><path d="M424.8 148.7L423.1 134.6"/><path d="M423.4 148.9A265.7 265.7 0 0 1 424.8 148.7"/><path d="M424.2 150.0L424.1 148.8"/><path d="M422.6 124.7L419.1 95.4"/><path d="M423.0 124.6L419.8 96.6"/><path d="M422.6 124.7A289.8 289.8 0 0 1 423.0 124.6"/><path d="M424.4 138.0L422.8 124.7"/><path d="M425.0 137.9L420.8 100.9"/><path d="M424.4 138.0A276.4 276.4 0 0 1 425.0 137.9"/><path d="M426.0 149.7L424.7 138.0"/><path d="M424.2 150.0A264.5 264.5 0 0 1 426.0 149.7"/><path d="M425.2 150.3L425.1 149.9"/><path d="M421.9 150.7A264.1 264.1 0 0 1 425.2 150.3"/><path d="M423.6 151.2L423.5 150.5"/><path d="M426.3 145.3L421.1 99.2"/><path d="M426.5 143.3L421.8 101.1"/><path d="M426.9 142.8L423.6 113.0"/><path d="M426.6 136.1L423.8 110.4"/><path d="M426.6 132.8L424.5 112.3"/><path d="M427.1 132.8L424.2 105.3"/><path d="M426.6 132.8A281.3 281.3 0 0 1 427.1 132.8"/><path d="M427.2 136.1L426.9 132.8"/><path d="M426.6 136.1A278.0 278.0 0 0 1 427.2 136.1"/><path d="M427.6 142.7L426.9 136.1"/><path d="M426.9 142.8A271.3 271.3 0 0 1 427.6 142.7"/><path d="M427.3 143.2L427.2 142.8"/><path d="M426.5 143.3A270.9 270.9 0 0 1 427.3 143.2"/><path d="M427.1 145.2L426.9 143.2"/><path d="M426.3 145.3A268.9 268.9 0 0 1 427.1 145.2"/><path d="M426.9 147.1L426.7 145.2"/><path d="M429.0 146.8L424.3 101.6"/><path d="M426.9 147.1A267.1 267.1 0 0 1 429.0 146.8"/><path d="M428.3 150.6L427.9 146.9"/><path d="M423.6 151.2A263.4 263.4 0 0 1 428.3 150.6"/><path d="M426.0 151.3L426.0 150.9"/><path d="M432.0 150.7L427.1 98.5"/><path d="M426.0 151.3A263.0 263.0 0 0 1 432.0 150.7"/><path d="M429.0 151.4L429.0 151.0"/><path d="M429.5 155.6L429.0 151.4"/><path d="M436.2 150.2L432.3 99.6"/><path d="M438.8 149.6L437.1 124.1"/><path d="M440.8 136.7L439.4 112.7"/><path d="M441.8 125.1L440.5 98.8"/><path d="M443.0 125.0L441.0 81.9"/><path d="M441.8 125.1A287.8 287.8 0 0 1 443.0 125.0"/><path d="M443.0 135.8L442.4 125.1"/><path d="M445.0 135.7L443.4 98.6"/><path d="M443.0 135.8A277.0 277.0 0 0 1 445.0 135.7"/><path d="M444.0 136.6L444.0 135.8"/><path d="M440.8 136.7A276.2 276.2 0 0 1 444.0 136.6"/><path d="M443.0 148.1L442.4 136.7"/><path d="M447.9 145.9L446.6 105.6"/><path d="M448.3 145.5L447.1 105.3"/><path d="M448.7 142.1L447.3 95.7"/><path d="M448.8 130.0L448.0 103.8"/><path d="M449.2 130.0L448.8 115.2"/><path d="M448.8 130.0A282.6 282.6 0 0 1 449.2 130.0"/><path d="M449.1 132.6L449.0 130.0"/><path d="M449.7 132.6L449.0 102.6"/><path d="M449.1 132.6A280.0 280.0 0 0 1 449.7 132.6"/><path d="M449.6 141.2L449.4 132.6"/><path d="M450.4 141.2L449.7 111.5"/><path d="M449.6 141.2A271.4 271.4 0 0 1 450.4 141.2"/><path d="M450.0 142.1L450.0 141.2"/><path d="M448.7 142.1A270.5 270.5 0 0 1 450.0 142.1"/><path d="M449.3 142.6L449.3 142.1"/><path d="M450.8 142.6L449.7 90.7"/><path d="M449.3 142.6A269.9 269.9 0 0 1 450.8 142.6"/><path d="M450.1 143.0L450.1 142.6"/><path d="M451.2 143.0L450.6 108.3"/><path d="M450.1 143.0A269.5 269.5 0 0 1 451.2 143.0"/><path d="M450.7 145.0L450.7 143.0"/><path d="M451.7 145.0L451.0 106.8"/><path d="M450.7 145.0A267.5 267.5 0 0 1 451.7 145.0"/><path d="M451.2 145.4L451.2 145.0"/><path d="M448.3 145.5A267.1 267.1 0 0 1 451.2 145.4"/><path d="M449.8 145.8L449.8 145.4"/><path d="M447.9 145.9A266.7 266.7 0 0 1 449.8 145.8"/><path d="M448.9 146.3L448.9 145.9"/><path d="M452.1 146.2L451.6 110.5"/><path d="M448.9 146.3A266.3 266.3 0 0 1 452.1 146.2"/><path d="M450.5 146.6L450.5 146.2"/><path d="M452.6 146.6L452.1 115.3"/><path d="M450.5 146.6A265.9 265.9 0 0 1 452.6 146.6"/><path d="M451.6 147.0L451.5 146.6"/><path d="M453.0 147.0L452.5 106.0"/><path d="M451.6 147.0A265.5 265.5 0 0 1 453.0 147.0"/><path d="M452.3 147.4L452.3 147.0"/><path d="M453.4 147.4L453.0 108.3"/><path d="M452.3 147.4A265.1 265.1 0 0 1 453.4 147.4"/><path d="M452.9 147.8L452.8 147.4"/><path d="M443.0 148.1A264.7 264.7 0 0 1 452.9 147.8"/><path d="M447.9 148.3L447.9 147.9"/><path d="M456.0 148.2L455.9 101.8"/><path d="M447.9 148.3A264.3 264.3 0 0 1 456.0 148.2"/><path d="M451.9 148.6L451.9 148.2"/><path d="M458.7 132.6L459.0 96.1"/><path d="M459.9 132.6L460.2 114.2"/><path d="M458.7 132.6A279.9 279.9 0 0 1 459.9 132.6"/><path d="M459.3 133.0L459.3 132.6"/><path d="M461.4 133.0L462.2 86.9"/><path d="M459.3 133.0A279.5 279.5 0 0 1 461.4 133.0"/><path d="M460.3 140.2L460.4 133.0"/><path d="M462.9 140.2L463.6 107.0"/><path d="M460.3 140.2A272.4 272.4 0 0 1 462.9 140.2"/><path d="M461.4 148.6L461.6 140.2"/><path d="M451.9 148.6A263.9 263.9 0 0 1 461.4 148.6"/><path d="M456.7 149.0L456.7 148.6"/><path d="M438.8 149.6A263.5 263.5 0 0 1 456.7 149.0"/><path d="M447.8 149.5L447.7 149.1"/><path d="M436.2 150.2A263.1 263.1 0 0 1 447.8 149.5"/><path d="M442.0 150.2L442.0 149.8"/><path d="M442.2 154.6L442.0 150.2"/><path d="M468.0 122.4L469.6 80.2"/><path d="M468.4 122.5L469.5 95.3"/><path d="M468.0 122.4A290.3 290.3 0 0 1 468.4 122.5"/><path d="M467.6 136.8L468.2 122.4"/><path d="M468.3 136.8L470.7 80.1"/><path d="M467.6 136.8A275.9 275.9 0 0 1 468.3 136.8"/><path d="M467.8 140.1L467.9 136.8"/><path d="M468.6 140.2L470.8 88.9"/><path d="M467.8 140.1A272.6 272.6 0 0 1 468.6 140.2"/><path d="M467.9 147.0L468.2 140.1"/><path d="M469.7 124.6L471.6 82.5"/><path d="M470.2 124.6L471.6 94.0"/><path d="M469.7 124.6A288.2 288.2 0 0 1 470.2 124.6"/><path d="M468.9 147.0L469.9 124.6"/><path d="M467.9 147.0A265.8 265.8 0 0 1 468.9 147.0"/><path d="M468.2 150.1L468.4 147.0"/><path d="M469.4 150.2L472.6 83.9"/><path d="M468.2 150.1A262.6 262.6 0 0 1 469.4 150.2"/><path d="M468.8 150.6L468.8 150.2"/><path d="M469.7 150.7L473.1 85.2"/><path d="M468.8 150.6A262.1 262.1 0 0 1 469.7 150.7"/><path d="M469.2 151.1L469.3 150.7"/><path d="M470.1 151.1L473.5 87.1"/><path d="M469.2 151.1A261.7 261.7 0 0 1 470.1 151.1"/><path d="M469.7 151.5L469.7 151.1"/><path d="M470.5 151.5L473.0 105.0"/><path d="M469.7 151.5A261.3 261.3 0 0 1 470.5 151.5"/><path d="M470.1 151.9L470.1 151.5"/><path d="M472.7 152.1L476.2 94.8"/><path d="M470.1 151.9A260.9 260.9 0 0 1 472.7 152.1"/><path d="M471.4 152.4L471.4 152.0"/><path d="M474.9 152.6L478.8 96.6"/><path d="M471.4 152.4A260.5 260.5 0 0 1 474.9 152.6"/><path d="M473.1 152.9L473.1 152.5"/><path d="M477.1 153.2L481.9 91.9"/><path d="M473.1 152.9A260.1 260.1 0 0 1 477.1 153.2"/><path d="M475.0 153.4L475.1 153.0"/><path d="M474.9 154.9L475.0 153.4"/><path d="M481.7 153.2L486.3 105.6"/><path d="M486.0 141.5L489.8 106.8"/><path d="M490.6 136.2L496.8 86.0"/><path d="M492.1 136.3L496.6 101.5"/><path d="M490.6 136.2A278.4 278.4 0 0 1 492.1 136.3"/><path d="M491.2 137.6L491.3 136.3"/><path d="M488.6 137.3A277.1 277.1 0 0 1 491.2 137.6"/><path d="M489.3 141.9L489.9 137.5"/><path d="M486.0 141.5A272.6 272.6 0 0 1 489.3 141.9"/><path d="M486.3 153.3L487.7 141.7"/><path d="M496.8 126.0L500.3 101.1"/><path d="M498.3 126.2L501.8 102.2"/><path d="M496.8 126.0A289.3 289.3 0 0 1 498.3 126.2"/><path d="M493.9 151.8L497.5 126.1"/><path d="M497.6 148.3L505.6 96.7"/><path d="M503.3 127.5L507.5 101.8"/><path d="M503.8 127.6L506.9 109.0"/><path d="M503.3 127.5A288.8 288.8 0 0 1 503.8 127.6"/><path d="M500.9 143.4L503.6 127.5"/><path d="M501.8 143.5L508.5 103.5"/><path d="M500.9 143.4A272.8 272.8 0 0 1 501.8 143.5"/><path d="M500.5 148.4L501.4 143.4"/><path d="M501.5 148.6L508.7 105.8"/><path d="M500.5 148.4A267.8 267.8 0 0 1 501.5 148.6"/><path d="M500.9 148.9L501.0 148.5"/><path d="M497.6 148.3A267.4 267.4 0 0 1 500.9 148.9"/><path d="M498.6 152.5L499.3 148.6"/><path d="M493.9 151.8A263.4 263.4 0 0 1 498.6 152.5"/><path d="M496.0 153.5L496.3 152.1"/><path d="M503.0 154.7L510.5 113.3"/><path d="M496.0 153.5A262.0 262.0 0 0 1 503.0 154.7"/><path d="M499.5 154.5L499.5 154.1"/><path d="M508.9 138.4L518.2 89.3"/><path d="M510.4 138.7L516.6 106.9"/><path d="M508.9 138.4A279.1 279.1 0 0 1 510.4 138.7"/><path d="M506.3 155.7L509.6 138.5"/><path d="M499.5 154.5A261.6 261.6 0 0 1 506.3 155.7"/><path d="M502.8 155.7L502.9 155.1"/><path d="M486.3 153.3A260.9 260.9 0 0 1 502.8 155.7"/><path d="M494.5 154.8L494.6 154.4"/><path d="M481.7 153.2A260.5 260.5 0 0 1 494.5 154.8"/><path d="M488.1 154.3L488.1 153.9"/><path d="M487.8 156.1L488.1 154.3"/><path d="M511.6 158.1L520.0 119.5"/><path d="M519.8 136.7L526.8 105.9"/><path d="M521.3 137.0L526.8 113.4"/><path d="M519.8 136.7A283.0 283.0 0 0 1 521.3 137.0"/><path d="M515.5 158.6L520.5 136.9"/><path d="M519.5 158.3L530.1 115.8"/><path d="M522.3 158.4L533.4 115.4"/><path d="M527.1 150.6L533.7 126.1"/><path d="M531.3 137.5L538.0 112.8"/><path d="M531.8 137.7L537.9 115.3"/><path d="M531.3 137.5A285.0 285.0 0 0 1 531.8 137.7"/><path d="M528.1 150.1L531.5 137.6"/><path d="M528.9 150.3L534.0 132.0"/><path d="M528.1 150.1A272.0 272.0 0 0 1 528.9 150.3"/><path d="M528.3 151.0L528.5 150.2"/><path d="M527.1 150.6A271.2 271.2 0 0 1 528.3 151.0"/><path d="M527.6 151.2L527.7 150.8"/><path d="M529.1 151.6L539.4 114.8"/><path d="M527.6 151.2A270.8 270.8 0 0 1 529.1 151.6"/><path d="M527.8 153.6L528.4 151.4"/><path d="M530.8 154.5L543.4 110.5"/><path d="M527.8 153.6A268.5 268.5 0 0 1 530.8 154.5"/><path d="M528.3 157.4L529.3 154.0"/><path d="M532.2 158.6L547.0 108.9"/><path d="M528.3 157.4A265.0 265.0 0 0 1 532.2 158.6"/><path d="M529.7 160.0L530.2 158.0"/><path d="M534.0 161.3L553.5 98.1"/><path d="M529.7 160.0A262.9 262.9 0 0 1 534.0 161.3"/><path d="M531.7 161.0L531.9 160.6"/><path d="M522.3 158.4A262.5 262.5 0 0 1 531.7 161.0"/><path d="M526.9 160.3L527.0 159.6"/><path d="M519.5 158.3A261.9 261.9 0 0 1 526.9 160.3"/><path d="M523.1 159.7L523.2 159.3"/><path d="M544.7 137.5L551.2 117.0"/><path d="M546.2 138.0L555.2 110.3"/><path d="M544.7 137.5A288.8 288.8 0 0 1 546.2 138.0"/><path d="M537.0 163.7L545.4 137.7"/><path d="M523.1 159.7A261.5 261.5 0 0 1 537.0 163.7"/><path d="M530.0 162.0L530.1 161.6"/><path d="M544.0 154.7L559.3 109.8"/><path d="M550.1 142.8L563.8 103.4"/><path d="M551.6 143.3L560.1 119.2"/><path d="M550.1 142.8A285.5 285.5 0 0 1 551.6 143.3"/><path d="M546.5 155.5L550.9 143.0"/><path d="M544.0 154.7A272.3 272.3 0 0 1 546.5 155.5"/><path d="M541.6 165.7L545.3 155.1"/><path d="M530.0 162.0A261.1 261.1 0 0 1 541.6 165.7"/><path d="M535.7 164.1L535.8 163.8"/><path d="M515.5 158.6A260.7 260.7 0 0 1 535.7 164.1"/><path d="M525.5 161.6L525.6 161.2"/><path d="M511.6 158.1A260.3 260.3 0 0 1 525.5 161.6"/><path d="M518.5 160.1L518.6 159.7"/><path d="M518.1 161.7L518.5 160.1"/><path d="M548.8 164.8L565.0 121.3"/><path d="M551.4 163.0L574.6 102.0"/><path d="M554.1 160.5L564.1 134.7"/><path d="M557.7 155.3L569.4 125.7"/><path d="M558.8 155.8L569.3 129.5"/><path d="M557.7 155.3A276.4 276.4 0 0 1 558.8 155.8"/><path d="M556.0 161.3L558.3 155.6"/><path d="M554.1 160.5A270.2 270.2 0 0 1 556.0 161.3"/><path d="M553.8 164.0L555.1 160.9"/><path d="M551.4 163.0A266.9 266.9 0 0 1 553.8 164.0"/><path d="M551.7 165.9L552.6 163.5"/><path d="M548.8 164.8A264.3 264.3 0 0 1 551.7 165.9"/><path d="M549.5 167.4L550.3 165.3"/><path d="M557.9 163.8L576.5 118.3"/><path d="M563.4 154.4L591.5 86.3"/><path d="M563.4 154.4A279.4 279.4 0 0 1 564.5 154.8"/><path d="M559.8 164.6L563.9 154.6"/><path d="M557.9 163.8A268.6 268.6 0 0 1 559.8 164.6"/><path d="M556.4 170.2L558.8 164.2"/><path d="M549.5 167.4A262.1 262.1 0 0 1 556.4 170.2"/><path d="M552.8 169.1L552.9 168.8"/><path d="M551.5 172.3L552.8 169.1"/><path d="M559.1 177.9L578.8 132.9"/><path d="M559.8 177.5L577.8 136.4"/><path d="M561.5 174.5L589.5 111.2"/><path d="M567.9 161.2L575.4 144.4"/><path d="M568.3 161.4L577.9 140.0"/><path d="M567.9 161.2A274.9 274.9 0 0 1 568.3 161.4"/><path d="M563.0 172.7L568.1 161.3"/><path d="M563.6 173.0L584.0 127.5"/><path d="M563.0 172.7A262.4 262.4 0 0 1 563.6 173.0"/><path d="M562.4 174.9L563.3 172.9"/><path d="M561.5 174.5A260.1 260.1 0 0 1 562.4 174.9"/><path d="M560.6 177.8L562.0 174.7"/><path d="M559.8 177.5A256.7 256.7 0 0 1 560.6 177.8"/><path d="M559.9 178.3L560.2 177.7"/><path d="M559.1 177.9A256.1 256.1 0 0 1 559.9 178.3"/><path d="M559.3 178.6L559.5 178.1"/><path d="M561.2 179.5L600.3 92.3"/><path d="M559.3 178.6A255.5 255.5 0 0 1 561.2 179.5"/><path d="M560.1 179.4L560.2 179.1"/><path d="M561.4 176.5L560.1 179.4"/><path d="M565.0 180.7L604.5 96.2"/><path d="M566.3 178.9L593.4 121.2"/><path d="M571.1 169.7L589.7 130.3"/><path d="M573.9 164.8L587.4 136.4"/><path d="M574.3 165.0L594.5 122.4"/><path d="M573.9 164.8A274.1 274.1 0 0 1 574.3 165.0"/><path d="M571.7 170.0L574.1 164.9"/><path d="M571.1 169.7A268.5 268.5 0 0 1 571.7 170.0"/><path d="M570.0 172.7L571.4 169.8"/><path d="M570.0 172.7A265.3 265.3 0 0 1 570.9 173.1"/><path d="M567.5 179.1L570.5 172.9"/><path d="M576.3 162.9L596.5 120.7"/><path d="M576.7 163.0L599.7 115.3"/><path d="M576.3 162.9A276.9 276.9 0 0 1 576.7 163.0"/><path d="M568.5 179.6L576.5 162.9"/><path d="M567.5 179.1A258.5 258.5 0 0 1 568.5 179.6"/><path d="M567.8 179.7L568.0 179.3"/><path d="M566.3 178.9A258.1 258.1 0 0 1 567.8 179.7"/><path d="M566.2 181.2L567.1 179.3"/><path d="M565.0 180.7A256.0 256.0 0 0 1 566.2 181.2"/><path d="M565.4 181.3L565.6 180.9"/><path d="M582.7 151.8L597.5 121.1"/><path d="M583.1 152.0L588.7 140.3"/><path d="M582.7 151.8A289.6 289.6 0 0 1 583.1 152.0"/><path d="M568.0 182.5L582.9 151.9"/><path d="M565.4 181.3A255.6 255.6 0 0 1 568.0 182.5"/><path d="M566.5 182.3L566.7 181.9"/><path d="M568.4 183.2L611.7 94.4"/><path d="M566.5 182.3A255.2 255.2 0 0 1 568.4 183.2"/><path d="M567.3 183.1L567.5 182.7"/><path d="M568.8 179.9L567.3 183.1"/><path d="M573.5 181.8L598.7 132.1"/><path d="M575.6 182.4L597.2 140.7"/><path d="M578.8 180.7L609.2 122.9"/><path d="M587.1 172.4L598.8 150.9"/><path d="M589.9 168.2L611.9 127.9"/><path d="M590.3 168.4L610.2 132.0"/><path d="M589.9 168.2A278.3 278.3 0 0 1 590.3 168.4"/><path d="M587.7 172.7L590.1 168.3"/><path d="M587.1 172.4A273.3 273.3 0 0 1 587.7 172.7"/><path d="M582.8 181.0L587.4 172.5"/><path d="M581.1 180.1A263.7 263.7 0 0 1 582.8 181.0"/><path d="M581.1 181.9L581.9 180.5"/><path d="M578.8 180.7A262.1 262.1 0 0 1 581.1 181.9"/><path d="M579.1 182.9L580.0 181.3"/><path d="M583.2 185.2L619.1 120.7"/><path d="M579.1 182.9A260.2 260.2 0 0 1 583.2 185.2"/><path d="M580.8 184.7L581.1 184.0"/><path d="M584.5 186.8L606.6 147.9"/><path d="M580.8 184.7A259.5 259.5 0 0 1 584.5 186.8"/><path d="M582.4 186.1L582.6 185.8"/><path d="M575.6 182.4A259.1 259.1 0 0 1 582.4 186.1"/><path d="M578.8 184.6L579.0 184.2"/><path d="M573.5 181.8A258.7 258.7 0 0 1 578.8 184.6"/><path d="M576.0 183.5L576.2 183.2"/><path d="M575.4 184.7L576.0 183.5"/><path d="M592.3 184.0L598.5 173.6"/><path d="M595.2 181.5L618.6 142.7"/><path d="M595.2 181.5A269.4 269.4 0 0 1 596.1 182.1"/><path d="M593.8 184.9L595.7 181.8"/><path d="M592.3 184.0A265.8 265.8 0 0 1 593.8 184.9"/><path d="M591.6 186.9L593.1 184.4"/><path d="M589.6 185.7A263.0 263.0 0 0 1 591.6 186.9"/><path d="M590.0 187.4L590.6 186.3"/><path d="M593.4 189.5L632.3 126.2"/><path d="M590.0 187.4A261.7 261.7 0 0 1 593.4 189.5"/><path d="M591.5 188.8L591.7 188.4"/><path d="M585.3 199.0L591.5 188.8"/><path d="M594.0 195.6L622.9 150.1"/><path d="M600.1 190.8L626.8 149.6"/><path d="M606.5 182.5L621.9 158.7"/><path d="M606.8 182.7L619.9 162.7"/><path d="M606.5 182.5A274.6 274.6 0 0 1 606.8 182.7"/><path d="M603.2 187.9L606.6 182.6"/><path d="M602.7 187.6A268.3 268.3 0 0 1 603.2 187.9"/><path d="M600.9 190.8L602.9 187.7"/><path d="M601.6 191.3L622.9 158.9"/><path d="M600.9 190.8A264.6 264.6 0 0 1 601.6 191.3"/><path d="M601.0 191.4L601.3 191.1"/><path d="M600.1 190.8A264.2 264.2 0 0 1 601.0 191.4"/><path d="M598.5 194.3L600.6 191.1"/><path d="M609.6 179.8L624.5 157.2"/><path d="M609.6 179.8A278.6 278.6 0 0 1 610.0 180.0"/><path d="M599.8 195.1L609.8 179.9"/><path d="M598.5 194.3A260.4 260.4 0 0 1 599.8 195.1"/><path d="M597.9 196.7L599.2 194.7"/><path d="M608.4 183.1L623.1 160.9"/><path d="M608.7 183.3L629.8 151.7"/><path d="M608.4 183.1A275.1 275.1 0 0 1 608.7 183.3"/><path d="M599.1 197.5L608.6 183.2"/><path d="M597.9 196.7A258.0 258.0 0 0 1 599.1 197.5"/><path d="M598.3 197.4L598.5 197.1"/><path d="M602.5 193.4L631.3 150.1"/><path d="M604.4 191.2L620.8 166.7"/><path d="M613.8 177.8L631.1 152.1"/><path d="M614.2 178.1L623.6 164.1"/><path d="M613.8 177.8A282.5 282.5 0 0 1 614.2 178.1"/><path d="M605.1 191.2L614.0 178.0"/><path d="M605.1 191.2A266.6 266.6 0 0 1 605.6 191.5"/><path d="M605.1 191.7L605.4 191.3"/><path d="M604.4 191.2A266.1 266.1 0 0 1 605.1 191.7"/><path d="M604.0 192.5L604.7 191.5"/><path d="M604.0 192.5A264.8 264.8 0 0 1 604.9 193.2"/><path d="M603.6 194.1L604.5 192.9"/><path d="M602.5 193.4A263.3 263.3 0 0 1 603.6 194.1"/><path d="M599.9 198.5L603.1 193.7"/><path d="M598.3 197.4A257.6 257.6 0 0 1 599.9 198.5"/><path d="M598.8 198.3L599.1 198.0"/><path d="M596.0 196.5A257.2 257.2 0 0 1 598.8 198.3"/><path d="M597.2 197.7L597.5 197.4"/><path d="M594.0 195.6A256.8 256.8 0 0 1 597.2 197.7"/><path d="M595.4 197.0L595.6 196.7"/><path d="M592.3 201.8L595.4 197.0"/><path d="M605.9 198.4L637.2 153.5"/><path d="M608.4 198.2L629.9 167.9"/><path d="M609.5 197.3L622.2 179.5"/><path d="M610.3 196.9L641.1 153.7"/><path d="M618.4 186.8L627.3 174.5"/><path d="M618.1 186.6A277.8 277.8 0 0 1 618.4 186.8"/><path d="M614.6 191.8L618.3 186.7"/><path d="M610.3 196.9A264.8 264.8 0 0 1 611.0 197.4"/><path d="M610.1 197.8L610.6 197.1"/><path d="M609.5 197.3A264.0 264.0 0 0 1 610.1 197.8"/><path d="M609.0 198.7L609.8 197.6"/><path d="M608.4 198.2A262.7 262.7 0 0 1 609.0 198.7"/><path d="M608.5 198.8L608.7 198.4"/><path d="M610.0 199.8L635.0 165.2"/><path d="M608.5 198.8A262.3 262.3 0 0 1 610.0 199.8"/><path d="M609.0 199.6L609.2 199.3"/><path d="M610.1 200.4L627.6 176.2"/><path d="M609.0 199.6A261.9 261.9 0 0 1 610.1 200.4"/><path d="M609.3 200.3L609.5 200.0"/><path d="M610.1 200.9L633.2 169.2"/><path d="M609.3 200.3A261.5 261.5 0 0 1 610.1 200.9"/><path d="M609.5 200.9L609.7 200.6"/><path d="M605.9 198.4A261.1 261.1 0 0 1 609.5 200.9"/><path d="M607.5 200.0L607.7 199.7"/><path d="M601.7 208.1L607.5 200.0"/><path d="M619.4 196.6L640.3 168.9"/><path d="M618.6 196.0A270.5 270.5 0 0 1 619.4 196.6"/><path d="M612.4 205.0L619.0 196.3"/><path d="M612.4 205.0A259.6 259.6 0 0 1 613.8 206.0"/><path d="M612.2 206.8L613.1 205.5"/><path d="M614.0 208.1L639.0 175.7"/><path d="M612.2 206.8A258.0 258.0 0 0 1 614.0 208.1"/><path d="M612.7 207.9L613.1 207.5"/><path d="M608.6 213.2L612.7 207.9"/><path d="M618.0 209.0L646.8 172.7"/><path d="M631.8 195.4L639.7 185.6"/><path d="M632.6 196.0L644.5 181.4"/><path d="M631.8 195.4A279.1 279.1 0 0 1 632.6 196.0"/><path d="M623.6 206.3L632.2 195.7"/><path d="M627.6 204.7L648.2 179.7"/><path d="M633.6 199.5L648.8 181.2"/><path d="M634.4 200.2L654.0 176.9"/><path d="M633.6 199.5A277.0 277.0 0 0 1 634.4 200.2"/><path d="M629.0 205.8L634.0 199.8"/><path d="M627.6 204.7A269.2 269.2 0 0 1 629.0 205.8"/><path d="M625.9 208.2L628.3 205.3"/><path d="M623.6 206.3A265.4 265.4 0 0 1 625.9 208.2"/><path d="M622.9 209.5L624.8 207.3"/><path d="M638.2 198.5L650.2 184.4"/><path d="M639.0 199.2L667.8 165.7"/><path d="M638.2 198.5A280.7 280.7 0 0 1 639.0 199.2"/><path d="M626.8 212.8L638.6 198.9"/><path d="M622.9 209.5A262.5 262.5 0 0 1 626.8 212.8"/><path d="M624.6 211.4L624.9 211.1"/><path d="M628.3 214.6L655.5 183.2"/><path d="M624.6 211.4A262.1 262.1 0 0 1 628.3 214.6"/><path d="M626.0 213.5L626.4 213.0"/><path d="M629.2 216.3L677.8 161.0"/><path d="M626.0 213.5A261.3 261.3 0 0 1 629.2 216.3"/><path d="M627.1 215.5L627.6 214.9"/><path d="M640.6 206.5L660.6 184.1"/><path d="M641.4 207.3L660.6 185.9"/><path d="M640.6 206.5A276.2 276.2 0 0 1 641.4 207.3"/><path d="M630.6 218.5L641.0 206.9"/><path d="M627.1 215.5A260.6 260.6 0 0 1 630.6 218.5"/><path d="M628.6 217.3L628.8 217.0"/><path d="M637.6 214.7L671.1 178.1"/><path d="M643.1 210.8L658.0 194.8"/><path d="M643.9 211.5L676.5 176.6"/><path d="M643.1 210.8A274.8 274.8 0 0 1 643.9 211.5"/><path d="M639.3 215.7L643.5 211.2"/><path d="M640.6 216.9L663.2 193.0"/><path d="M639.3 215.7A268.6 268.6 0 0 1 640.6 216.9"/><path d="M639.7 216.6L640.0 216.3"/><path d="M637.6 214.7A268.2 268.2 0 0 1 639.7 216.6"/><path d="M633.2 221.5L638.7 215.6"/><path d="M628.6 217.3A260.2 260.2 0 0 1 633.2 221.5"/><path d="M630.7 219.7L630.9 219.4"/><path d="M618.0 209.0A259.8 259.8 0 0 1 630.7 219.7"/><path d="M624.2 214.5L624.4 214.2"/><path d="M635.9 225.1L658.9 201.1"/><path d="M624.2 214.5A259.4 259.4 0 0 1 635.9 225.1"/><path d="M629.9 220.0L630.1 219.7"/><path d="M624.3 226.2L629.9 220.0"/><path d="M638.8 227.5L680.2 185.6"/><path d="M632.5 234.0L638.8 227.5"/><path d="M639.9 232.8L674.9 198.5"/><path d="M646.7 227.0L665.4 208.7"/><path d="M647.1 227.4L663.9 211.2"/><path d="M646.7 227.0A265.7 265.7 0 0 1 647.1 227.4"/><path d="M640.5 233.5L646.9 227.2"/><path d="M639.9 232.8A256.7 256.7 0 0 1 640.5 233.5"/><path d="M637.3 236.0L640.2 233.1"/><path d="M642.7 235.4L669.2 210.3"/><path d="M646.5 232.7L667.7 212.7"/><path d="M646.9 233.2L667.3 214.0"/><path d="M646.5 232.7A261.5 261.5 0 0 1 646.9 233.2"/><path d="M643.3 236.1L646.7 233.0"/><path d="M642.7 235.4A256.9 256.9 0 0 1 643.3 236.1"/><path d="M639.9 238.7L643.0 235.8"/><path d="M637.3 236.0A252.7 252.7 0 0 1 639.9 238.7"/><path d="M638.3 237.6L638.6 237.3"/><path d="M637.2 238.7L638.3 237.6"/><path d="M656.7 231.4L671.3 218.2"/><path d="M656.7 231.4A269.9 269.9 0 0 1 657.9 232.7"/><path d="M648.4 240.1L657.3 232.1"/><path d="M651.3 242.8L688.4 210.5"/><path d="M652.0 243.0L699.4 201.9"/><path d="M658.4 238.3L688.7 212.2"/><path d="M665.5 233.0L685.4 216.0"/><path d="M666.0 233.5L685.5 216.8"/><path d="M665.5 233.0A275.5 275.5 0 0 1 666.0 233.5"/><path d="M659.1 239.0L665.8 233.3"/><path d="M658.4 238.3A266.7 266.7 0 0 1 659.1 239.0"/><path d="M655.6 241.4L658.8 238.6"/><path d="M656.5 242.4L688.1 215.5"/><path d="M655.6 241.4A262.5 262.5 0 0 1 656.5 242.4"/><path d="M653.5 244.0L656.0 241.9"/><path d="M664.4 236.6L678.2 224.9"/><path d="M664.8 237.1L694.7 211.9"/><path d="M664.4 236.6A272.3 272.3 0 0 1 664.8 237.1"/><path d="M654.6 245.3L664.6 236.8"/><path d="M653.5 244.0A259.2 259.2 0 0 1 654.6 245.3"/><path d="M653.7 245.0L654.1 244.6"/><path d="M652.0 243.0A258.8 258.8 0 0 1 653.7 245.0"/><path d="M652.6 244.2L652.9 244.0"/><path d="M651.3 242.8A258.4 258.4 0 0 1 652.6 244.2"/><path d="M651.6 243.8L651.9 243.5"/><path d="M648.4 240.1A258.0 258.0 0 0 1 651.6 243.8"/><path d="M649.7 242.2L650.0 241.9"/><path d="M644.6 246.7L649.7 242.2"/><path d="M657.2 250.3L713.1 205.1"/><path d="M658.2 251.6L688.5 227.4"/><path d="M657.2 250.3A258.0 258.0 0 0 1 658.2 251.6"/><path d="M655.2 253.0L657.7 251.0"/><path d="M652.0 255.5L655.2 253.0"/><path d="M670.6 249.1L702.7 224.6"/><path d="M671.2 249.8L684.2 239.9"/><path d="M670.6 249.1A269.4 269.4 0 0 1 671.2 249.8"/><path d="M670.6 249.7L670.9 249.4"/><path d="M671.5 250.9L700.9 228.9"/><path d="M670.6 249.7A269.0 269.0 0 0 1 671.5 250.9"/><path d="M667.0 253.3L671.0 250.3"/><path d="M665.5 251.4A263.9 263.9 0 0 1 667.0 253.3"/><path d="M660.3 256.9L666.3 252.4"/><path d="M671.0 253.6L689.4 240.0"/><path d="M672.7 253.7L723.3 216.6"/><path d="M673.2 254.5L703.2 232.6"/><path d="M672.7 253.7A268.2 268.2 0 0 1 673.2 254.5"/><path d="M672.0 254.9L673.0 254.1"/><path d="M671.0 253.6A267.0 267.0 0 0 1 672.0 254.9"/><path d="M668.0 256.8L671.5 254.2"/><path d="M669.4 258.8L693.8 241.2"/><path d="M668.0 256.8A262.6 262.6 0 0 1 669.4 258.8"/><path d="M664.4 260.9L668.7 257.8"/><path d="M680.6 252.8L704.9 235.5"/><path d="M680.8 253.0L708.8 233.1"/><path d="M680.6 252.8A275.2 275.2 0 0 1 680.8 253.0"/><path d="M673.2 258.2L680.7 252.9"/><path d="M673.5 258.6L707.2 234.8"/><path d="M673.2 258.2A266.0 266.0 0 0 1 673.5 258.6"/><path d="M669.9 260.9L673.4 258.4"/><path d="M670.3 261.3L697.4 242.1"/><path d="M669.9 260.9A261.8 261.8 0 0 1 670.3 261.3"/><path d="M666.4 263.7L670.1 261.1"/><path d="M664.4 260.9A257.3 257.3 0 0 1 666.4 263.7"/><path d="M665.0 262.6L665.4 262.3"/><path d="M667.1 265.5L704.9 239.1"/><path d="M665.0 262.6A256.8 256.8 0 0 1 667.1 265.5"/><path d="M665.7 264.3L666.1 264.1"/><path d="M660.3 256.9A256.4 256.4 0 0 1 665.7 264.3"/><path d="M662.7 260.8L663.0 260.6"/><path d="M658.5 264.0L662.7 260.8"/><path d="M669.3 268.1L722.8 231.8"/><path d="M689.4 257.1L724.2 233.8"/><path d="M689.2 256.8A280.0 280.0 0 0 1 689.4 257.1"/><path d="M676.7 265.3L689.3 256.9"/><path d="M689.5 257.4L734.8 227.3"/><path d="M689.7 257.7L724.4 234.6"/><path d="M689.5 257.4A279.9 279.9 0 0 1 689.7 257.7"/><path d="M677.1 265.9L689.6 257.6"/><path d="M676.7 265.3A264.9 264.9 0 0 1 677.1 265.9"/><path d="M674.4 267.2L676.9 265.6"/><path d="M674.9 267.9L714.7 241.5"/><path d="M674.4 267.2A261.9 261.9 0 0 1 674.9 267.9"/><path d="M671.1 269.9L674.7 267.6"/><path d="M676.2 267.4L724.8 235.4"/><path d="M688.7 259.6L730.1 232.4"/><path d="M688.9 259.9L724.3 236.6"/><path d="M688.7 259.6A278.0 278.0 0 0 1 688.9 259.9"/><path d="M680.2 265.4L688.8 259.8"/><path d="M680.2 265.4A267.7 267.7 0 0 1 680.4 265.8"/><path d="M676.6 268.1L680.3 265.6"/><path d="M676.2 267.4A263.3 263.3 0 0 1 676.6 268.1"/><path d="M671.7 270.8L676.4 267.8"/><path d="M671.1 269.9A257.6 257.6 0 0 1 671.7 270.8"/><path d="M671.1 270.6L671.4 270.4"/><path d="M669.3 268.1A257.2 257.2 0 0 1 671.1 270.6"/><path d="M669.9 269.6L670.2 269.3"/><path d="M664.8 273.0L669.9 269.6"/><path d="M676.2 272.7L713.8 248.8"/><path d="M678.2 271.8L712.7 249.9"/><path d="M688.9 265.4L705.2 255.1"/><path d="M689.1 265.7L714.3 249.8"/><path d="M688.9 265.4A275.1 275.1 0 0 1 689.1 265.7"/><path d="M679.3 271.7L689.0 265.6"/><path d="M685.4 268.4L711.2 252.2"/><path d="M685.6 268.7L715.2 250.1"/><path d="M685.4 268.4A270.5 270.5 0 0 1 685.6 268.7"/><path d="M679.7 272.2L685.5 268.6"/><path d="M679.3 271.7A263.6 263.6 0 0 1 679.7 272.2"/><path d="M678.7 272.5L679.5 272.0"/><path d="M678.2 271.8A262.6 262.6 0 0 1 678.7 272.5"/><path d="M678.1 272.4L678.4 272.1"/><path d="M678.8 273.4L727.6 242.8"/><path d="M678.1 272.4A262.2 262.2 0 0 1 678.8 273.4"/><path d="M677.6 273.4L678.4 272.9"/><path d="M678.1 274.2L724.0 245.5"/><path d="M677.6 273.4A261.2 261.2 0 0 1 678.1 274.2"/><path d="M677.5 274.0L677.9 273.8"/><path d="M677.9 274.7L715.4 251.4"/><path d="M677.5 274.0A260.8 260.8 0 0 1 677.9 274.7"/><path d="M677.4 274.6L677.7 274.3"/><path d="M676.2 272.7A260.4 260.4 0 0 1 677.4 274.6"/><path d="M676.5 273.8L676.8 273.6"/><path d="M677.4 275.4L715.4 251.8"/><path d="M676.5 273.8A260.0 260.0 0 0 1 677.4 275.4"/><path d="M676.6 274.8L676.9 274.6"/><path d="M678.0 277.1L715.3 254.3"/><path d="M676.6 274.8A259.6 259.6 0 0 1 678.0 277.1"/><path d="M677.0 276.1L677.3 275.9"/><path d="M669.7 280.6L677.0 276.1"/><path d="M677.0 281.6L737.0 246.0"/><path d="M690.0 276.5L714.9 262.0"/><path d="M690.4 277.3L710.8 265.5"/><path d="M690.0 276.5A270.2 270.2 0 0 1 690.4 277.3"/><path d="M679.7 283.0L690.2 276.9"/><path d="M689.3 280.1L723.2 260.8"/><path d="M697.4 275.8L730.5 257.1"/><path d="M698.0 275.9L725.4 260.4"/><path d="M698.1 276.2L733.0 256.6"/><path d="M698.0 275.9A277.4 277.4 0 0 1 698.1 276.2"/><path d="M697.7 276.3L698.1 276.1"/><path d="M697.4 275.8A277.0 277.0 0 0 1 697.7 276.3"/><path d="M689.6 280.6L697.6 276.1"/><path d="M689.3 280.1A267.8 267.8 0 0 1 689.6 280.6"/><path d="M689.1 280.5L689.4 280.3"/><path d="M689.6 281.5L737.0 254.8"/><path d="M689.1 280.5A267.4 267.4 0 0 1 689.6 281.5"/><path d="M684.8 283.5L689.3 281.0"/><path d="M685.2 284.3L717.7 266.1"/><path d="M684.8 283.5A262.2 262.2 0 0 1 685.2 284.3"/><path d="M681.7 285.8L685.0 283.9"/><path d="M691.7 282.7L723.8 265.0"/><path d="M692.2 283.5L717.0 269.9"/><path d="M691.7 282.7A268.7 268.7 0 0 1 692.2 283.5"/><path d="M688.0 285.3L692.0 283.1"/><path d="M693.3 284.3L771.3 242.1"/><path d="M693.8 285.1L714.3 274.1"/><path d="M693.3 284.3A269.3 269.3 0 0 1 693.8 285.1"/><path d="M689.0 287.1L693.5 284.7"/><path d="M688.0 285.3A264.1 264.1 0 0 1 689.0 287.1"/><path d="M688.1 286.4L688.5 286.2"/><path d="M689.5 288.9L718.4 273.6"/><path d="M688.1 286.4A263.7 263.7 0 0 1 689.5 288.9"/><path d="M684.1 290.2L688.8 287.7"/><path d="M681.7 285.8A258.4 258.4 0 0 1 684.1 290.2"/><path d="M682.6 288.2L682.9 288.0"/><path d="M679.7 283.0A258.0 258.0 0 0 1 682.6 288.2"/><path d="M680.8 285.8L681.1 285.6"/><path d="M684.9 293.4L717.9 276.2"/><path d="M680.8 285.8A257.6 257.6 0 0 1 684.9 293.4"/><path d="M682.5 289.8L682.9 289.6"/><path d="M692.4 291.9L718.8 278.4"/><path d="M698.7 289.1L710.4 283.1"/><path d="M706.2 286.0L711.0 283.6"/><path d="M706.1 285.7A279.9 279.9 0 0 1 706.2 286.0"/><path d="M698.9 289.5L706.1 285.9"/><path d="M698.7 289.1A271.8 271.8 0 0 1 698.9 289.5"/><path d="M692.7 292.4L698.8 289.3"/><path d="M692.4 291.9A264.9 264.9 0 0 1 692.7 292.4"/><path d="M689.8 293.6L692.5 292.2"/><path d="M690.3 294.5L727.3 275.8"/><path d="M689.8 293.6A261.9 261.9 0 0 1 690.3 294.5"/><path d="M686.5 295.8L690.0 294.0"/><path d="M705.8 287.0L727.8 276.0"/><path d="M706.0 287.3L728.9 275.9"/><path d="M705.8 287.0A279.1 279.1 0 0 1 706.0 287.3"/><path d="M689.5 295.4L705.9 287.2"/><path d="M700.7 290.4L727.1 277.2"/><path d="M706.6 287.8L729.1 276.6"/><path d="M706.7 288.2L722.7 280.2"/><path d="M706.6 287.8A279.4 279.4 0 0 1 706.7 288.2"/><path d="M700.9 290.9L706.6 288.0"/><path d="M700.7 290.4A273.0 273.0 0 0 1 700.9 290.9"/><path d="M694.0 294.0L700.8 290.6"/><path d="M694.3 294.7L734.6 274.7"/><path d="M694.0 294.0A265.4 265.4 0 0 1 694.3 294.7"/><path d="M690.0 296.4L694.1 294.4"/><path d="M689.5 295.4A260.8 260.8 0 0 1 690.0 296.4"/><path d="M687.2 297.2L689.8 295.9"/><path d="M686.5 295.8A257.9 257.9 0 0 1 687.2 297.2"/><path d="M686.2 296.8L686.9 296.5"/><path d="M682.5 289.8A257.2 257.2 0 0 1 686.2 296.8"/><path d="M684.1 293.5L684.4 293.3"/><path d="M687.6 300.4L732.4 278.6"/><path d="M684.1 293.5A256.8 256.8 0 0 1 687.6 300.4"/><path d="M685.5 297.1L685.8 296.9"/><path d="M677.0 281.6A256.4 256.4 0 0 1 685.5 297.1"/><path d="M681.0 289.5L681.4 289.3"/><path d="M687.8 302.7L749.6 273.3"/><path d="M681.0 289.5A256.0 256.0 0 0 1 687.8 302.7"/><path d="M684.1 296.2L684.5 296.0"/><path d="M688.3 304.8L730.1 285.4"/><path d="M684.1 296.2A255.6 255.6 0 0 1 688.3 304.8"/><path d="M685.9 300.6L686.3 300.5"/><path d="M680.7 303.2L685.9 300.6"/><path d="M687.4 308.8L751.0 280.3"/><path d="M682.8 310.9L687.4 308.8"/><path d="M684.8 327.9L712.4 317.7"/><path d="M706.7 333.6L754.5 318.5"/><path d="M713.1 332.7L757.8 318.8"/><path d="M725.3 330.2L761.1 319.2"/><path d="M725.7 331.4L758.2 321.6"/><path d="M725.3 330.2A281.1 281.1 0 0 1 725.7 331.4"/><path d="M713.6 334.4L725.5 330.8"/><path d="M713.1 332.7A268.7 268.7 0 0 1 713.6 334.4"/><path d="M707.3 335.4L713.4 333.6"/><path d="M706.7 333.6A262.3 262.3 0 0 1 707.3 335.4"/><path d="M703.5 335.6L707.0 334.5"/><path d="M704.5 338.9L756.9 323.3"/><path d="M703.5 335.6A258.7 258.7 0 0 1 704.5 338.9"/><path d="M701.8 337.9L704.0 337.2"/><path d="M720.1 340.1L773.2 325.5"/><path d="M721.0 343.1L764.5 331.7"/><path d="M720.1 340.1A273.4 273.4 0 0 1 721.0 343.1"/><path d="M711.8 343.9L720.5 341.6"/><path d="M713.2 349.0L771.4 334.6"/><path d="M711.8 343.9A264.4 264.4 0 0 1 713.2 349.0"/><path d="M704.7 348.5L712.5 346.5"/><path d="M701.8 337.9A256.4 256.4 0 0 1 704.7 348.5"/><path d="M702.9 343.3L703.3 343.2"/><path d="M690.9 346.7L702.9 343.3"/><path d="M725.5 352.8L766.1 343.8"/><path d="M713.7 363.9L764.9 354.2"/><path d="M717.1 365.2L757.7 357.8"/><path d="M713.7 374.0L771.8 365.3"/><path d="M695.2 364.4L707.0 362.0"/><path d="M717.0 380.8L756.2 376.0"/><path d="M717.1 385.0L772.7 379.1"/><path d="M716.4 386.4L769.9 381.1"/><path d="M736.2 385.5L763.7 382.8"/><path d="M736.1 385.0A281.0 281.0 0 0 1 736.2 385.5"/><path d="M726.3 386.2L736.1 385.2"/><path d="M741.4 387.0L787.2 382.9"/><path d="M741.4 386.5A286.1 286.1 0 0 1 741.4 387.0"/><path d="M715.1 389.1L741.4 386.7"/><path d="M714.9 392.2L787.4 386.5"/><path d="M699.1 391.5L714.3 390.2"/><path d="M723.0 396.4L762.5 394.0"/><path d="M723.0 396.4A267.0 267.0 0 0 1 723.1 396.9"/><path d="M714.2 397.2L723.1 396.7"/><path d="M719.7 398.1L762.0 395.8"/><path d="M719.7 398.7L755.0 396.8"/><path d="M719.7 398.1A263.5 263.5 0 0 1 719.7 398.7"/><path d="M709.6 398.9L719.7 398.4"/><path d="M709.5 397.3A253.5 253.5 0 0 1 709.6 398.9"/><path d="M709.1 398.1L709.5 398.1"/><path d="M709.2 399.7L833.0 393.4"/><path d="M709.1 398.1A253.1 253.1 0 0 1 709.2 399.7"/><path d="M708.8 398.9L709.2 398.9"/><path d="M708.9 402.1L759.8 400.0"/><path d="M708.8 398.9A252.7 252.7 0 0 1 708.9 402.1"/><path d="M708.5 400.5L708.9 400.5"/><path d="M699.7 400.9L708.5 400.5"/><path d="M716.1 405.7L754.2 404.7"/><path d="M716.2 407.1L766.9 406.0"/><path d="M716.1 405.7A259.7 259.7 0 0 1 716.2 407.1"/><path d="M711.7 406.5L716.1 406.4"/><path d="M711.8 408.8L760.9 408.1"/><path d="M711.7 406.5A255.3 255.3 0 0 1 711.8 408.8"/><path d="M710.1 407.7L711.8 407.6"/><path d="M700.0 407.9L710.1 407.7"/></g>
<g stroke="#9000b0" stroke-opacity="0.75" stroke-width="1.3" fill="none"><path d="M680.5 571.9L717.8 598.4"/><path d="M686.5 577.4L717.5 599.7"/><path d="M680.5 571.9A274.9 274.9 0 0 1 680.0 572.5"/><path d="M671.8 566.2L680.3 572.2"/><path d="M673.2 568.6L698.1 586.5"/><path d="M676.1 571.3L701.8 589.8"/><path d="M683.8 577.5L718.6 602.8"/><path d="M683.5 577.9L729.7 611.6"/><path d="M683.8 577.5A280.9 280.9 0 0 1 683.5 577.9"/><path d="M677.0 572.8L683.6 577.7"/><path d="M676.5 573.5L722.1 606.8"/><path d="M677.0 572.8A272.6 272.6 0 0 1 676.5 573.5"/><path d="M675.4 572.2L676.7 573.2"/><path d="M676.1 571.3A271.0 271.0 0 0 1 675.4 572.2"/><path d="M674.1 570.6L675.8 571.7"/><path d="M673.3 571.8L720.3 606.3"/><path d="M674.1 570.6A269.0 269.0 0 0 1 673.3 571.8"/><path d="M672.2 570.0L673.7 571.2"/><path d="M673.2 568.6A267.1 267.1 0 0 1 672.2 570.0"/><path d="M671.7 568.6L672.7 569.3"/><path d="M670.5 570.3L705.6 596.3"/><path d="M671.7 568.6A265.9 265.9 0 0 1 670.5 570.3"/><path d="M670.0 568.7L671.1 569.5"/><path d="M671.8 566.2A264.5 264.5 0 0 1 670.0 568.7"/><path d="M670.6 567.2L670.9 567.4"/><path d="M668.5 575.5L708.0 606.0"/><path d="M576.4 638.4L602.0 686.8"/><path d="M527.6 660.4L545.2 721.8"/><path d="M474.1 684.8L477.3 733.8"/><path d="M443.5 669.6L441.6 705.5"/><path d="M432.0 663.4L425.6 729.0"/><path d="M428.6 663.9L423.4 710.9"/><path d="M416.5 684.4L409.7 731.0"/><path d="M302.0 652.2L291.2 668.9"/><path d="M303.6 642.1L293.3 657.7"/><path d="M304.7 631.3L279.9 667.0"/><path d="M279.5 630.3L259.5 655.0"/><path d="M222.7 263.5L194.8 245.7"/><path d="M226.2 255.6L214.5 247.6"/><path d="M222.6 251.5L191.2 230.0"/><path d="M223.0 251.0L205.7 239.0"/><path d="M222.6 251.5A284.0 284.0 0 0 1 223.0 251.0"/><path d="M235.7 260.2L222.8 251.3"/><path d="M232.7 252.3L213.0 238.2"/><path d="M564.5 154.8L584.1 108.2"/><path d="M589.6 185.7L618.5 136.5"/><path d="M596.1 182.1L606.1 165.6"/><path d="M596.0 196.5L621.3 157.4"/><path d="M610.0 180.0L621.1 163.2"/><path d="M605.6 191.5L628.3 157.9"/><path d="M604.9 193.2L639.0 142.8"/><path d="M618.1 186.6L625.9 175.7"/><path d="M615.1 192.2L632.3 168.1"/><path d="M614.6 191.8A271.5 271.5 0 0 1 615.1 192.2"/><path d="M611.0 197.4L614.8 192.0"/><path d="M613.8 206.0L628.0 187.5"/><path d="M733.1 352.8L773.6 344.1"/><path d="M733.3 354.2L769.7 346.5"/><path d="M733.1 352.8A282.9 282.9 0 0 1 733.3 354.2"/><path d="M726.0 355.0L733.2 353.5"/><path d="M725.5 352.8A275.6 275.6 0 0 1 726.0 355.0"/><path d="M706.5 358.1L725.8 353.9"/><path d="M707.8 362.3L758.9 352.2"/><path d="M727.4 361.8L761.4 355.5"/><path d="M730.8 361.7L759.0 356.5"/><path d="M730.9 362.2L766.1 355.7"/><path d="M730.8 361.7A279.0 279.0 0 0 1 730.9 362.2"/><path d="M727.5 362.5L730.9 361.9"/><path d="M727.4 361.8A275.6 275.6 0 0 1 727.5 362.5"/><path d="M716.9 364.1L727.4 362.2"/><path d="M716.9 364.1A264.9 264.9 0 0 1 717.1 365.2"/><path d="M715.6 364.9L717.0 364.7"/><path d="M715.8 365.9L770.3 356.1"/><path d="M715.6 364.9A263.5 263.5 0 0 1 715.8 365.9"/><path d="M714.0 365.7L715.7 365.4"/><path d="M713.7 363.9A261.7 261.7 0 0 1 714.0 365.7"/><path d="M708.9 365.7L713.9 364.8"/><path d="M710.5 369.5L764.8 360.3"/><path d="M727.5 369.0L762.7 363.4"/><path d="M727.6 369.5L757.7 364.7"/><path d="M727.5 369.0A274.5 274.5 0 0 1 727.6 369.5"/><path d="M717.0 371.0L727.5 369.3"/><path d="M727.6 370.0L749.3 366.6"/><path d="M727.7 370.5L784.6 361.7"/><path d="M727.6 370.0A274.5 274.5 0 0 1 727.7 370.5"/><path d="M717.2 371.9L727.7 370.2"/><path d="M717.0 371.0A263.8 263.8 0 0 1 717.2 371.9"/><path d="M716.7 371.5L717.1 371.4"/><path d="M716.9 372.6L766.3 365.1"/><path d="M716.7 371.5A263.4 263.4 0 0 1 716.9 372.6"/><path d="M716.4 372.1L716.8 372.0"/><path d="M716.5 373.1L770.2 365.0"/><path d="M716.4 372.1A263.0 263.0 0 0 1 716.5 373.1"/><path d="M713.6 373.1L716.5 372.6"/><path d="M713.6 373.1A260.1 260.1 0 0 1 713.7 374.0"/><path d="M713.2 373.6L713.6 373.6"/><path d="M713.6 376.3L754.0 370.6"/><path d="M713.2 373.6A259.7 259.7 0 0 1 713.6 376.3"/><path d="M711.4 375.2L713.4 374.9"/><path d="M710.5 369.5A257.6 257.6 0 0 1 711.4 375.2"/><path d="M710.1 372.5L710.9 372.4"/><path d="M708.9 365.7A256.7 256.7 0 0 1 710.1 372.5"/><path d="M709.1 369.2L709.5 369.1"/><path d="M707.8 362.3A256.3 256.3 0 0 1 709.1 369.2"/><path d="M708.1 365.8L708.5 365.8"/><path d="M706.5 358.1A255.9 255.9 0 0 1 708.1 365.8"/><path d="M707.0 362.0L707.4 362.0"/><path d="M715.3 380.5L751.5 376.1"/><path d="M740.2 378.5L764.7 375.5"/><path d="M740.3 379.0L769.9 375.5"/><path d="M740.2 378.5A285.8 285.8 0 0 1 740.3 379.0"/><path d="M729.8 380.0L740.3 378.7"/><path d="M729.9 380.7L761.8 377.0"/><path d="M729.8 380.0A275.3 275.3 0 0 1 729.9 380.7"/><path d="M728.6 380.5L729.9 380.3"/><path d="M728.7 381.3L767.6 376.9"/><path d="M728.6 380.5A274.0 274.0 0 0 1 728.7 381.3"/><path d="M724.0 381.4L728.7 380.9"/><path d="M724.1 382.3L764.5 377.8"/><path d="M724.0 381.4A269.3 269.3 0 0 1 724.1 382.3"/><path d="M720.3 382.3L724.1 381.9"/><path d="M720.4 383.2L782.4 376.3"/><path d="M720.3 382.3A265.5 265.5 0 0 1 720.4 383.2"/><path d="M719.9 382.8L720.3 382.8"/><path d="M720.1 383.7L779.9 377.2"/><path d="M719.9 382.8A265.1 265.1 0 0 1 720.1 383.7"/><path d="M719.4 383.3L720.0 383.3"/><path d="M719.5 384.3L782.4 377.5"/><path d="M719.4 383.3A264.5 264.5 0 0 1 719.5 384.3"/><path d="M717.4 384.0L719.4 383.8"/><path d="M717.0 380.8A262.4 262.4 0 0 1 717.4 384.0"/><path d="M716.8 382.5L717.2 382.4"/><path d="M716.8 382.5A262.0 262.0 0 0 1 717.1 385.0"/><path d="M716.5 383.8L716.9 383.7"/><path d="M716.5 383.8A261.6 261.6 0 0 1 716.7 385.7"/><path d="M716.2 384.8L716.6 384.7"/><path d="M716.2 384.8A261.2 261.2 0 0 1 716.4 386.4"/><path d="M715.9 385.6L716.3 385.6"/><path d="M715.3 380.5A260.8 260.8 0 0 1 715.9 385.6"/><path d="M715.2 383.1L715.6 383.1"/><path d="M736.1 385.0L778.5 380.8"/><path d="M726.4 386.9L773.6 382.4"/><path d="M726.3 386.2A271.1 271.1 0 0 1 726.4 386.9"/><path d="M715.7 387.5L726.4 386.5"/><path d="M715.2 383.1A260.4 260.4 0 0 1 715.7 387.5"/><path d="M715.1 385.4L715.5 385.3"/><path d="M715.4 388.4L767.2 383.6"/><path d="M715.1 385.4A260.0 260.0 0 0 1 715.4 388.4"/><path d="M714.8 386.9L715.2 386.9"/><path d="M741.4 386.5L770.5 383.8"/><path d="M714.8 386.9A259.6 259.6 0 0 1 715.1 389.1"/><path d="M714.6 388.0L715.0 388.0"/><path d="M714.6 388.0A259.2 259.2 0 0 1 714.9 392.2"/><path d="M714.3 390.2L714.7 390.1"/><path d="M712.7 396.5L762.9 393.4"/><path d="M723.1 396.9L755.7 395.0"/><path d="M714.3 397.9L748.9 396.0"/><path d="M714.2 397.2A258.2 258.2 0 0 1 714.3 397.9"/><path d="M712.8 397.6L714.2 397.6"/><path d="M712.7 396.5A256.7 256.7 0 0 1 712.8 397.6"/><path d="M709.5 397.3L712.8 397.1"/></g>
<g stroke="#ff7010" stroke-opacity="0.8" stroke-width="1.3" fill="none"><path d="M728.7 415.0L771.8 415.4"/><path d="M729.5 415.3L773.5 415.8"/><path d="M762.7 416.0L776.4 416.1"/><path d="M762.6 416.3L767.7 416.4"/><path d="M762.7 416.0A306.2 306.2 0 0 1 762.6 416.3"/><path d="M730.9 415.8L762.7 416.1"/><path d="M733.9 416.3L755.2 416.6"/><path d="M748.8 416.8L781.9 417.3"/><path d="M749.2 417.1L768.4 417.4"/><path d="M749.2 417.4L755.8 417.6"/><path d="M749.2 417.1A292.8 292.8 0 0 1 749.2 417.4"/><path d="M748.8 417.3L749.2 417.3"/><path d="M748.8 416.8A292.4 292.4 0 0 1 748.8 417.3"/><path d="M737.4 416.9L748.8 417.0"/><path d="M737.4 417.6L755.9 417.9"/><path d="M737.4 416.9A281.0 281.0 0 0 1 737.4 417.6"/><path d="M737.0 417.2L737.4 417.2"/><path d="M737.0 417.9L779.0 418.7"/><path d="M737.0 417.2A280.6 280.6 0 0 1 737.0 417.9"/><path d="M736.6 417.5L737.0 417.5"/><path d="M736.6 418.2L762.4 418.7"/><path d="M736.6 417.5A280.2 280.2 0 0 1 736.6 418.2"/><path d="M734.2 417.8L736.6 417.8"/><path d="M734.2 418.4L795.3 419.7"/><path d="M734.2 417.8A277.8 277.8 0 0 1 734.2 418.4"/><path d="M733.8 418.1L734.2 418.1"/><path d="M733.9 416.3A277.4 277.4 0 0 1 733.8 418.1"/><path d="M731.4 417.1L733.8 417.2"/><path d="M731.4 418.7L771.9 419.6"/><path d="M731.4 417.1A274.9 274.9 0 0 1 731.4 418.7"/><path d="M730.9 417.9L731.4 417.9"/><path d="M730.9 415.8A274.4 274.4 0 0 1 730.9 417.9"/><path d="M729.5 416.8L730.9 416.8"/><path d="M729.5 415.3A273.0 273.0 0 0 1 729.5 416.8"/><path d="M729.1 416.0L729.5 416.1"/><path d="M729.0 418.9L768.3 419.8"/><path d="M729.1 416.0A272.6 272.6 0 0 1 729.0 418.9"/><path d="M728.7 417.5L729.1 417.5"/><path d="M728.7 415.0A272.2 272.2 0 0 1 728.7 417.5"/><path d="M728.3 416.2L728.7 416.2"/><path d="M728.2 419.2L772.7 420.3"/><path d="M728.3 416.2A271.8 271.8 0 0 1 728.2 419.2"/><path d="M726.8 417.7L728.3 417.7"/><path d="M726.8 419.5L760.7 420.3"/><path d="M726.8 417.7A270.4 270.4 0 0 1 726.8 419.5"/><path d="M726.4 418.6L726.8 418.6"/><path d="M738.8 420.1L770.2 420.9"/><path d="M752.7 420.8L786.3 421.7"/><path d="M752.7 421.1L776.5 421.8"/><path d="M752.7 420.8A296.3 296.3 0 0 1 752.7 421.1"/><path d="M752.3 420.9L752.7 420.9"/><path d="M752.3 421.4L776.7 422.2"/><path d="M752.3 420.9A295.9 295.9 0 0 1 752.3 421.4"/><path d="M738.8 420.8L752.3 421.2"/><path d="M738.8 420.1A282.4 282.4 0 0 1 738.8 420.8"/><path d="M726.4 420.1L738.8 420.4"/><path d="M726.4 418.6A270.0 270.0 0 0 1 726.4 420.1"/><path d="M726.0 419.3L726.4 419.3"/><path d="M725.9 422.5L768.7 424.1"/><path d="M726.0 419.3A269.6 269.6 0 0 1 725.9 422.5"/><path d="M725.6 420.9L726.0 420.9"/><path d="M749.3 425.4L776.0 426.6"/><path d="M753.0 426.7L767.3 427.4"/><path d="M753.0 427.6L770.9 428.5"/><path d="M753.0 426.7A296.9 296.9 0 0 1 753.0 427.6"/><path d="M749.2 427.0L753.0 427.1"/><path d="M749.3 425.4A293.0 293.0 0 0 1 749.2 427.0"/><path d="M748.8 426.2L749.2 426.2"/><path d="M748.7 428.6L791.7 430.9"/><path d="M748.8 426.2A292.6 292.6 0 0 1 748.7 428.6"/><path d="M725.3 426.2L748.8 427.4"/><path d="M725.6 420.9A269.2 269.2 0 0 1 725.3 426.2"/><path d="M725.1 423.5L725.5 423.5"/><path d="M745.3 430.5L767.0 431.9"/><path d="M745.2 431.4L795.3 434.7"/><path d="M745.3 430.5A289.3 289.3 0 0 1 745.2 431.4"/><path d="M742.8 430.8L745.2 431.0"/><path d="M742.7 432.3L780.6 434.9"/><path d="M742.8 430.8A286.9 286.9 0 0 1 742.7 432.3"/><path d="M724.7 430.3L742.8 431.5"/><path d="M725.1 423.5A268.8 268.8 0 0 1 724.7 430.3"/><path d="M724.5 426.9L724.9 426.9"/><path d="M731.2 433.6L769.1 436.5"/><path d="M731.5 435.0L756.7 437.0"/><path d="M750.9 437.9L770.2 439.5"/><path d="M750.9 438.8L759.6 439.5"/><path d="M750.9 437.9A295.5 295.5 0 0 1 750.9 438.8"/><path d="M748.6 438.1L750.9 438.3"/><path d="M748.4 439.6L778.9 442.5"/><path d="M748.6 438.1A293.2 293.2 0 0 1 748.4 439.6"/><path d="M741.1 438.2L748.5 438.9"/><path d="M741.0 440.1L772.5 443.2"/><path d="M741.1 438.2A285.8 285.8 0 0 1 741.0 440.1"/><path d="M731.3 438.2L741.1 439.2"/><path d="M731.5 435.0A276.0 276.0 0 0 1 731.3 438.2"/><path d="M731.0 436.6L731.4 436.6"/><path d="M731.2 433.6A275.6 275.6 0 0 1 731.0 436.6"/><path d="M724.0 434.5L731.1 435.1"/><path d="M724.5 426.9A268.4 268.4 0 0 1 724.0 434.5"/><path d="M723.9 430.7L724.3 430.7"/><path d="M738.6 442.1L772.7 445.7"/><path d="M745.9 444.1L768.9 446.6"/><path d="M745.8 445.0L763.2 446.9"/><path d="M745.9 444.1A291.2 291.2 0 0 1 745.8 445.0"/><path d="M740.7 444.0L745.9 444.6"/><path d="M740.5 445.4L782.9 450.4"/><path d="M740.7 444.0A285.9 285.9 0 0 1 740.5 445.4"/><path d="M738.3 444.5L740.6 444.7"/><path d="M738.6 442.1A283.6 283.6 0 0 1 738.3 444.5"/><path d="M733.1 442.7L738.5 443.3"/><path d="M732.8 445.8L771.2 450.4"/><path d="M733.1 442.7A278.3 278.3 0 0 1 732.8 445.8"/><path d="M722.7 443.1L732.9 444.3"/><path d="M723.9 430.7A268.0 268.0 0 0 1 722.7 443.1"/><path d="M723.0 436.9L723.4 436.9"/><path d="M740.4 449.1L781.8 454.4"/><path d="M742.9 449.7L787.5 455.5"/><path d="M742.9 450.0L769.4 453.5"/><path d="M742.9 449.7A288.8 288.8 0 0 1 742.9 450.0"/><path d="M740.4 449.5L742.9 449.9"/><path d="M740.4 449.1A286.3 286.3 0 0 1 740.4 449.5"/><path d="M740.0 449.3L740.4 449.3"/><path d="M739.9 450.0L778.3 455.0"/><path d="M740.0 449.3A285.9 285.9 0 0 1 739.9 450.0"/><path d="M731.8 448.5L740.0 449.6"/><path d="M731.6 450.1L768.9 455.2"/><path d="M731.8 448.5A277.7 277.7 0 0 1 731.6 450.1"/><path d="M721.7 448.0L731.7 449.3"/><path d="M723.0 436.9A267.6 267.6 0 0 1 721.7 448.0"/><path d="M722.0 442.4L722.4 442.4"/><path d="M739.1 453.5L777.7 459.1"/><path d="M739.0 454.4L781.8 460.7"/><path d="M739.1 453.5A285.6 285.6 0 0 1 739.0 454.4"/><path d="M720.9 451.3L739.1 453.9"/><path d="M722.0 442.4A267.2 267.2 0 0 1 720.9 451.3"/><path d="M721.1 446.8L721.5 446.8"/><path d="M736.4 456.3L780.3 463.2"/><path d="M736.3 457.2L779.0 464.0"/><path d="M736.4 456.3A283.4 283.4 0 0 1 736.3 457.2"/><path d="M731.9 456.1L736.4 456.8"/><path d="M731.6 457.5L767.4 463.3"/><path d="M731.9 456.1A278.8 278.8 0 0 1 731.6 457.5"/><path d="M719.9 454.9L731.8 456.8"/><path d="M721.1 446.8A266.8 266.8 0 0 1 719.9 454.9"/><path d="M720.1 450.8L720.5 450.8"/><path d="M728.7 459.4L771.4 466.7"/><path d="M745.2 463.6L778.1 469.5"/><path d="M745.1 464.0L781.4 470.4"/><path d="M745.2 463.6A293.2 293.2 0 0 1 745.1 464.0"/><path d="M739.8 462.8L745.2 463.8"/><path d="M739.7 463.3L772.9 469.3"/><path d="M739.8 462.8A287.7 287.7 0 0 1 739.7 463.3"/><path d="M734.1 462.1L739.7 463.1"/><path d="M733.9 463.4L773.9 470.8"/><path d="M734.1 462.1A282.0 282.0 0 0 1 733.9 463.4"/><path d="M730.8 462.2L734.0 462.8"/><path d="M730.5 464.1L769.0 471.4"/><path d="M730.8 462.2A278.8 278.8 0 0 1 730.5 464.1"/><path d="M728.2 462.7L730.6 463.1"/><path d="M728.7 459.4A276.3 276.3 0 0 1 728.2 462.7"/><path d="M718.8 459.3L728.5 461.0"/><path d="M720.1 450.8A266.4 266.4 0 0 1 718.8 459.3"/><path d="M719.1 455.0L719.5 455.0"/><path d="M744.4 469.3L772.3 474.8"/><path d="M744.2 470.1L789.1 479.1"/><path d="M744.4 469.3A293.5 293.5 0 0 1 744.2 470.1"/><path d="M717.4 464.4L744.3 469.7"/><path d="M719.1 455.0A266.0 266.0 0 0 1 717.4 464.4"/><path d="M717.9 459.6L718.3 459.7"/><path d="M714.4 467.2L778.3 480.8"/><path d="M682.5 560.2L724.4 587.6"/><path d="M669.3 574.5L725.5 617.2"/><path d="M378.9 661.6L356.6 733.3"/><path d="M344.8 645.7L312.2 713.7"/><path d="M581.1 180.1L610.0 126.0"/></g>
<g stroke="#1a7a1a" stroke-opacity="0.72" stroke-width="1.3" fill="none"><path d="M707.9 303.1L747.8 285.7"/><path d="M708.9 304.7L750.5 286.9"/><path d="M710.0 306.1L772.5 279.9"/><path d="M711.0 307.6L782.8 278.0"/><path d="M713.1 310.5L763.6 290.4"/><path d="M714.0 311.9L747.3 298.9"/><path d="M715.0 313.2L772.1 291.3"/><path d="M720.4 312.9L763.0 296.8"/><path d="M729.8 309.7L755.6 300.0"/><path d="M730.3 309.8L770.3 294.8"/><path d="M730.4 310.1L787.2 288.9"/><path d="M730.3 309.8A292.4 292.4 0 0 1 730.4 310.1"/><path d="M729.9 310.1L730.3 310.0"/><path d="M729.8 309.7A292.0 292.0 0 0 1 729.9 310.1"/><path d="M726.6 311.1L729.9 309.9"/><path d="M726.8 311.8L751.0 302.8"/><path d="M726.6 311.1A288.5 288.5 0 0 1 726.8 311.8"/><path d="M721.1 313.6L726.7 311.5"/><path d="M721.3 314.2L756.8 301.0"/><path d="M721.1 313.6A282.5 282.5 0 0 1 721.3 314.2"/><path d="M720.8 314.0L721.2 313.9"/><path d="M720.4 312.9A282.1 282.1 0 0 1 720.8 314.0"/><path d="M719.4 313.9L720.6 313.4"/><path d="M719.8 315.1L767.7 297.4"/><path d="M719.4 313.9A280.8 280.8 0 0 1 719.8 315.1"/><path d="M716.4 315.7L719.6 314.5"/><path d="M716.7 316.6L771.3 296.5"/><path d="M716.4 315.7A277.3 277.3 0 0 1 716.7 316.6"/><path d="M716.2 316.3L716.5 316.2"/><path d="M715.0 313.2A276.9 276.9 0 0 1 716.2 316.3"/><path d="M715.2 314.9L715.6 314.8"/><path d="M714.0 311.9A276.5 276.5 0 0 1 715.2 314.9"/><path d="M714.3 313.5L714.6 313.4"/><path d="M713.1 310.5A276.1 276.1 0 0 1 714.3 313.5"/><path d="M713.3 312.1L713.7 312.0"/><path d="M712.1 309.1A275.7 275.7 0 0 1 713.3 312.1"/><path d="M712.3 310.7L712.7 310.6"/><path d="M711.0 307.6A275.3 275.3 0 0 1 712.3 310.7"/><path d="M711.3 309.3L711.7 309.2"/><path d="M710.0 306.1A274.9 274.9 0 0 1 711.3 309.3"/><path d="M710.3 307.9L710.7 307.7"/><path d="M708.9 304.7A274.5 274.5 0 0 1 710.3 307.9"/><path d="M709.3 306.4L709.6 306.3"/><path d="M707.9 303.1A274.1 274.1 0 0 1 709.3 306.4"/><path d="M708.2 304.9L708.6 304.8"/><path d="M714.0 319.6L769.1 299.7"/><path d="M708.2 304.9A273.7 273.7 0 0 1 714.0 319.6"/><path d="M710.8 312.4L711.2 312.2"/><path d="M722.1 318.8L758.3 306.0"/><path d="M728.9 317.9L771.8 303.0"/><path d="M735.8 315.9L771.6 303.5"/><path d="M735.9 316.2L762.2 307.1"/><path d="M735.8 315.9A295.5 295.5 0 0 1 735.9 316.2"/><path d="M735.5 316.2L735.8 316.0"/><path d="M735.6 316.6L767.5 305.7"/><path d="M735.5 316.2A295.1 295.1 0 0 1 735.6 316.6"/><path d="M729.1 318.6L735.5 316.4"/><path d="M728.9 317.9A288.4 288.4 0 0 1 729.1 318.6"/><path d="M723.1 320.3L729.0 318.3"/><path d="M723.7 322.1L756.1 311.2"/><path d="M723.1 320.3A282.0 282.0 0 0 1 723.7 322.1"/><path d="M723.0 321.4L723.4 321.2"/><path d="M722.1 318.8A281.6 281.6 0 0 1 723.0 321.4"/><path d="M714.7 322.8L722.5 320.1"/><path d="M710.8 312.4A273.3 273.3 0 0 1 714.7 322.8"/><path d="M712.4 317.7L712.8 317.6"/><path d="M733.5 383.7L786.9 378.2"/><path d="M733.5 384.2L772.8 380.2"/><path d="M733.5 383.7A278.5 278.5 0 0 1 733.5 384.2"/><path d="M716.7 385.7L733.5 384.0"/></g>
<g stroke="#e02020" stroke-opacity="0.75" stroke-width="1.3" fill="none"><path d="M707.1 492.9L766.9 512.1"/><path d="M574.9 671.8L595.3 716.3"/><path d="M545.5 661.9L569.8 729.9"/><path d="M511.9 662.2L527.3 731.7"/><path d="M463.6 666.2L465.5 732.4"/><path d="M328.4 647.5L308.6 683.8"/><path d="M305.6 636.7L277.8 677.9"/><path d="M304.4 622.5L267.6 673.3"/><path d="M300.5 617.1L263.7 665.4"/><path d="M252.0 578.1L207.8 613.9"/><path d="M247.4 572.9L205.8 604.8"/><path d="M226.5 545.3L182.8 570.5"/><path d="M191.9 462.9L168.9 467.3"/><path d="M198.0 443.3L158.6 448.0"/><path d="M176.6 431.7L155.2 433.2"/><path d="M198.6 398.4L156.9 396.1"/><path d="M225.0 278.8L175.9 250.4"/><path d="M203.4 254.5L185.0 243.1"/><path d="M241.8 256.5L199.2 225.6"/><path d="M312.4 197.4L275.1 141.7"/><path d="M398.0 157.6L384.9 100.6"/><path d="M488.6 137.3L493.3 96.6"/><path d="M570.9 173.1L604.5 102.9"/><path d="M602.7 187.6L629.8 145.9"/><path d="M618.6 196.0L626.4 185.5"/><path d="M657.9 232.7L737.0 162.1"/><path d="M665.5 251.4L708.4 218.4"/><path d="M689.2 256.8L733.1 227.4"/><path d="M680.4 265.8L720.9 239.4"/><path d="M706.1 285.7L736.3 270.4"/><path d="M712.1 309.1L762.4 288.7"/></g>
<line x1="456.5" y1="412.5" x2="683.5" y2="332.5" stroke="#707070" stroke-width="1.4"/>
<g fill="#ed1c24"><circle cx="375.4" cy="42.2" r="4.2"/><circle cx="650.7" cy="81.9" r="4.2"/><circle cx="743.5" cy="154.2" r="4.2"/><circle cx="748.3" cy="159" r="4.2"/><circle cx="773" cy="190.3" r="4.2"/><circle cx="792" cy="220.8" r="4.2"/><circle cx="815.8" cy="268.8" r="4.2"/><circle cx="836.9" cy="339.5" r="4.2"/><circle cx="839.2" cy="357.5" r="4.2"/><circle cx="819.9" cy="531.2" r="4.2"/><circle cx="816.5" cy="538.4" r="4.2"/><circle cx="813.1" cy="549.1" r="4.2"/><circle cx="711" cy="689" r="4.2"/><circle cx="630.4" cy="740" r="4.2"/><circle cx="610" cy="749.8" r="4.2"/><circle cx="544.3" cy="770" r="4.2"/><circle cx="538" cy="771.6" r="4.2"/><circle cx="488.9" cy="779.0" r="4.2"/><circle cx="464.9" cy="779" r="4.2"/><circle cx="449.2" cy="779.3" r="4.2"/><circle cx="312" cy="748.5" r="4.2"/><circle cx="253.8" cy="719.4" r="4.2"/><circle cx="246.5" cy="714.6" r="4.2"/><circle cx="223.2" cy="697" r="4.2"/><circle cx="217.4" cy="692.7" r="4.2"/><circle cx="212" cy="687.9" r="4.2"/><circle cx="191.7" cy="668.4" r="4.2"/><circle cx="88.7" cy="486.4" r="4.2"/><circle cx="80.2" cy="388.6" r="4.2"/><circle cx="112.6" cy="256" r="4.2"/><circle cx="114.9" cy="249" r="4.2"/><circle cx="133.4" cy="215.8" r="4.2"/><circle cx="136.6" cy="209.8" r="4.2"/><circle cx="140.6" cy="204.4" r="4.2"/><circle cx="232" cy="106" r="4.2"/><circle cx="238" cy="103" r="4.2"/></g>
<line x1="459.7" y1="737.9" x2="483.4" y2="737.9" stroke="#858585" stroke-width="1.8"/>
</svg>
<div class="sq" style="top:28.2px;height:22px;background:#00b050"></div>
<div class="sq" style="top:64.2px;height:21.2px;background:#ff0000"></div>
<div class="sq" style="top:95.1px;height:21px;background:#9900cc"></div>
<div class="sq" style="top:133.2px;height:22px;background:#ffc000"></div>
<div class="sq" style="top:169.7px;height:20.5px;background:#0000ff"></div>
<div class="lg" style="left:55.1px;top:28.7px;transform:scaleX(0.956)">North and South America</div>
<div class="lg" style="left:56.3px;top:63.3px;transform:scaleX(0.933)">Bulgaria</div>
<div class="lg" style="left:56px;top:98.5px;transform:scaleX(0.966)">Europe</div>
<div class="lg" style="left:56px;top:132.2px;transform:scaleX(0.89)">Asia</div>
<div class="lg" style="left:56px;top:168.7px;transform:scaleX(0.948)">Africa</div>
<div class="lg" style="left:450.45px;top:743.6px;width:40px;text-align:center;font-size:12px;letter-spacing:-1.7px;color:#222;-webkit-text-stroke:0.35px #222">002</div>
</body></html>
